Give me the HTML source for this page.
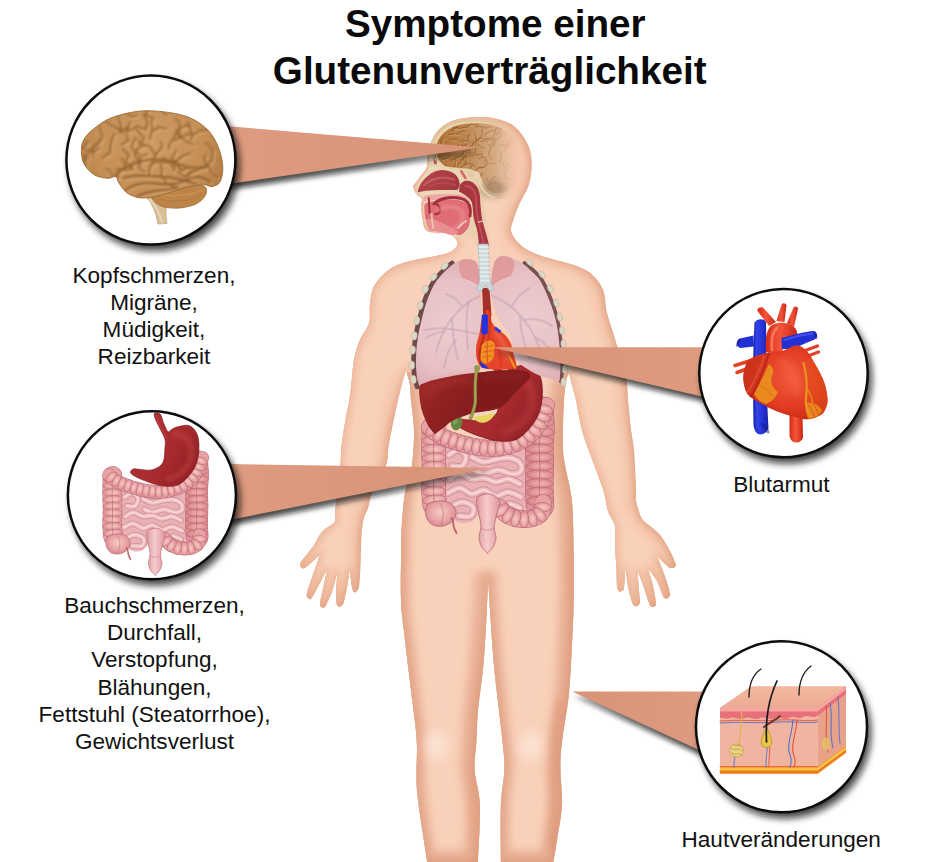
<!DOCTYPE html>
<html><head><meta charset="utf-8"><title>Symptome einer Glutenunverträglichkeit</title>
<style>
html,body{margin:0;padding:0;background:#fff;}
body{width:950px;height:862px;overflow:hidden;font-family:"Liberation Sans",sans-serif;}
svg{display:block}
text{font-family:"Liberation Sans",sans-serif;fill:#0a0a0a}
.t{font-weight:bold;font-size:38.65px;text-anchor:middle}
.l{font-size:22.55px;text-anchor:middle;fill:#111}
</style></head><body>
<svg width="950" height="862" viewBox="0 0 950 862">
<defs>
<linearGradient id="gTorso" gradientUnits="userSpaceOnUse" x1="395" y1="0" x2="580" y2="0">
 <stop offset="0" stop-color="#f8cdb2"/><stop offset="0.18" stop-color="#fad6c0"/><stop offset="0.55" stop-color="#f8cfb5"/><stop offset="0.85" stop-color="#f3bb9b"/><stop offset="1" stop-color="#eeaa88"/>
</linearGradient>
<filter id="sh" filterUnits="userSpaceOnUse" x="0" y="0" width="950" height="862"><feGaussianBlur stdDeviation="3.8"/></filter>
<filter id="sh2" filterUnits="userSpaceOnUse" x="0" y="0" width="950" height="862"><feGaussianBlur stdDeviation="2.8"/></filter>
<filter id="b08" filterUnits="userSpaceOnUse" x="0" y="0" width="950" height="862"><feGaussianBlur stdDeviation="0.8"/></filter>
<filter id="b05" filterUnits="userSpaceOnUse" x="0" y="0" width="950" height="862"><feGaussianBlur stdDeviation="0.7"/></filter>
<filter id="bS1" x="-10%" y="-10%" width="120%" height="120%"><feGaussianBlur stdDeviation="3"/></filter>
<filter id="bS2" x="-10%" y="-10%" width="120%" height="120%"><feGaussianBlur stdDeviation="9"/></filter>
<filter id="b1" filterUnits="userSpaceOnUse" x="0" y="0" width="950" height="862"><feGaussianBlur stdDeviation="1.2"/></filter>
<filter id="b2" filterUnits="userSpaceOnUse" x="0" y="0" width="950" height="862"><feGaussianBlur stdDeviation="3"/></filter>
<filter id="b4" filterUnits="userSpaceOnUse" x="0" y="0" width="950" height="862"><feGaussianBlur stdDeviation="6"/></filter>
<clipPath id="cTorso"><polygon points="407,372 404,400 400,430 397,470 395,500 395,862 582,862 580,470 576,430 571,400 568,372"/></clipPath>
<filter id="bS4" filterUnits="userSpaceOnUse" x="0" y="0" width="950" height="862"><feGaussianBlur stdDeviation="5"/></filter>
<clipPath id="cBody"><path d="M413.0,186.0 C413.5,187.2 414.5,191.3 416.0,193.5 C417.5,195.7 421.2,197.0 422.0,199.0 C422.8,201.0 420.9,202.2 421.0,205.5 C421.1,208.8 421.7,214.4 422.5,218.5 C423.3,222.6 423.6,227.6 426.0,230.0 C428.4,232.4 433.2,232.4 437.0,233.0 C440.8,233.6 445.2,232.3 448.5,233.5 C451.8,234.7 455.1,237.9 456.5,240.0 C457.9,242.1 458.1,244.0 457.0,246.0 C455.9,248.0 453.1,250.4 450.0,252.0 C446.9,253.6 445.1,254.0 438.5,255.5 C431.9,257.0 418.6,258.8 410.5,261.0 C402.4,263.2 396.0,264.9 390.0,269.0 C384.0,273.1 377.8,279.7 374.5,285.5 C371.2,291.3 370.9,297.8 370.0,304.0 C369.1,310.2 370.8,316.8 369.0,323.0 C367.2,329.2 362.0,334.8 359.5,341.0 C357.0,347.2 355.4,352.2 354.0,360.0 C352.6,367.8 351.8,381.0 351.0,388.0 C350.2,395.0 350.0,396.2 349.0,402.0 C348.0,407.8 346.2,415.7 345.0,423.0 C343.8,430.3 342.3,438.5 341.5,446.0 C340.7,453.5 341.1,459.8 340.3,468.0 C339.6,476.2 337.9,487.5 337.0,495.0 C336.1,502.5 335.4,508.5 335.0,513.0 C334.6,517.5 336.8,518.9 334.6,522.0 C332.4,525.1 325.5,527.8 322.0,531.8 C318.5,535.8 316.7,541.3 313.7,545.7 C310.7,550.1 306.3,555.0 304.0,558.0 C301.7,561.0 300.3,562.3 300.0,564.0 C299.7,565.7 301.0,567.5 302.0,568.0 C303.0,568.5 303.0,569.2 306.0,567.0 C309.0,564.8 317.7,556.8 320.0,554.8 C318.5,559.1 313.2,573.9 311.0,580.5 C308.8,587.1 307.1,591.5 306.7,594.5 C306.3,597.5 307.6,598.0 308.5,598.5 C309.4,599.0 309.8,600.8 312.0,597.5 C314.2,594.2 319.4,583.9 322.0,579.0 C324.6,574.1 326.7,569.8 327.6,568.0 C326.8,571.7 324.0,584.3 322.7,590.3 C321.4,596.3 320.1,601.1 320.0,604.0 C319.9,606.9 321.1,607.2 322.0,607.5 C322.9,607.8 323.8,608.9 325.5,606.0 C327.2,603.1 330.5,596.2 332.5,590.3 C334.5,584.4 336.6,574.0 337.4,570.8 C337.2,575.4 335.9,592.7 336.0,598.6 C336.1,604.5 337.2,605.1 338.0,606.3 C338.8,607.5 340.1,606.6 341.0,606.0 C341.9,605.4 342.6,605.9 343.6,602.8 C344.6,599.7 345.9,593.3 347.0,587.5 C348.1,581.7 349.4,571.2 349.9,568.0 C350.2,571.2 351.2,583.4 352.0,587.5 C352.8,591.6 353.9,592.0 354.8,592.4 C355.7,592.8 356.8,591.1 357.5,590.0 C358.2,588.9 358.5,589.7 359.0,586.0 C359.5,582.3 360.0,574.7 360.3,568.0 C360.6,561.3 360.8,551.7 361.0,545.7 C361.2,539.7 361.2,536.4 361.7,531.8 C362.2,527.2 362.8,521.9 363.8,517.9 C364.9,513.9 366.6,512.1 368.0,508.0 C369.4,503.9 369.0,500.2 372.0,493.0 C375.0,485.8 383.2,472.8 386.0,465.0 C388.8,457.2 387.4,453.0 388.6,446.0 C389.8,439.0 391.4,430.7 393.0,423.0 C394.6,415.3 396.3,407.2 398.0,400.0 C399.7,392.8 401.7,385.0 403.0,380.0 C404.3,375.0 405.5,371.7 406.0,370.0 C406.7,372.5 409.2,380.0 410.0,385.0 C410.8,390.0 410.3,392.5 411.0,400.0 C411.7,407.5 413.8,419.2 414.0,430.0 C414.2,440.8 413.5,454.5 412.0,465.0 C410.5,475.5 406.8,482.2 405.0,493.0 C403.2,503.8 402.2,518.5 401.5,530.0 C400.8,541.5 401.1,550.3 401.0,562.0 C400.9,573.7 400.5,588.7 401.0,600.0 C401.5,611.3 401.9,613.3 403.8,630.0 C405.7,646.7 410.0,681.3 412.2,700.0 C414.4,718.7 416.0,727.3 416.8,742.0 C417.6,756.7 415.6,771.7 416.8,788.0 C418.0,804.3 422.1,827.7 423.8,840.0 C425.6,852.3 426.7,858.3 427.3,862.0 C435.8,862.0 469.6,862.0 478.0,862.0 C478.3,852.5 480.5,820.3 479.9,805.0 C479.3,789.7 475.2,780.5 474.6,770.0 C474.0,759.5 475.8,751.9 476.4,742.0 C477.0,732.1 476.8,723.5 478.0,710.7 C479.2,697.9 482.0,680.1 483.4,665.0 C484.8,649.9 485.6,632.5 486.3,620.0 C487.0,607.5 487.3,598.0 487.6,590.0 C487.9,582.0 487.9,575.0 488.0,572.0 C488.1,575.0 488.4,582.0 488.8,590.0 C489.2,598.0 489.9,607.5 490.7,620.0 C491.5,632.5 492.5,649.9 493.9,665.0 C495.3,680.1 497.6,697.9 499.0,710.7 C500.4,723.5 501.7,732.1 502.6,742.0 C503.5,751.9 504.7,759.5 504.4,770.0 C504.1,780.5 501.5,789.7 500.9,805.0 C500.3,820.3 500.9,852.5 500.9,862.0 C509.6,862.0 544.6,862.0 553.4,862.0 C554.0,858.3 555.6,849.5 557.0,840.0 C558.4,830.5 561.4,816.7 562.0,805.0 C562.6,793.3 560.4,780.5 560.4,770.0 C560.4,759.5 560.6,754.8 562.0,742.0 C563.4,729.2 567.2,711.7 569.0,693.0 C570.8,674.3 571.9,645.5 572.7,630.0 C573.5,614.5 573.5,612.8 573.7,600.0 C573.9,587.2 574.0,569.3 573.7,553.0 C573.4,536.7 573.3,515.8 572.0,502.0 C570.7,488.2 567.5,478.5 566.0,470.0 C564.5,461.5 563.5,458.5 563.0,451.0 C562.5,443.5 562.8,433.5 563.0,425.0 C563.2,416.5 563.5,407.3 564.0,400.0 C564.5,392.7 565.2,385.5 566.0,381.0 C566.8,376.5 568.5,374.3 569.0,373.0 C569.8,376.2 572.8,387.5 574.0,392.0 C575.2,396.5 574.7,393.7 576.0,400.0 C577.3,406.3 579.8,421.5 582.0,430.0 C584.2,438.5 585.5,441.2 589.0,451.0 C592.5,460.8 599.8,479.0 603.0,489.0 C606.2,499.0 606.0,504.8 608.0,511.0 C610.0,517.2 613.8,520.4 615.0,526.2 C616.2,532.0 614.8,538.7 615.0,545.7 C615.2,552.7 616.2,561.3 616.5,568.0 C616.8,574.7 616.7,582.2 617.0,586.0 C617.3,589.8 618.0,589.5 618.5,590.5 C619.0,591.5 619.3,591.7 620.0,591.7 C620.7,591.7 621.8,591.2 622.5,590.5 C623.2,589.8 623.5,591.2 624.0,587.5 C624.5,583.8 625.2,571.2 625.5,568.0 C626.0,571.2 627.2,581.9 628.3,587.5 C629.3,593.1 630.8,598.4 631.8,601.4 C632.8,604.4 633.3,604.7 634.0,605.5 C634.7,606.3 635.2,606.4 636.0,606.3 C636.8,606.2 637.8,605.8 638.5,605.0 C639.2,604.2 640.0,604.3 640.0,601.4 C640.0,598.5 639.1,592.7 638.7,587.5 C638.3,582.3 637.6,572.9 637.4,570.0 C638.3,572.5 641.1,579.5 643.0,584.7 C644.9,589.9 647.2,597.9 648.5,601.4 C649.8,604.9 649.8,605.1 650.5,606.0 C651.2,606.9 652.0,607.0 652.7,607.0 C653.5,607.0 654.5,606.7 655.0,606.0 C655.5,605.3 656.4,606.3 656.0,602.8 C655.6,599.2 654.1,590.5 652.7,584.7 C651.3,578.9 648.6,570.8 647.8,568.0 C649.3,570.1 654.4,576.1 656.8,580.5 C659.2,584.9 661.1,591.6 662.4,594.5 C663.7,597.4 663.8,597.3 664.5,598.0 C665.2,598.7 665.9,598.8 666.6,598.6 C667.4,598.4 668.4,597.9 669.0,597.0 C669.6,596.1 670.7,596.4 670.0,593.0 C669.3,589.6 667.2,582.6 665.0,576.4 C662.8,570.1 658.2,559.0 656.8,555.5 C658.2,556.9 663.0,561.8 665.0,563.8 C667.0,565.8 667.8,566.8 669.0,567.5 C670.2,568.2 671.0,568.1 672.0,568.0 C673.0,567.9 674.4,567.7 675.0,567.0 C675.6,566.3 676.5,566.6 675.6,563.8 C674.7,561.0 672.1,554.9 669.4,550.0 C666.7,545.1 663.1,538.8 659.6,534.6 C656.1,530.4 651.5,527.6 648.5,524.8 C645.5,522.0 643.6,521.9 641.5,517.9 C639.4,513.9 636.9,505.6 636.0,501.0 C635.1,496.4 636.3,498.3 636.0,490.0 C635.7,481.7 634.8,461.0 634.0,451.0 C633.2,441.0 632.0,438.5 631.0,430.0 C630.0,421.5 628.8,408.6 628.0,400.0 C627.2,391.4 627.8,387.5 626.0,378.5 C624.2,369.5 619.3,354.1 617.0,346.0 C614.7,337.9 613.8,335.6 612.0,329.8 C610.2,324.0 608.0,317.6 606.5,311.0 C605.0,304.4 605.5,296.2 603.0,290.0 C600.5,283.8 596.4,278.2 591.4,274.0 C586.4,269.8 581.4,267.9 572.8,264.8 C564.2,261.7 548.5,258.6 540.0,255.5 C531.5,252.4 526.6,249.9 521.8,246.0 C517.0,242.1 512.6,236.6 511.3,232.0 C510.0,227.4 512.2,223.6 513.7,218.7 C515.2,213.8 517.6,207.9 520.0,202.5 C522.4,197.1 526.4,192.2 528.3,186.2 C530.2,180.2 531.6,173.5 531.6,166.7 C531.6,159.9 531.3,152.4 528.3,145.6 C525.3,138.8 519.8,130.6 513.7,126.0 C507.7,121.4 499.3,119.4 492.0,118.0 C484.7,116.6 476.7,117.0 470.0,117.5 C463.3,118.0 457.2,119.0 452.0,121.0 C446.8,123.0 442.5,125.9 439.0,129.5 C435.5,133.1 432.9,137.7 431.0,142.5 C429.1,147.3 428.2,154.4 427.5,158.5 C426.8,162.6 428.2,163.9 427.0,167.0 C425.8,170.1 422.3,173.8 420.0,177.0 C417.7,180.2 414.2,184.5 413.0,186.0 Z"/></clipPath>
<linearGradient id="gShL" x1="0" y1="0" x2="1" y2="0"><stop offset="0" stop-color="#151515" stop-opacity="0.78"/><stop offset="0.6" stop-color="#151515" stop-opacity="0.66"/><stop offset="1" stop-color="#151515" stop-opacity="0.38"/></linearGradient>
<linearGradient id="gShR" x1="1" y1="0" x2="0" y2="0"><stop offset="0" stop-color="#151515" stop-opacity="0.78"/><stop offset="0.6" stop-color="#151515" stop-opacity="0.66"/><stop offset="1" stop-color="#151515" stop-opacity="0.38"/></linearGradient>
<linearGradient id="gTri" x1="0" y1="0" x2="1" y2="0"><stop offset="0" stop-color="#de9b7f"/><stop offset="1" stop-color="#d89378"/></linearGradient>
<linearGradient id="gTriR" x1="1" y1="0" x2="0" y2="0"><stop offset="0" stop-color="#de9b7f"/><stop offset="1" stop-color="#d89378"/></linearGradient>

<radialGradient id="gHau" cx="0.5" cy="0.45" r="0.6"><stop offset="0" stop-color="#f6cac6"/><stop offset="0.55" stop-color="#eaa6a8"/><stop offset="1" stop-color="#d4848c"/></radialGradient>
<radialGradient id="gHau2" cx="0.5" cy="0.45" r="0.6"><stop offset="0" stop-color="#f2b8b6"/><stop offset="0.55" stop-color="#e29498"/><stop offset="1" stop-color="#cc747e"/></radialGradient>
<linearGradient id="gRect" gradientUnits="userSpaceOnUse" x1="477" y1="0" x2="499" y2="0"><stop offset="0" stop-color="#e09aa0"/><stop offset="0.45" stop-color="#f6cccc"/><stop offset="1" stop-color="#e09aa0"/></linearGradient>
<linearGradient id="gStom" gradientUnits="userSpaceOnUse" x1="465" y1="380" x2="545" y2="430"><stop offset="0" stop-color="#b03032"/><stop offset="0.5" stop-color="#a62a2e"/><stop offset="1" stop-color="#8a1e24"/></linearGradient>
<linearGradient id="gLiver" gradientUnits="userSpaceOnUse" x1="420" y1="375" x2="500" y2="430"><stop offset="0" stop-color="#a02a28"/><stop offset="0.4" stop-color="#8e2020"/><stop offset="1" stop-color="#7c181a"/></linearGradient>
<radialGradient id="gLungL" gradientUnits="userSpaceOnUse" cx="452" cy="325" r="66"><stop offset="0" stop-color="#ecccd0"/><stop offset="0.7" stop-color="#e7c0c4"/><stop offset="1" stop-color="#dfb0b6"/></radialGradient>
<radialGradient id="gLungR" gradientUnits="userSpaceOnUse" cx="528" cy="318" r="66"><stop offset="0" stop-color="#ecccd0"/><stop offset="0.7" stop-color="#e7c0c4"/><stop offset="1" stop-color="#dfb0b6"/></radialGradient>
<linearGradient id="gBlue" gradientUnits="userSpaceOnUse" x1="752" y1="0" x2="767" y2="0"><stop offset="0" stop-color="#1a22a8"/><stop offset="0.5" stop-color="#2c3ce6"/><stop offset="1" stop-color="#1c26b4"/></linearGradient>
<linearGradient id="gRed" x1="0" y1="0" x2="1" y2="0"><stop offset="0" stop-color="#d42c18"/><stop offset="0.45" stop-color="#f4553a"/><stop offset="1" stop-color="#cc2614"/></linearGradient>
<radialGradient id="gHeart" gradientUnits="userSpaceOnUse" cx="790" cy="378" r="48"><stop offset="0" stop-color="#f25a3a"/><stop offset="0.6" stop-color="#e23c22"/><stop offset="1" stop-color="#c62814"/></radialGradient>
<radialGradient id="gBrain" gradientUnits="userSpaceOnUse" cx="150" cy="145" r="80"><stop offset="0" stop-color="#cf9c64"/><stop offset="0.7" stop-color="#c48e54"/><stop offset="1" stop-color="#b27a40"/></radialGradient>
<linearGradient id="gSkinTop" x1="0" y1="0" x2="0" y2="1"><stop offset="0" stop-color="#f2b9a0"/><stop offset="1" stop-color="#ecaa92"/></linearGradient>
<linearGradient id="gCut" gradientUnits="userSpaceOnUse" x1="430" y1="0" x2="528" y2="0"><stop offset="0" stop-color="#ecd9b8"/><stop offset="0.45" stop-color="#ebd0ae"/><stop offset="0.85" stop-color="#f4c4a6" stop-opacity="0.6"/><stop offset="1" stop-color="#f4c4a6" stop-opacity="0"/></linearGradient>
<linearGradient id="gBrainH" gradientUnits="userSpaceOnUse" x1="437" y1="0" x2="522" y2="0"><stop offset="0" stop-color="#b6753a"/><stop offset="0.35" stop-color="#bd8650"/><stop offset="0.7" stop-color="#d0a680" stop-opacity="0.8"/><stop offset="1" stop-color="#eec2a4" stop-opacity="0"/></linearGradient>
<linearGradient id="gNasal" gradientUnits="userSpaceOnUse" x1="418" y1="170" x2="460" y2="195"><stop offset="0" stop-color="#b8464c"/><stop offset="1" stop-color="#a0343c"/></linearGradient>
<linearGradient id="gFade" gradientUnits="userSpaceOnUse" x1="440" y1="0" x2="515" y2="0"><stop offset="0" stop-color="#fff"/><stop offset="0.4" stop-color="#fff"/><stop offset="1" stop-color="#000"/></linearGradient>
<mask id="mFade" maskUnits="userSpaceOnUse" x="400" y="100" width="150" height="160"><rect x="400" y="100" width="150" height="160" fill="url(#gFade)"/></mask>
<linearGradient id="gFade2" gradientUnits="userSpaceOnUse" x1="440" y1="0" x2="526" y2="0"><stop offset="0" stop-color="#fff"/><stop offset="0.6" stop-color="#fff"/><stop offset="1" stop-color="#000"/></linearGradient>
<mask id="mFade2" maskUnits="userSpaceOnUse" x="400" y="100" width="150" height="160"><rect x="400" y="100" width="150" height="160" fill="url(#gFade2)"/></mask>
</defs>
<rect width="950" height="862" fill="#fff"/>
<path d="M413.0,186.0 C413.5,187.2 414.5,191.3 416.0,193.5 C417.5,195.7 421.2,197.0 422.0,199.0 C422.8,201.0 420.9,202.2 421.0,205.5 C421.1,208.8 421.7,214.4 422.5,218.5 C423.3,222.6 423.6,227.6 426.0,230.0 C428.4,232.4 433.2,232.4 437.0,233.0 C440.8,233.6 445.2,232.3 448.5,233.5 C451.8,234.7 455.1,237.9 456.5,240.0 C457.9,242.1 458.1,244.0 457.0,246.0 C455.9,248.0 453.1,250.4 450.0,252.0 C446.9,253.6 445.1,254.0 438.5,255.5 C431.9,257.0 418.6,258.8 410.5,261.0 C402.4,263.2 396.0,264.9 390.0,269.0 C384.0,273.1 377.8,279.7 374.5,285.5 C371.2,291.3 370.9,297.8 370.0,304.0 C369.1,310.2 370.8,316.8 369.0,323.0 C367.2,329.2 362.0,334.8 359.5,341.0 C357.0,347.2 355.4,352.2 354.0,360.0 C352.6,367.8 351.8,381.0 351.0,388.0 C350.2,395.0 350.0,396.2 349.0,402.0 C348.0,407.8 346.2,415.7 345.0,423.0 C343.8,430.3 342.3,438.5 341.5,446.0 C340.7,453.5 341.1,459.8 340.3,468.0 C339.6,476.2 337.9,487.5 337.0,495.0 C336.1,502.5 335.4,508.5 335.0,513.0 C334.6,517.5 336.8,518.9 334.6,522.0 C332.4,525.1 325.5,527.8 322.0,531.8 C318.5,535.8 316.7,541.3 313.7,545.7 C310.7,550.1 306.3,555.0 304.0,558.0 C301.7,561.0 300.3,562.3 300.0,564.0 C299.7,565.7 301.0,567.5 302.0,568.0 C303.0,568.5 303.0,569.2 306.0,567.0 C309.0,564.8 317.7,556.8 320.0,554.8 C318.5,559.1 313.2,573.9 311.0,580.5 C308.8,587.1 307.1,591.5 306.7,594.5 C306.3,597.5 307.6,598.0 308.5,598.5 C309.4,599.0 309.8,600.8 312.0,597.5 C314.2,594.2 319.4,583.9 322.0,579.0 C324.6,574.1 326.7,569.8 327.6,568.0 C326.8,571.7 324.0,584.3 322.7,590.3 C321.4,596.3 320.1,601.1 320.0,604.0 C319.9,606.9 321.1,607.2 322.0,607.5 C322.9,607.8 323.8,608.9 325.5,606.0 C327.2,603.1 330.5,596.2 332.5,590.3 C334.5,584.4 336.6,574.0 337.4,570.8 C337.2,575.4 335.9,592.7 336.0,598.6 C336.1,604.5 337.2,605.1 338.0,606.3 C338.8,607.5 340.1,606.6 341.0,606.0 C341.9,605.4 342.6,605.9 343.6,602.8 C344.6,599.7 345.9,593.3 347.0,587.5 C348.1,581.7 349.4,571.2 349.9,568.0 C350.2,571.2 351.2,583.4 352.0,587.5 C352.8,591.6 353.9,592.0 354.8,592.4 C355.7,592.8 356.8,591.1 357.5,590.0 C358.2,588.9 358.5,589.7 359.0,586.0 C359.5,582.3 360.0,574.7 360.3,568.0 C360.6,561.3 360.8,551.7 361.0,545.7 C361.2,539.7 361.2,536.4 361.7,531.8 C362.2,527.2 362.8,521.9 363.8,517.9 C364.9,513.9 366.6,512.1 368.0,508.0 C369.4,503.9 369.0,500.2 372.0,493.0 C375.0,485.8 383.2,472.8 386.0,465.0 C388.8,457.2 387.4,453.0 388.6,446.0 C389.8,439.0 391.4,430.7 393.0,423.0 C394.6,415.3 396.3,407.2 398.0,400.0 C399.7,392.8 401.7,385.0 403.0,380.0 C404.3,375.0 405.5,371.7 406.0,370.0 C406.7,372.5 409.2,380.0 410.0,385.0 C410.8,390.0 410.3,392.5 411.0,400.0 C411.7,407.5 413.8,419.2 414.0,430.0 C414.2,440.8 413.5,454.5 412.0,465.0 C410.5,475.5 406.8,482.2 405.0,493.0 C403.2,503.8 402.2,518.5 401.5,530.0 C400.8,541.5 401.1,550.3 401.0,562.0 C400.9,573.7 400.5,588.7 401.0,600.0 C401.5,611.3 401.9,613.3 403.8,630.0 C405.7,646.7 410.0,681.3 412.2,700.0 C414.4,718.7 416.0,727.3 416.8,742.0 C417.6,756.7 415.6,771.7 416.8,788.0 C418.0,804.3 422.1,827.7 423.8,840.0 C425.6,852.3 426.7,858.3 427.3,862.0 C435.8,862.0 469.6,862.0 478.0,862.0 C478.3,852.5 480.5,820.3 479.9,805.0 C479.3,789.7 475.2,780.5 474.6,770.0 C474.0,759.5 475.8,751.9 476.4,742.0 C477.0,732.1 476.8,723.5 478.0,710.7 C479.2,697.9 482.0,680.1 483.4,665.0 C484.8,649.9 485.6,632.5 486.3,620.0 C487.0,607.5 487.3,598.0 487.6,590.0 C487.9,582.0 487.9,575.0 488.0,572.0 C488.1,575.0 488.4,582.0 488.8,590.0 C489.2,598.0 489.9,607.5 490.7,620.0 C491.5,632.5 492.5,649.9 493.9,665.0 C495.3,680.1 497.6,697.9 499.0,710.7 C500.4,723.5 501.7,732.1 502.6,742.0 C503.5,751.9 504.7,759.5 504.4,770.0 C504.1,780.5 501.5,789.7 500.9,805.0 C500.3,820.3 500.9,852.5 500.9,862.0 C509.6,862.0 544.6,862.0 553.4,862.0 C554.0,858.3 555.6,849.5 557.0,840.0 C558.4,830.5 561.4,816.7 562.0,805.0 C562.6,793.3 560.4,780.5 560.4,770.0 C560.4,759.5 560.6,754.8 562.0,742.0 C563.4,729.2 567.2,711.7 569.0,693.0 C570.8,674.3 571.9,645.5 572.7,630.0 C573.5,614.5 573.5,612.8 573.7,600.0 C573.9,587.2 574.0,569.3 573.7,553.0 C573.4,536.7 573.3,515.8 572.0,502.0 C570.7,488.2 567.5,478.5 566.0,470.0 C564.5,461.5 563.5,458.5 563.0,451.0 C562.5,443.5 562.8,433.5 563.0,425.0 C563.2,416.5 563.5,407.3 564.0,400.0 C564.5,392.7 565.2,385.5 566.0,381.0 C566.8,376.5 568.5,374.3 569.0,373.0 C569.8,376.2 572.8,387.5 574.0,392.0 C575.2,396.5 574.7,393.7 576.0,400.0 C577.3,406.3 579.8,421.5 582.0,430.0 C584.2,438.5 585.5,441.2 589.0,451.0 C592.5,460.8 599.8,479.0 603.0,489.0 C606.2,499.0 606.0,504.8 608.0,511.0 C610.0,517.2 613.8,520.4 615.0,526.2 C616.2,532.0 614.8,538.7 615.0,545.7 C615.2,552.7 616.2,561.3 616.5,568.0 C616.8,574.7 616.7,582.2 617.0,586.0 C617.3,589.8 618.0,589.5 618.5,590.5 C619.0,591.5 619.3,591.7 620.0,591.7 C620.7,591.7 621.8,591.2 622.5,590.5 C623.2,589.8 623.5,591.2 624.0,587.5 C624.5,583.8 625.2,571.2 625.5,568.0 C626.0,571.2 627.2,581.9 628.3,587.5 C629.3,593.1 630.8,598.4 631.8,601.4 C632.8,604.4 633.3,604.7 634.0,605.5 C634.7,606.3 635.2,606.4 636.0,606.3 C636.8,606.2 637.8,605.8 638.5,605.0 C639.2,604.2 640.0,604.3 640.0,601.4 C640.0,598.5 639.1,592.7 638.7,587.5 C638.3,582.3 637.6,572.9 637.4,570.0 C638.3,572.5 641.1,579.5 643.0,584.7 C644.9,589.9 647.2,597.9 648.5,601.4 C649.8,604.9 649.8,605.1 650.5,606.0 C651.2,606.9 652.0,607.0 652.7,607.0 C653.5,607.0 654.5,606.7 655.0,606.0 C655.5,605.3 656.4,606.3 656.0,602.8 C655.6,599.2 654.1,590.5 652.7,584.7 C651.3,578.9 648.6,570.8 647.8,568.0 C649.3,570.1 654.4,576.1 656.8,580.5 C659.2,584.9 661.1,591.6 662.4,594.5 C663.7,597.4 663.8,597.3 664.5,598.0 C665.2,598.7 665.9,598.8 666.6,598.6 C667.4,598.4 668.4,597.9 669.0,597.0 C669.6,596.1 670.7,596.4 670.0,593.0 C669.3,589.6 667.2,582.6 665.0,576.4 C662.8,570.1 658.2,559.0 656.8,555.5 C658.2,556.9 663.0,561.8 665.0,563.8 C667.0,565.8 667.8,566.8 669.0,567.5 C670.2,568.2 671.0,568.1 672.0,568.0 C673.0,567.9 674.4,567.7 675.0,567.0 C675.6,566.3 676.5,566.6 675.6,563.8 C674.7,561.0 672.1,554.9 669.4,550.0 C666.7,545.1 663.1,538.8 659.6,534.6 C656.1,530.4 651.5,527.6 648.5,524.8 C645.5,522.0 643.6,521.9 641.5,517.9 C639.4,513.9 636.9,505.6 636.0,501.0 C635.1,496.4 636.3,498.3 636.0,490.0 C635.7,481.7 634.8,461.0 634.0,451.0 C633.2,441.0 632.0,438.5 631.0,430.0 C630.0,421.5 628.8,408.6 628.0,400.0 C627.2,391.4 627.8,387.5 626.0,378.5 C624.2,369.5 619.3,354.1 617.0,346.0 C614.7,337.9 613.8,335.6 612.0,329.8 C610.2,324.0 608.0,317.6 606.5,311.0 C605.0,304.4 605.5,296.2 603.0,290.0 C600.5,283.8 596.4,278.2 591.4,274.0 C586.4,269.8 581.4,267.9 572.8,264.8 C564.2,261.7 548.5,258.6 540.0,255.5 C531.5,252.4 526.6,249.9 521.8,246.0 C517.0,242.1 512.6,236.6 511.3,232.0 C510.0,227.4 512.2,223.6 513.7,218.7 C515.2,213.8 517.6,207.9 520.0,202.5 C522.4,197.1 526.4,192.2 528.3,186.2 C530.2,180.2 531.6,173.5 531.6,166.7 C531.6,159.9 531.3,152.4 528.3,145.6 C525.3,138.8 519.8,130.6 513.7,126.0 C507.7,121.4 499.3,119.4 492.0,118.0 C484.7,116.6 476.7,117.0 470.0,117.5 C463.3,118.0 457.2,119.0 452.0,121.0 C446.8,123.0 442.5,125.9 439.0,129.5 C435.5,133.1 432.9,137.7 431.0,142.5 C429.1,147.3 428.2,154.4 427.5,158.5 C426.8,162.6 428.2,163.9 427.0,167.0 C425.8,170.1 422.3,173.8 420.0,177.0 C417.7,180.2 414.2,184.5 413.0,186.0 Z" fill="#d99674"/><g clip-path="url(#cBody)"><path d="M413.0,186.0 C413.5,187.2 414.5,191.3 416.0,193.5 C417.5,195.7 421.2,197.0 422.0,199.0 C422.8,201.0 420.9,202.2 421.0,205.5 C421.1,208.8 421.7,214.4 422.5,218.5 C423.3,222.6 423.6,227.6 426.0,230.0 C428.4,232.4 433.2,232.4 437.0,233.0 C440.8,233.6 445.2,232.3 448.5,233.5 C451.8,234.7 455.1,237.9 456.5,240.0 C457.9,242.1 458.1,244.0 457.0,246.0 C455.9,248.0 453.1,250.4 450.0,252.0 C446.9,253.6 445.1,254.0 438.5,255.5 C431.9,257.0 418.6,258.8 410.5,261.0 C402.4,263.2 396.0,264.9 390.0,269.0 C384.0,273.1 377.8,279.7 374.5,285.5 C371.2,291.3 370.9,297.8 370.0,304.0 C369.1,310.2 370.8,316.8 369.0,323.0 C367.2,329.2 362.0,334.8 359.5,341.0 C357.0,347.2 355.4,352.2 354.0,360.0 C352.6,367.8 351.8,381.0 351.0,388.0 C350.2,395.0 350.0,396.2 349.0,402.0 C348.0,407.8 346.2,415.7 345.0,423.0 C343.8,430.3 342.3,438.5 341.5,446.0 C340.7,453.5 341.1,459.8 340.3,468.0 C339.6,476.2 337.9,487.5 337.0,495.0 C336.1,502.5 335.4,508.5 335.0,513.0 C334.6,517.5 336.8,518.9 334.6,522.0 C332.4,525.1 325.5,527.8 322.0,531.8 C318.5,535.8 316.7,541.3 313.7,545.7 C310.7,550.1 306.3,555.0 304.0,558.0 C301.7,561.0 300.3,562.3 300.0,564.0 C299.7,565.7 301.0,567.5 302.0,568.0 C303.0,568.5 303.0,569.2 306.0,567.0 C309.0,564.8 317.7,556.8 320.0,554.8 C318.5,559.1 313.2,573.9 311.0,580.5 C308.8,587.1 307.1,591.5 306.7,594.5 C306.3,597.5 307.6,598.0 308.5,598.5 C309.4,599.0 309.8,600.8 312.0,597.5 C314.2,594.2 319.4,583.9 322.0,579.0 C324.6,574.1 326.7,569.8 327.6,568.0 C326.8,571.7 324.0,584.3 322.7,590.3 C321.4,596.3 320.1,601.1 320.0,604.0 C319.9,606.9 321.1,607.2 322.0,607.5 C322.9,607.8 323.8,608.9 325.5,606.0 C327.2,603.1 330.5,596.2 332.5,590.3 C334.5,584.4 336.6,574.0 337.4,570.8 C337.2,575.4 335.9,592.7 336.0,598.6 C336.1,604.5 337.2,605.1 338.0,606.3 C338.8,607.5 340.1,606.6 341.0,606.0 C341.9,605.4 342.6,605.9 343.6,602.8 C344.6,599.7 345.9,593.3 347.0,587.5 C348.1,581.7 349.4,571.2 349.9,568.0 C350.2,571.2 351.2,583.4 352.0,587.5 C352.8,591.6 353.9,592.0 354.8,592.4 C355.7,592.8 356.8,591.1 357.5,590.0 C358.2,588.9 358.5,589.7 359.0,586.0 C359.5,582.3 360.0,574.7 360.3,568.0 C360.6,561.3 360.8,551.7 361.0,545.7 C361.2,539.7 361.2,536.4 361.7,531.8 C362.2,527.2 362.8,521.9 363.8,517.9 C364.9,513.9 366.6,512.1 368.0,508.0 C369.4,503.9 369.0,500.2 372.0,493.0 C375.0,485.8 383.2,472.8 386.0,465.0 C388.8,457.2 387.4,453.0 388.6,446.0 C389.8,439.0 391.4,430.7 393.0,423.0 C394.6,415.3 396.3,407.2 398.0,400.0 C399.7,392.8 401.7,385.0 403.0,380.0 C404.3,375.0 405.5,371.7 406.0,370.0 C406.7,372.5 409.2,380.0 410.0,385.0 C410.8,390.0 410.3,392.5 411.0,400.0 C411.7,407.5 413.8,419.2 414.0,430.0 C414.2,440.8 413.5,454.5 412.0,465.0 C410.5,475.5 406.8,482.2 405.0,493.0 C403.2,503.8 402.2,518.5 401.5,530.0 C400.8,541.5 401.1,550.3 401.0,562.0 C400.9,573.7 400.5,588.7 401.0,600.0 C401.5,611.3 401.9,613.3 403.8,630.0 C405.7,646.7 410.0,681.3 412.2,700.0 C414.4,718.7 416.0,727.3 416.8,742.0 C417.6,756.7 415.6,771.7 416.8,788.0 C418.0,804.3 422.1,827.7 423.8,840.0 C425.6,852.3 426.7,858.3 427.3,862.0 C435.8,862.0 469.6,862.0 478.0,862.0 C478.3,852.5 480.5,820.3 479.9,805.0 C479.3,789.7 475.2,780.5 474.6,770.0 C474.0,759.5 475.8,751.9 476.4,742.0 C477.0,732.1 476.8,723.5 478.0,710.7 C479.2,697.9 482.0,680.1 483.4,665.0 C484.8,649.9 485.6,632.5 486.3,620.0 C487.0,607.5 487.3,598.0 487.6,590.0 C487.9,582.0 487.9,575.0 488.0,572.0 C488.1,575.0 488.4,582.0 488.8,590.0 C489.2,598.0 489.9,607.5 490.7,620.0 C491.5,632.5 492.5,649.9 493.9,665.0 C495.3,680.1 497.6,697.9 499.0,710.7 C500.4,723.5 501.7,732.1 502.6,742.0 C503.5,751.9 504.7,759.5 504.4,770.0 C504.1,780.5 501.5,789.7 500.9,805.0 C500.3,820.3 500.9,852.5 500.9,862.0 C509.6,862.0 544.6,862.0 553.4,862.0 C554.0,858.3 555.6,849.5 557.0,840.0 C558.4,830.5 561.4,816.7 562.0,805.0 C562.6,793.3 560.4,780.5 560.4,770.0 C560.4,759.5 560.6,754.8 562.0,742.0 C563.4,729.2 567.2,711.7 569.0,693.0 C570.8,674.3 571.9,645.5 572.7,630.0 C573.5,614.5 573.5,612.8 573.7,600.0 C573.9,587.2 574.0,569.3 573.7,553.0 C573.4,536.7 573.3,515.8 572.0,502.0 C570.7,488.2 567.5,478.5 566.0,470.0 C564.5,461.5 563.5,458.5 563.0,451.0 C562.5,443.5 562.8,433.5 563.0,425.0 C563.2,416.5 563.5,407.3 564.0,400.0 C564.5,392.7 565.2,385.5 566.0,381.0 C566.8,376.5 568.5,374.3 569.0,373.0 C569.8,376.2 572.8,387.5 574.0,392.0 C575.2,396.5 574.7,393.7 576.0,400.0 C577.3,406.3 579.8,421.5 582.0,430.0 C584.2,438.5 585.5,441.2 589.0,451.0 C592.5,460.8 599.8,479.0 603.0,489.0 C606.2,499.0 606.0,504.8 608.0,511.0 C610.0,517.2 613.8,520.4 615.0,526.2 C616.2,532.0 614.8,538.7 615.0,545.7 C615.2,552.7 616.2,561.3 616.5,568.0 C616.8,574.7 616.7,582.2 617.0,586.0 C617.3,589.8 618.0,589.5 618.5,590.5 C619.0,591.5 619.3,591.7 620.0,591.7 C620.7,591.7 621.8,591.2 622.5,590.5 C623.2,589.8 623.5,591.2 624.0,587.5 C624.5,583.8 625.2,571.2 625.5,568.0 C626.0,571.2 627.2,581.9 628.3,587.5 C629.3,593.1 630.8,598.4 631.8,601.4 C632.8,604.4 633.3,604.7 634.0,605.5 C634.7,606.3 635.2,606.4 636.0,606.3 C636.8,606.2 637.8,605.8 638.5,605.0 C639.2,604.2 640.0,604.3 640.0,601.4 C640.0,598.5 639.1,592.7 638.7,587.5 C638.3,582.3 637.6,572.9 637.4,570.0 C638.3,572.5 641.1,579.5 643.0,584.7 C644.9,589.9 647.2,597.9 648.5,601.4 C649.8,604.9 649.8,605.1 650.5,606.0 C651.2,606.9 652.0,607.0 652.7,607.0 C653.5,607.0 654.5,606.7 655.0,606.0 C655.5,605.3 656.4,606.3 656.0,602.8 C655.6,599.2 654.1,590.5 652.7,584.7 C651.3,578.9 648.6,570.8 647.8,568.0 C649.3,570.1 654.4,576.1 656.8,580.5 C659.2,584.9 661.1,591.6 662.4,594.5 C663.7,597.4 663.8,597.3 664.5,598.0 C665.2,598.7 665.9,598.8 666.6,598.6 C667.4,598.4 668.4,597.9 669.0,597.0 C669.6,596.1 670.7,596.4 670.0,593.0 C669.3,589.6 667.2,582.6 665.0,576.4 C662.8,570.1 658.2,559.0 656.8,555.5 C658.2,556.9 663.0,561.8 665.0,563.8 C667.0,565.8 667.8,566.8 669.0,567.5 C670.2,568.2 671.0,568.1 672.0,568.0 C673.0,567.9 674.4,567.7 675.0,567.0 C675.6,566.3 676.5,566.6 675.6,563.8 C674.7,561.0 672.1,554.9 669.4,550.0 C666.7,545.1 663.1,538.8 659.6,534.6 C656.1,530.4 651.5,527.6 648.5,524.8 C645.5,522.0 643.6,521.9 641.5,517.9 C639.4,513.9 636.9,505.6 636.0,501.0 C635.1,496.4 636.3,498.3 636.0,490.0 C635.7,481.7 634.8,461.0 634.0,451.0 C633.2,441.0 632.0,438.5 631.0,430.0 C630.0,421.5 628.8,408.6 628.0,400.0 C627.2,391.4 627.8,387.5 626.0,378.5 C624.2,369.5 619.3,354.1 617.0,346.0 C614.7,337.9 613.8,335.6 612.0,329.8 C610.2,324.0 608.0,317.6 606.5,311.0 C605.0,304.4 605.5,296.2 603.0,290.0 C600.5,283.8 596.4,278.2 591.4,274.0 C586.4,269.8 581.4,267.9 572.8,264.8 C564.2,261.7 548.5,258.6 540.0,255.5 C531.5,252.4 526.6,249.9 521.8,246.0 C517.0,242.1 512.6,236.6 511.3,232.0 C510.0,227.4 512.2,223.6 513.7,218.7 C515.2,213.8 517.6,207.9 520.0,202.5 C522.4,197.1 526.4,192.2 528.3,186.2 C530.2,180.2 531.6,173.5 531.6,166.7 C531.6,159.9 531.3,152.4 528.3,145.6 C525.3,138.8 519.8,130.6 513.7,126.0 C507.7,121.4 499.3,119.4 492.0,118.0 C484.7,116.6 476.7,117.0 470.0,117.5 C463.3,118.0 457.2,119.0 452.0,121.0 C446.8,123.0 442.5,125.9 439.0,129.5 C435.5,133.1 432.9,137.7 431.0,142.5 C429.1,147.3 428.2,154.4 427.5,158.5 C426.8,162.6 428.2,163.9 427.0,167.0 C425.8,170.1 422.3,173.8 420.0,177.0 C417.7,180.2 414.2,184.5 413.0,186.0 Z" fill="#edb597" transform="translate(-2,0)" filter="url(#bS1)"/><path d="M413.0,186.0 C413.5,187.2 414.5,191.3 416.0,193.5 C417.5,195.7 421.2,197.0 422.0,199.0 C422.8,201.0 420.9,202.2 421.0,205.5 C421.1,208.8 421.7,214.4 422.5,218.5 C423.3,222.6 423.6,227.6 426.0,230.0 C428.4,232.4 433.2,232.4 437.0,233.0 C440.8,233.6 445.2,232.3 448.5,233.5 C451.8,234.7 455.1,237.9 456.5,240.0 C457.9,242.1 458.1,244.0 457.0,246.0 C455.9,248.0 453.1,250.4 450.0,252.0 C446.9,253.6 445.1,254.0 438.5,255.5 C431.9,257.0 418.6,258.8 410.5,261.0 C402.4,263.2 396.0,264.9 390.0,269.0 C384.0,273.1 377.8,279.7 374.5,285.5 C371.2,291.3 370.9,297.8 370.0,304.0 C369.1,310.2 370.8,316.8 369.0,323.0 C367.2,329.2 362.0,334.8 359.5,341.0 C357.0,347.2 355.4,352.2 354.0,360.0 C352.6,367.8 351.8,381.0 351.0,388.0 C350.2,395.0 350.0,396.2 349.0,402.0 C348.0,407.8 346.2,415.7 345.0,423.0 C343.8,430.3 342.3,438.5 341.5,446.0 C340.7,453.5 341.1,459.8 340.3,468.0 C339.6,476.2 337.9,487.5 337.0,495.0 C336.1,502.5 335.4,508.5 335.0,513.0 C334.6,517.5 336.8,518.9 334.6,522.0 C332.4,525.1 325.5,527.8 322.0,531.8 C318.5,535.8 316.7,541.3 313.7,545.7 C310.7,550.1 306.3,555.0 304.0,558.0 C301.7,561.0 300.3,562.3 300.0,564.0 C299.7,565.7 301.0,567.5 302.0,568.0 C303.0,568.5 303.0,569.2 306.0,567.0 C309.0,564.8 317.7,556.8 320.0,554.8 C318.5,559.1 313.2,573.9 311.0,580.5 C308.8,587.1 307.1,591.5 306.7,594.5 C306.3,597.5 307.6,598.0 308.5,598.5 C309.4,599.0 309.8,600.8 312.0,597.5 C314.2,594.2 319.4,583.9 322.0,579.0 C324.6,574.1 326.7,569.8 327.6,568.0 C326.8,571.7 324.0,584.3 322.7,590.3 C321.4,596.3 320.1,601.1 320.0,604.0 C319.9,606.9 321.1,607.2 322.0,607.5 C322.9,607.8 323.8,608.9 325.5,606.0 C327.2,603.1 330.5,596.2 332.5,590.3 C334.5,584.4 336.6,574.0 337.4,570.8 C337.2,575.4 335.9,592.7 336.0,598.6 C336.1,604.5 337.2,605.1 338.0,606.3 C338.8,607.5 340.1,606.6 341.0,606.0 C341.9,605.4 342.6,605.9 343.6,602.8 C344.6,599.7 345.9,593.3 347.0,587.5 C348.1,581.7 349.4,571.2 349.9,568.0 C350.2,571.2 351.2,583.4 352.0,587.5 C352.8,591.6 353.9,592.0 354.8,592.4 C355.7,592.8 356.8,591.1 357.5,590.0 C358.2,588.9 358.5,589.7 359.0,586.0 C359.5,582.3 360.0,574.7 360.3,568.0 C360.6,561.3 360.8,551.7 361.0,545.7 C361.2,539.7 361.2,536.4 361.7,531.8 C362.2,527.2 362.8,521.9 363.8,517.9 C364.9,513.9 366.6,512.1 368.0,508.0 C369.4,503.9 369.0,500.2 372.0,493.0 C375.0,485.8 383.2,472.8 386.0,465.0 C388.8,457.2 387.4,453.0 388.6,446.0 C389.8,439.0 391.4,430.7 393.0,423.0 C394.6,415.3 396.3,407.2 398.0,400.0 C399.7,392.8 401.7,385.0 403.0,380.0 C404.3,375.0 405.5,371.7 406.0,370.0 C406.7,372.5 409.2,380.0 410.0,385.0 C410.8,390.0 410.3,392.5 411.0,400.0 C411.7,407.5 413.8,419.2 414.0,430.0 C414.2,440.8 413.5,454.5 412.0,465.0 C410.5,475.5 406.8,482.2 405.0,493.0 C403.2,503.8 402.2,518.5 401.5,530.0 C400.8,541.5 401.1,550.3 401.0,562.0 C400.9,573.7 400.5,588.7 401.0,600.0 C401.5,611.3 401.9,613.3 403.8,630.0 C405.7,646.7 410.0,681.3 412.2,700.0 C414.4,718.7 416.0,727.3 416.8,742.0 C417.6,756.7 415.6,771.7 416.8,788.0 C418.0,804.3 422.1,827.7 423.8,840.0 C425.6,852.3 426.7,858.3 427.3,862.0 C435.8,862.0 469.6,862.0 478.0,862.0 C478.3,852.5 480.5,820.3 479.9,805.0 C479.3,789.7 475.2,780.5 474.6,770.0 C474.0,759.5 475.8,751.9 476.4,742.0 C477.0,732.1 476.8,723.5 478.0,710.7 C479.2,697.9 482.0,680.1 483.4,665.0 C484.8,649.9 485.6,632.5 486.3,620.0 C487.0,607.5 487.3,598.0 487.6,590.0 C487.9,582.0 487.9,575.0 488.0,572.0 C488.1,575.0 488.4,582.0 488.8,590.0 C489.2,598.0 489.9,607.5 490.7,620.0 C491.5,632.5 492.5,649.9 493.9,665.0 C495.3,680.1 497.6,697.9 499.0,710.7 C500.4,723.5 501.7,732.1 502.6,742.0 C503.5,751.9 504.7,759.5 504.4,770.0 C504.1,780.5 501.5,789.7 500.9,805.0 C500.3,820.3 500.9,852.5 500.9,862.0 C509.6,862.0 544.6,862.0 553.4,862.0 C554.0,858.3 555.6,849.5 557.0,840.0 C558.4,830.5 561.4,816.7 562.0,805.0 C562.6,793.3 560.4,780.5 560.4,770.0 C560.4,759.5 560.6,754.8 562.0,742.0 C563.4,729.2 567.2,711.7 569.0,693.0 C570.8,674.3 571.9,645.5 572.7,630.0 C573.5,614.5 573.5,612.8 573.7,600.0 C573.9,587.2 574.0,569.3 573.7,553.0 C573.4,536.7 573.3,515.8 572.0,502.0 C570.7,488.2 567.5,478.5 566.0,470.0 C564.5,461.5 563.5,458.5 563.0,451.0 C562.5,443.5 562.8,433.5 563.0,425.0 C563.2,416.5 563.5,407.3 564.0,400.0 C564.5,392.7 565.2,385.5 566.0,381.0 C566.8,376.5 568.5,374.3 569.0,373.0 C569.8,376.2 572.8,387.5 574.0,392.0 C575.2,396.5 574.7,393.7 576.0,400.0 C577.3,406.3 579.8,421.5 582.0,430.0 C584.2,438.5 585.5,441.2 589.0,451.0 C592.5,460.8 599.8,479.0 603.0,489.0 C606.2,499.0 606.0,504.8 608.0,511.0 C610.0,517.2 613.8,520.4 615.0,526.2 C616.2,532.0 614.8,538.7 615.0,545.7 C615.2,552.7 616.2,561.3 616.5,568.0 C616.8,574.7 616.7,582.2 617.0,586.0 C617.3,589.8 618.0,589.5 618.5,590.5 C619.0,591.5 619.3,591.7 620.0,591.7 C620.7,591.7 621.8,591.2 622.5,590.5 C623.2,589.8 623.5,591.2 624.0,587.5 C624.5,583.8 625.2,571.2 625.5,568.0 C626.0,571.2 627.2,581.9 628.3,587.5 C629.3,593.1 630.8,598.4 631.8,601.4 C632.8,604.4 633.3,604.7 634.0,605.5 C634.7,606.3 635.2,606.4 636.0,606.3 C636.8,606.2 637.8,605.8 638.5,605.0 C639.2,604.2 640.0,604.3 640.0,601.4 C640.0,598.5 639.1,592.7 638.7,587.5 C638.3,582.3 637.6,572.9 637.4,570.0 C638.3,572.5 641.1,579.5 643.0,584.7 C644.9,589.9 647.2,597.9 648.5,601.4 C649.8,604.9 649.8,605.1 650.5,606.0 C651.2,606.9 652.0,607.0 652.7,607.0 C653.5,607.0 654.5,606.7 655.0,606.0 C655.5,605.3 656.4,606.3 656.0,602.8 C655.6,599.2 654.1,590.5 652.7,584.7 C651.3,578.9 648.6,570.8 647.8,568.0 C649.3,570.1 654.4,576.1 656.8,580.5 C659.2,584.9 661.1,591.6 662.4,594.5 C663.7,597.4 663.8,597.3 664.5,598.0 C665.2,598.7 665.9,598.8 666.6,598.6 C667.4,598.4 668.4,597.9 669.0,597.0 C669.6,596.1 670.7,596.4 670.0,593.0 C669.3,589.6 667.2,582.6 665.0,576.4 C662.8,570.1 658.2,559.0 656.8,555.5 C658.2,556.9 663.0,561.8 665.0,563.8 C667.0,565.8 667.8,566.8 669.0,567.5 C670.2,568.2 671.0,568.1 672.0,568.0 C673.0,567.9 674.4,567.7 675.0,567.0 C675.6,566.3 676.5,566.6 675.6,563.8 C674.7,561.0 672.1,554.9 669.4,550.0 C666.7,545.1 663.1,538.8 659.6,534.6 C656.1,530.4 651.5,527.6 648.5,524.8 C645.5,522.0 643.6,521.9 641.5,517.9 C639.4,513.9 636.9,505.6 636.0,501.0 C635.1,496.4 636.3,498.3 636.0,490.0 C635.7,481.7 634.8,461.0 634.0,451.0 C633.2,441.0 632.0,438.5 631.0,430.0 C630.0,421.5 628.8,408.6 628.0,400.0 C627.2,391.4 627.8,387.5 626.0,378.5 C624.2,369.5 619.3,354.1 617.0,346.0 C614.7,337.9 613.8,335.6 612.0,329.8 C610.2,324.0 608.0,317.6 606.5,311.0 C605.0,304.4 605.5,296.2 603.0,290.0 C600.5,283.8 596.4,278.2 591.4,274.0 C586.4,269.8 581.4,267.9 572.8,264.8 C564.2,261.7 548.5,258.6 540.0,255.5 C531.5,252.4 526.6,249.9 521.8,246.0 C517.0,242.1 512.6,236.6 511.3,232.0 C510.0,227.4 512.2,223.6 513.7,218.7 C515.2,213.8 517.6,207.9 520.0,202.5 C522.4,197.1 526.4,192.2 528.3,186.2 C530.2,180.2 531.6,173.5 531.6,166.7 C531.6,159.9 531.3,152.4 528.3,145.6 C525.3,138.8 519.8,130.6 513.7,126.0 C507.7,121.4 499.3,119.4 492.0,118.0 C484.7,116.6 476.7,117.0 470.0,117.5 C463.3,118.0 457.2,119.0 452.0,121.0 C446.8,123.0 442.5,125.9 439.0,129.5 C435.5,133.1 432.9,137.7 431.0,142.5 C429.1,147.3 428.2,154.4 427.5,158.5 C426.8,162.6 428.2,163.9 427.0,167.0 C425.8,170.1 422.3,173.8 420.0,177.0 C417.7,180.2 414.2,184.5 413.0,186.0 Z" fill="#f9d1ba" transform="translate(-4.5,0)" filter="url(#bS2)"/><path d="M413.0,186.0 C413.5,187.2 414.5,191.3 416.0,193.5 C417.5,195.7 421.2,197.0 422.0,199.0 C422.8,201.0 420.9,202.2 421.0,205.5 C421.1,208.8 421.7,214.4 422.5,218.5 C423.3,222.6 423.6,227.6 426.0,230.0 C428.4,232.4 433.2,232.4 437.0,233.0 C440.8,233.6 445.2,232.3 448.5,233.5 C451.8,234.7 455.1,237.9 456.5,240.0 C457.9,242.1 458.1,244.0 457.0,246.0 C455.9,248.0 453.1,250.4 450.0,252.0 C446.9,253.6 445.1,254.0 438.5,255.5 C431.9,257.0 418.6,258.8 410.5,261.0 C402.4,263.2 396.0,264.9 390.0,269.0 C384.0,273.1 377.8,279.7 374.5,285.5 C371.2,291.3 370.9,297.8 370.0,304.0 C369.1,310.2 370.8,316.8 369.0,323.0 C367.2,329.2 362.0,334.8 359.5,341.0 C357.0,347.2 355.4,352.2 354.0,360.0 C352.6,367.8 351.8,381.0 351.0,388.0 C350.2,395.0 350.0,396.2 349.0,402.0 C348.0,407.8 346.2,415.7 345.0,423.0 C343.8,430.3 342.3,438.5 341.5,446.0 C340.7,453.5 341.1,459.8 340.3,468.0 C339.6,476.2 337.9,487.5 337.0,495.0 C336.1,502.5 335.4,508.5 335.0,513.0 C334.6,517.5 336.8,518.9 334.6,522.0 C332.4,525.1 325.5,527.8 322.0,531.8 C318.5,535.8 316.7,541.3 313.7,545.7 C310.7,550.1 306.3,555.0 304.0,558.0 C301.7,561.0 300.3,562.3 300.0,564.0 C299.7,565.7 301.0,567.5 302.0,568.0 C303.0,568.5 303.0,569.2 306.0,567.0 C309.0,564.8 317.7,556.8 320.0,554.8 C318.5,559.1 313.2,573.9 311.0,580.5 C308.8,587.1 307.1,591.5 306.7,594.5 C306.3,597.5 307.6,598.0 308.5,598.5 C309.4,599.0 309.8,600.8 312.0,597.5 C314.2,594.2 319.4,583.9 322.0,579.0 C324.6,574.1 326.7,569.8 327.6,568.0 C326.8,571.7 324.0,584.3 322.7,590.3 C321.4,596.3 320.1,601.1 320.0,604.0 C319.9,606.9 321.1,607.2 322.0,607.5 C322.9,607.8 323.8,608.9 325.5,606.0 C327.2,603.1 330.5,596.2 332.5,590.3 C334.5,584.4 336.6,574.0 337.4,570.8 C337.2,575.4 335.9,592.7 336.0,598.6 C336.1,604.5 337.2,605.1 338.0,606.3 C338.8,607.5 340.1,606.6 341.0,606.0 C341.9,605.4 342.6,605.9 343.6,602.8 C344.6,599.7 345.9,593.3 347.0,587.5 C348.1,581.7 349.4,571.2 349.9,568.0 C350.2,571.2 351.2,583.4 352.0,587.5 C352.8,591.6 353.9,592.0 354.8,592.4 C355.7,592.8 356.8,591.1 357.5,590.0 C358.2,588.9 358.5,589.7 359.0,586.0 C359.5,582.3 360.0,574.7 360.3,568.0 C360.6,561.3 360.8,551.7 361.0,545.7 C361.2,539.7 361.2,536.4 361.7,531.8 C362.2,527.2 362.8,521.9 363.8,517.9 C364.9,513.9 366.6,512.1 368.0,508.0 C369.4,503.9 369.0,500.2 372.0,493.0 C375.0,485.8 383.2,472.8 386.0,465.0 C388.8,457.2 387.4,453.0 388.6,446.0 C389.8,439.0 391.4,430.7 393.0,423.0 C394.6,415.3 396.3,407.2 398.0,400.0 C399.7,392.8 401.7,385.0 403.0,380.0 C404.3,375.0 405.5,371.7 406.0,370.0 C406.7,372.5 409.2,380.0 410.0,385.0 C410.8,390.0 410.3,392.5 411.0,400.0 C411.7,407.5 413.8,419.2 414.0,430.0 C414.2,440.8 413.5,454.5 412.0,465.0 C410.5,475.5 406.8,482.2 405.0,493.0 C403.2,503.8 402.2,518.5 401.5,530.0 C400.8,541.5 401.1,550.3 401.0,562.0 C400.9,573.7 400.5,588.7 401.0,600.0 C401.5,611.3 401.9,613.3 403.8,630.0 C405.7,646.7 410.0,681.3 412.2,700.0 C414.4,718.7 416.0,727.3 416.8,742.0 C417.6,756.7 415.6,771.7 416.8,788.0 C418.0,804.3 422.1,827.7 423.8,840.0 C425.6,852.3 426.7,858.3 427.3,862.0 C435.8,862.0 469.6,862.0 478.0,862.0 C478.3,852.5 480.5,820.3 479.9,805.0 C479.3,789.7 475.2,780.5 474.6,770.0 C474.0,759.5 475.8,751.9 476.4,742.0 C477.0,732.1 476.8,723.5 478.0,710.7 C479.2,697.9 482.0,680.1 483.4,665.0 C484.8,649.9 485.6,632.5 486.3,620.0 C487.0,607.5 487.3,598.0 487.6,590.0 C487.9,582.0 487.9,575.0 488.0,572.0 C488.1,575.0 488.4,582.0 488.8,590.0 C489.2,598.0 489.9,607.5 490.7,620.0 C491.5,632.5 492.5,649.9 493.9,665.0 C495.3,680.1 497.6,697.9 499.0,710.7 C500.4,723.5 501.7,732.1 502.6,742.0 C503.5,751.9 504.7,759.5 504.4,770.0 C504.1,780.5 501.5,789.7 500.9,805.0 C500.3,820.3 500.9,852.5 500.9,862.0 C509.6,862.0 544.6,862.0 553.4,862.0 C554.0,858.3 555.6,849.5 557.0,840.0 C558.4,830.5 561.4,816.7 562.0,805.0 C562.6,793.3 560.4,780.5 560.4,770.0 C560.4,759.5 560.6,754.8 562.0,742.0 C563.4,729.2 567.2,711.7 569.0,693.0 C570.8,674.3 571.9,645.5 572.7,630.0 C573.5,614.5 573.5,612.8 573.7,600.0 C573.9,587.2 574.0,569.3 573.7,553.0 C573.4,536.7 573.3,515.8 572.0,502.0 C570.7,488.2 567.5,478.5 566.0,470.0 C564.5,461.5 563.5,458.5 563.0,451.0 C562.5,443.5 562.8,433.5 563.0,425.0 C563.2,416.5 563.5,407.3 564.0,400.0 C564.5,392.7 565.2,385.5 566.0,381.0 C566.8,376.5 568.5,374.3 569.0,373.0 C569.8,376.2 572.8,387.5 574.0,392.0 C575.2,396.5 574.7,393.7 576.0,400.0 C577.3,406.3 579.8,421.5 582.0,430.0 C584.2,438.5 585.5,441.2 589.0,451.0 C592.5,460.8 599.8,479.0 603.0,489.0 C606.2,499.0 606.0,504.8 608.0,511.0 C610.0,517.2 613.8,520.4 615.0,526.2 C616.2,532.0 614.8,538.7 615.0,545.7 C615.2,552.7 616.2,561.3 616.5,568.0 C616.8,574.7 616.7,582.2 617.0,586.0 C617.3,589.8 618.0,589.5 618.5,590.5 C619.0,591.5 619.3,591.7 620.0,591.7 C620.7,591.7 621.8,591.2 622.5,590.5 C623.2,589.8 623.5,591.2 624.0,587.5 C624.5,583.8 625.2,571.2 625.5,568.0 C626.0,571.2 627.2,581.9 628.3,587.5 C629.3,593.1 630.8,598.4 631.8,601.4 C632.8,604.4 633.3,604.7 634.0,605.5 C634.7,606.3 635.2,606.4 636.0,606.3 C636.8,606.2 637.8,605.8 638.5,605.0 C639.2,604.2 640.0,604.3 640.0,601.4 C640.0,598.5 639.1,592.7 638.7,587.5 C638.3,582.3 637.6,572.9 637.4,570.0 C638.3,572.5 641.1,579.5 643.0,584.7 C644.9,589.9 647.2,597.9 648.5,601.4 C649.8,604.9 649.8,605.1 650.5,606.0 C651.2,606.9 652.0,607.0 652.7,607.0 C653.5,607.0 654.5,606.7 655.0,606.0 C655.5,605.3 656.4,606.3 656.0,602.8 C655.6,599.2 654.1,590.5 652.7,584.7 C651.3,578.9 648.6,570.8 647.8,568.0 C649.3,570.1 654.4,576.1 656.8,580.5 C659.2,584.9 661.1,591.6 662.4,594.5 C663.7,597.4 663.8,597.3 664.5,598.0 C665.2,598.7 665.9,598.8 666.6,598.6 C667.4,598.4 668.4,597.9 669.0,597.0 C669.6,596.1 670.7,596.4 670.0,593.0 C669.3,589.6 667.2,582.6 665.0,576.4 C662.8,570.1 658.2,559.0 656.8,555.5 C658.2,556.9 663.0,561.8 665.0,563.8 C667.0,565.8 667.8,566.8 669.0,567.5 C670.2,568.2 671.0,568.1 672.0,568.0 C673.0,567.9 674.4,567.7 675.0,567.0 C675.6,566.3 676.5,566.6 675.6,563.8 C674.7,561.0 672.1,554.9 669.4,550.0 C666.7,545.1 663.1,538.8 659.6,534.6 C656.1,530.4 651.5,527.6 648.5,524.8 C645.5,522.0 643.6,521.9 641.5,517.9 C639.4,513.9 636.9,505.6 636.0,501.0 C635.1,496.4 636.3,498.3 636.0,490.0 C635.7,481.7 634.8,461.0 634.0,451.0 C633.2,441.0 632.0,438.5 631.0,430.0 C630.0,421.5 628.8,408.6 628.0,400.0 C627.2,391.4 627.8,387.5 626.0,378.5 C624.2,369.5 619.3,354.1 617.0,346.0 C614.7,337.9 613.8,335.6 612.0,329.8 C610.2,324.0 608.0,317.6 606.5,311.0 C605.0,304.4 605.5,296.2 603.0,290.0 C600.5,283.8 596.4,278.2 591.4,274.0 C586.4,269.8 581.4,267.9 572.8,264.8 C564.2,261.7 548.5,258.6 540.0,255.5 C531.5,252.4 526.6,249.9 521.8,246.0 C517.0,242.1 512.6,236.6 511.3,232.0 C510.0,227.4 512.2,223.6 513.7,218.7 C515.2,213.8 517.6,207.9 520.0,202.5 C522.4,197.1 526.4,192.2 528.3,186.2 C530.2,180.2 531.6,173.5 531.6,166.7 C531.6,159.9 531.3,152.4 528.3,145.6 C525.3,138.8 519.8,130.6 513.7,126.0 C507.7,121.4 499.3,119.4 492.0,118.0 C484.7,116.6 476.7,117.0 470.0,117.5 C463.3,118.0 457.2,119.0 452.0,121.0 C446.8,123.0 442.5,125.9 439.0,129.5 C435.5,133.1 432.9,137.7 431.0,142.5 C429.1,147.3 428.2,154.4 427.5,158.5 C426.8,162.6 428.2,163.9 427.0,167.0 C425.8,170.1 422.3,173.8 420.0,177.0 C417.7,180.2 414.2,184.5 413.0,186.0 Z" fill="none" stroke="#e3a585" stroke-width="5" opacity="0.55" filter="url(#bS1)"/><g clip-path="url(#cTorso)"><path d="M413.0,186.0 C413.5,187.2 414.5,191.3 416.0,193.5 C417.5,195.7 421.2,197.0 422.0,199.0 C422.8,201.0 420.9,202.2 421.0,205.5 C421.1,208.8 421.7,214.4 422.5,218.5 C423.3,222.6 423.6,227.6 426.0,230.0 C428.4,232.4 433.2,232.4 437.0,233.0 C440.8,233.6 445.2,232.3 448.5,233.5 C451.8,234.7 455.1,237.9 456.5,240.0 C457.9,242.1 458.1,244.0 457.0,246.0 C455.9,248.0 453.1,250.4 450.0,252.0 C446.9,253.6 445.1,254.0 438.5,255.5 C431.9,257.0 418.6,258.8 410.5,261.0 C402.4,263.2 396.0,264.9 390.0,269.0 C384.0,273.1 377.8,279.7 374.5,285.5 C371.2,291.3 370.9,297.8 370.0,304.0 C369.1,310.2 370.8,316.8 369.0,323.0 C367.2,329.2 362.0,334.8 359.5,341.0 C357.0,347.2 355.4,352.2 354.0,360.0 C352.6,367.8 351.8,381.0 351.0,388.0 C350.2,395.0 350.0,396.2 349.0,402.0 C348.0,407.8 346.2,415.7 345.0,423.0 C343.8,430.3 342.3,438.5 341.5,446.0 C340.7,453.5 341.1,459.8 340.3,468.0 C339.6,476.2 337.9,487.5 337.0,495.0 C336.1,502.5 335.4,508.5 335.0,513.0 C334.6,517.5 336.8,518.9 334.6,522.0 C332.4,525.1 325.5,527.8 322.0,531.8 C318.5,535.8 316.7,541.3 313.7,545.7 C310.7,550.1 306.3,555.0 304.0,558.0 C301.7,561.0 300.3,562.3 300.0,564.0 C299.7,565.7 301.0,567.5 302.0,568.0 C303.0,568.5 303.0,569.2 306.0,567.0 C309.0,564.8 317.7,556.8 320.0,554.8 C318.5,559.1 313.2,573.9 311.0,580.5 C308.8,587.1 307.1,591.5 306.7,594.5 C306.3,597.5 307.6,598.0 308.5,598.5 C309.4,599.0 309.8,600.8 312.0,597.5 C314.2,594.2 319.4,583.9 322.0,579.0 C324.6,574.1 326.7,569.8 327.6,568.0 C326.8,571.7 324.0,584.3 322.7,590.3 C321.4,596.3 320.1,601.1 320.0,604.0 C319.9,606.9 321.1,607.2 322.0,607.5 C322.9,607.8 323.8,608.9 325.5,606.0 C327.2,603.1 330.5,596.2 332.5,590.3 C334.5,584.4 336.6,574.0 337.4,570.8 C337.2,575.4 335.9,592.7 336.0,598.6 C336.1,604.5 337.2,605.1 338.0,606.3 C338.8,607.5 340.1,606.6 341.0,606.0 C341.9,605.4 342.6,605.9 343.6,602.8 C344.6,599.7 345.9,593.3 347.0,587.5 C348.1,581.7 349.4,571.2 349.9,568.0 C350.2,571.2 351.2,583.4 352.0,587.5 C352.8,591.6 353.9,592.0 354.8,592.4 C355.7,592.8 356.8,591.1 357.5,590.0 C358.2,588.9 358.5,589.7 359.0,586.0 C359.5,582.3 360.0,574.7 360.3,568.0 C360.6,561.3 360.8,551.7 361.0,545.7 C361.2,539.7 361.2,536.4 361.7,531.8 C362.2,527.2 362.8,521.9 363.8,517.9 C364.9,513.9 366.6,512.1 368.0,508.0 C369.4,503.9 369.0,500.2 372.0,493.0 C375.0,485.8 383.2,472.8 386.0,465.0 C388.8,457.2 387.4,453.0 388.6,446.0 C389.8,439.0 391.4,430.7 393.0,423.0 C394.6,415.3 396.3,407.2 398.0,400.0 C399.7,392.8 401.7,385.0 403.0,380.0 C404.3,375.0 405.5,371.7 406.0,370.0 C406.7,372.5 409.2,380.0 410.0,385.0 C410.8,390.0 410.3,392.5 411.0,400.0 C411.7,407.5 413.8,419.2 414.0,430.0 C414.2,440.8 413.5,454.5 412.0,465.0 C410.5,475.5 406.8,482.2 405.0,493.0 C403.2,503.8 402.2,518.5 401.5,530.0 C400.8,541.5 401.1,550.3 401.0,562.0 C400.9,573.7 400.5,588.7 401.0,600.0 C401.5,611.3 401.9,613.3 403.8,630.0 C405.7,646.7 410.0,681.3 412.2,700.0 C414.4,718.7 416.0,727.3 416.8,742.0 C417.6,756.7 415.6,771.7 416.8,788.0 C418.0,804.3 422.1,827.7 423.8,840.0 C425.6,852.3 426.7,858.3 427.3,862.0 C435.8,862.0 469.6,862.0 478.0,862.0 C478.3,852.5 480.5,820.3 479.9,805.0 C479.3,789.7 475.2,780.5 474.6,770.0 C474.0,759.5 475.8,751.9 476.4,742.0 C477.0,732.1 476.8,723.5 478.0,710.7 C479.2,697.9 482.0,680.1 483.4,665.0 C484.8,649.9 485.6,632.5 486.3,620.0 C487.0,607.5 487.3,598.0 487.6,590.0 C487.9,582.0 487.9,575.0 488.0,572.0 C488.1,575.0 488.4,582.0 488.8,590.0 C489.2,598.0 489.9,607.5 490.7,620.0 C491.5,632.5 492.5,649.9 493.9,665.0 C495.3,680.1 497.6,697.9 499.0,710.7 C500.4,723.5 501.7,732.1 502.6,742.0 C503.5,751.9 504.7,759.5 504.4,770.0 C504.1,780.5 501.5,789.7 500.9,805.0 C500.3,820.3 500.9,852.5 500.9,862.0 C509.6,862.0 544.6,862.0 553.4,862.0 C554.0,858.3 555.6,849.5 557.0,840.0 C558.4,830.5 561.4,816.7 562.0,805.0 C562.6,793.3 560.4,780.5 560.4,770.0 C560.4,759.5 560.6,754.8 562.0,742.0 C563.4,729.2 567.2,711.7 569.0,693.0 C570.8,674.3 571.9,645.5 572.7,630.0 C573.5,614.5 573.5,612.8 573.7,600.0 C573.9,587.2 574.0,569.3 573.7,553.0 C573.4,536.7 573.3,515.8 572.0,502.0 C570.7,488.2 567.5,478.5 566.0,470.0 C564.5,461.5 563.5,458.5 563.0,451.0 C562.5,443.5 562.8,433.5 563.0,425.0 C563.2,416.5 563.5,407.3 564.0,400.0 C564.5,392.7 565.2,385.5 566.0,381.0 C566.8,376.5 568.5,374.3 569.0,373.0 C569.8,376.2 572.8,387.5 574.0,392.0 C575.2,396.5 574.7,393.7 576.0,400.0 C577.3,406.3 579.8,421.5 582.0,430.0 C584.2,438.5 585.5,441.2 589.0,451.0 C592.5,460.8 599.8,479.0 603.0,489.0 C606.2,499.0 606.0,504.8 608.0,511.0 C610.0,517.2 613.8,520.4 615.0,526.2 C616.2,532.0 614.8,538.7 615.0,545.7 C615.2,552.7 616.2,561.3 616.5,568.0 C616.8,574.7 616.7,582.2 617.0,586.0 C617.3,589.8 618.0,589.5 618.5,590.5 C619.0,591.5 619.3,591.7 620.0,591.7 C620.7,591.7 621.8,591.2 622.5,590.5 C623.2,589.8 623.5,591.2 624.0,587.5 C624.5,583.8 625.2,571.2 625.5,568.0 C626.0,571.2 627.2,581.9 628.3,587.5 C629.3,593.1 630.8,598.4 631.8,601.4 C632.8,604.4 633.3,604.7 634.0,605.5 C634.7,606.3 635.2,606.4 636.0,606.3 C636.8,606.2 637.8,605.8 638.5,605.0 C639.2,604.2 640.0,604.3 640.0,601.4 C640.0,598.5 639.1,592.7 638.7,587.5 C638.3,582.3 637.6,572.9 637.4,570.0 C638.3,572.5 641.1,579.5 643.0,584.7 C644.9,589.9 647.2,597.9 648.5,601.4 C649.8,604.9 649.8,605.1 650.5,606.0 C651.2,606.9 652.0,607.0 652.7,607.0 C653.5,607.0 654.5,606.7 655.0,606.0 C655.5,605.3 656.4,606.3 656.0,602.8 C655.6,599.2 654.1,590.5 652.7,584.7 C651.3,578.9 648.6,570.8 647.8,568.0 C649.3,570.1 654.4,576.1 656.8,580.5 C659.2,584.9 661.1,591.6 662.4,594.5 C663.7,597.4 663.8,597.3 664.5,598.0 C665.2,598.7 665.9,598.8 666.6,598.6 C667.4,598.4 668.4,597.9 669.0,597.0 C669.6,596.1 670.7,596.4 670.0,593.0 C669.3,589.6 667.2,582.6 665.0,576.4 C662.8,570.1 658.2,559.0 656.8,555.5 C658.2,556.9 663.0,561.8 665.0,563.8 C667.0,565.8 667.8,566.8 669.0,567.5 C670.2,568.2 671.0,568.1 672.0,568.0 C673.0,567.9 674.4,567.7 675.0,567.0 C675.6,566.3 676.5,566.6 675.6,563.8 C674.7,561.0 672.1,554.9 669.4,550.0 C666.7,545.1 663.1,538.8 659.6,534.6 C656.1,530.4 651.5,527.6 648.5,524.8 C645.5,522.0 643.6,521.9 641.5,517.9 C639.4,513.9 636.9,505.6 636.0,501.0 C635.1,496.4 636.3,498.3 636.0,490.0 C635.7,481.7 634.8,461.0 634.0,451.0 C633.2,441.0 632.0,438.5 631.0,430.0 C630.0,421.5 628.8,408.6 628.0,400.0 C627.2,391.4 627.8,387.5 626.0,378.5 C624.2,369.5 619.3,354.1 617.0,346.0 C614.7,337.9 613.8,335.6 612.0,329.8 C610.2,324.0 608.0,317.6 606.5,311.0 C605.0,304.4 605.5,296.2 603.0,290.0 C600.5,283.8 596.4,278.2 591.4,274.0 C586.4,269.8 581.4,267.9 572.8,264.8 C564.2,261.7 548.5,258.6 540.0,255.5 C531.5,252.4 526.6,249.9 521.8,246.0 C517.0,242.1 512.6,236.6 511.3,232.0 C510.0,227.4 512.2,223.6 513.7,218.7 C515.2,213.8 517.6,207.9 520.0,202.5 C522.4,197.1 526.4,192.2 528.3,186.2 C530.2,180.2 531.6,173.5 531.6,166.7 C531.6,159.9 531.3,152.4 528.3,145.6 C525.3,138.8 519.8,130.6 513.7,126.0 C507.7,121.4 499.3,119.4 492.0,118.0 C484.7,116.6 476.7,117.0 470.0,117.5 C463.3,118.0 457.2,119.0 452.0,121.0 C446.8,123.0 442.5,125.9 439.0,129.5 C435.5,133.1 432.9,137.7 431.0,142.5 C429.1,147.3 428.2,154.4 427.5,158.5 C426.8,162.6 428.2,163.9 427.0,167.0 C425.8,170.1 422.3,173.8 420.0,177.0 C417.7,180.2 414.2,184.5 413.0,186.0 Z" fill="none" stroke="#d99376" stroke-width="22" opacity="0.5" filter="url(#bS4)" transform="translate(-2.5,0)"/></g><ellipse cx="436" cy="746" rx="11" ry="15" fill="#fde9df" opacity="0.7" filter="url(#b4)"/><ellipse cx="531" cy="746" rx="11" ry="15" fill="#fde9df" opacity="0.7" filter="url(#b4)"/><path d="M476,770 C470,790 474,820 478,850" stroke="#e2a283" stroke-width="7" fill="none" opacity="0.5" filter="url(#b2)"/><path d="M560,700 C552,740 556,800 552,850" stroke="#d8926f" stroke-width="8" fill="none" opacity="0.45" filter="url(#b2)"/></g>
<path d="M433.0,141.0 C434.5,138.2 436.7,134.4 440.0,131.5 C443.3,128.6 448.0,125.3 453.0,123.5 C458.0,121.7 464.0,120.9 470.0,120.5 C476.0,120.1 483.2,120.1 489.0,121.0 C494.8,121.9 500.3,123.7 505.0,126.0 C509.7,128.3 514.0,131.7 517.0,135.0 C520.0,138.3 521.5,141.8 523.0,146.0 C524.5,150.2 525.8,155.0 526.0,160.0 C526.2,165.0 525.3,171.0 524.0,176.0 C522.7,181.0 520.7,186.3 518.0,190.0 C515.3,193.7 511.5,196.5 508.0,198.0 C504.5,199.5 500.2,199.3 497.0,199.0 C493.8,198.7 491.2,195.2 489.0,196.0 C486.8,196.8 484.5,200.0 484.0,204.0 C483.5,208.0 485.2,214.7 486.0,220.0 C486.8,225.3 488.3,231.7 489.0,236.0 C489.7,240.3 491.8,244.3 490.0,246.0 C488.2,247.7 480.7,247.3 478.0,246.0 C475.3,244.7 476.0,239.5 474.0,238.0 C472.0,236.5 469.0,237.0 466.0,237.0 C463.0,237.0 459.0,238.8 456.0,238.0 C453.0,237.2 451.2,233.5 448.0,232.5 C444.8,231.5 440.3,232.6 437.0,232.0 C433.7,231.4 430.1,231.2 428.0,229.0 C425.9,226.8 425.2,222.8 424.5,219.0 C423.8,215.2 423.5,209.2 423.5,206.0 C423.5,202.8 425.2,201.5 424.5,199.5 C423.8,197.5 420.3,195.9 419.0,194.0 C417.7,192.1 416.0,190.7 416.5,188.0 C417.0,185.3 419.9,181.3 422.0,178.0 C424.1,174.7 427.7,171.3 429.0,168.0 C430.3,164.7 429.7,161.3 430.0,158.0 C430.3,154.7 430.5,150.8 431.0,148.0 C431.5,145.2 431.5,143.8 433.0,141.0 Z" fill="url(#gCut)"/><path d="M437.0,143.0 C438.2,139.9 440.0,136.3 443.0,133.5 C446.0,130.7 450.5,127.7 455.0,126.0 C459.5,124.3 464.5,123.8 470.0,123.5 C475.5,123.2 482.5,123.1 488.0,124.0 C493.5,124.9 498.7,126.7 503.0,129.0 C507.3,131.3 511.2,134.5 514.0,138.0 C516.8,141.5 518.8,145.5 520.0,150.0 C521.2,154.5 521.5,160.0 521.0,165.0 C520.5,170.0 519.2,175.8 517.0,180.0 C514.8,184.2 511.3,187.8 508.0,190.0 C504.7,192.2 500.3,193.0 497.0,193.0 C493.7,193.0 490.5,192.2 488.0,190.0 C485.5,187.8 483.7,183.0 482.0,180.0 C480.3,177.0 480.8,173.7 478.0,172.0 C475.2,170.3 469.8,170.7 465.0,170.0 C460.2,169.3 453.1,169.3 449.0,168.0 C444.9,166.7 442.7,164.7 440.5,162.0 C438.3,159.3 436.6,155.2 436.0,152.0 C435.4,148.8 435.8,146.1 437.0,143.0 Z" fill="url(#gBrainH)"/><clipPath id="cBrH"><path d="M437.0,143.0 C438.2,139.9 440.0,136.3 443.0,133.5 C446.0,130.7 450.5,127.7 455.0,126.0 C459.5,124.3 464.5,123.8 470.0,123.5 C475.5,123.2 482.5,123.1 488.0,124.0 C493.5,124.9 498.7,126.7 503.0,129.0 C507.3,131.3 511.2,134.5 514.0,138.0 C516.8,141.5 518.8,145.5 520.0,150.0 C521.2,154.5 521.5,160.0 521.0,165.0 C520.5,170.0 519.2,175.8 517.0,180.0 C514.8,184.2 511.3,187.8 508.0,190.0 C504.7,192.2 500.3,193.0 497.0,193.0 C493.7,193.0 490.5,192.2 488.0,190.0 C485.5,187.8 483.7,183.0 482.0,180.0 C480.3,177.0 480.8,173.7 478.0,172.0 C475.2,170.3 469.8,170.7 465.0,170.0 C460.2,169.3 453.1,169.3 449.0,168.0 C444.9,166.7 442.7,164.7 440.5,162.0 C438.3,159.3 436.6,155.2 436.0,152.0 C435.4,148.8 435.8,146.1 437.0,143.0 Z"/></clipPath><g clip-path="url(#cBrH)"><g mask="url(#mFade)"><path d="M439.7,126.4 Q441.1,126.1 445.1,122.6 Q446.1,120.3 449.6,118.9 Q451.4,115.9 449.0,113.3" fill="none" stroke="#8a5526" stroke-width="1.5" stroke-linecap="round" stroke-linejoin="round" opacity="0.55"/><path d="M439.7,126.4 Q441.1,126.1 445.1,122.6 Q446.1,120.3 449.6,118.9 Q451.4,115.9 449.0,113.3" fill="none" stroke="#e0b684" stroke-width="1.2" stroke-linecap="round" stroke-linejoin="round" opacity="0.35" transform="translate(0.9,1.1)"/><path d="M440.6,133.4 Q437.9,135.9 434.1,133.1 Q434.2,130.8 431.5,127.9" fill="none" stroke="#8a5526" stroke-width="1.5" stroke-linecap="round" stroke-linejoin="round" opacity="0.55"/><path d="M440.6,133.4 Q437.9,135.9 434.1,133.1 Q434.2,130.8 431.5,127.9" fill="none" stroke="#e0b684" stroke-width="1.2" stroke-linecap="round" stroke-linejoin="round" opacity="0.35" transform="translate(0.9,1.1)"/><path d="M440.5,140.2 Q441.1,143.1 441.2,146.1 Q437.5,145.8 434.5,148.1 Q433.5,150.6 431.2,151.4" fill="none" stroke="#8a5526" stroke-width="1.5" stroke-linecap="round" stroke-linejoin="round" opacity="0.55"/><path d="M440.5,140.2 Q441.1,143.1 441.2,146.1 Q437.5,145.8 434.5,148.1 Q433.5,150.6 431.2,151.4" fill="none" stroke="#e0b684" stroke-width="1.2" stroke-linecap="round" stroke-linejoin="round" opacity="0.35" transform="translate(0.9,1.1)"/><path d="M441.6,149.4 Q441.0,148.4 439.3,146.1 Q440.1,144.8 441.6,142.6 Q441.0,140.2 443.6,137.3" fill="none" stroke="#8a5526" stroke-width="1.5" stroke-linecap="round" stroke-linejoin="round" opacity="0.55"/><path d="M441.6,149.4 Q441.0,148.4 439.3,146.1 Q440.1,144.8 441.6,142.6 Q441.0,140.2 443.6,137.3" fill="none" stroke="#e0b684" stroke-width="1.2" stroke-linecap="round" stroke-linejoin="round" opacity="0.35" transform="translate(0.9,1.1)"/><path d="M439.0,156.9 Q441.3,157.1 442.0,160.0 Q443.9,159.0 447.8,157.5 Q450.3,155.1 451.7,155.0" fill="none" stroke="#8a5526" stroke-width="1.5" stroke-linecap="round" stroke-linejoin="round" opacity="0.55"/><path d="M439.0,156.9 Q441.3,157.1 442.0,160.0 Q443.9,159.0 447.8,157.5 Q450.3,155.1 451.7,155.0" fill="none" stroke="#e0b684" stroke-width="1.2" stroke-linecap="round" stroke-linejoin="round" opacity="0.35" transform="translate(0.9,1.1)"/><path d="M440.9,163.7 Q439.0,167.3 443.0,169.9 Q441.9,169.1 439.4,171.9" fill="none" stroke="#8a5526" stroke-width="1.5" stroke-linecap="round" stroke-linejoin="round" opacity="0.55"/><path d="M440.9,163.7 Q439.0,167.3 443.0,169.9 Q441.9,169.1 439.4,171.9" fill="none" stroke="#e0b684" stroke-width="1.2" stroke-linecap="round" stroke-linejoin="round" opacity="0.35" transform="translate(0.9,1.1)"/><path d="M440.6,174.5 Q443.2,172.5 444.7,172.0 Q444.1,170.1 446.6,168.2" fill="none" stroke="#8a5526" stroke-width="1.5" stroke-linecap="round" stroke-linejoin="round" opacity="0.55"/><path d="M440.6,174.5 Q443.2,172.5 444.7,172.0 Q444.1,170.1 446.6,168.2" fill="none" stroke="#e0b684" stroke-width="1.2" stroke-linecap="round" stroke-linejoin="round" opacity="0.35" transform="translate(0.9,1.1)"/><path d="M438.5,182.6 Q437.5,184.5 440.0,188.1 Q442.7,189.7 443.4,193.0 Q446.0,196.4 445.1,198.9" fill="none" stroke="#8a5526" stroke-width="1.5" stroke-linecap="round" stroke-linejoin="round" opacity="0.55"/><path d="M438.5,182.6 Q437.5,184.5 440.0,188.1 Q442.7,189.7 443.4,193.0 Q446.0,196.4 445.1,198.9" fill="none" stroke="#e0b684" stroke-width="1.2" stroke-linecap="round" stroke-linejoin="round" opacity="0.35" transform="translate(0.9,1.1)"/><path d="M440.3,191.1 Q439.1,193.9 435.5,193.2 Q434.7,192.1 432.5,189.6 Q432.0,186.6 433.8,183.9" fill="none" stroke="#8a5526" stroke-width="1.5" stroke-linecap="round" stroke-linejoin="round" opacity="0.55"/><path d="M440.3,191.1 Q439.1,193.9 435.5,193.2 Q434.7,192.1 432.5,189.6 Q432.0,186.6 433.8,183.9" fill="none" stroke="#e0b684" stroke-width="1.2" stroke-linecap="round" stroke-linejoin="round" opacity="0.35" transform="translate(0.9,1.1)"/><path d="M450.3,123.4 Q453.9,123.2 454.9,128.3 Q457.3,127.2 460.2,129.3" fill="none" stroke="#8a5526" stroke-width="1.5" stroke-linecap="round" stroke-linejoin="round" opacity="0.55"/><path d="M450.3,123.4 Q453.9,123.2 454.9,128.3 Q457.3,127.2 460.2,129.3" fill="none" stroke="#e0b684" stroke-width="1.2" stroke-linecap="round" stroke-linejoin="round" opacity="0.35" transform="translate(0.9,1.1)"/><path d="M448.2,134.4 Q450.8,135.1 453.5,133.4 Q457.2,135.7 460.3,132.6 Q462.7,130.2 465.2,131.6" fill="none" stroke="#8a5526" stroke-width="1.5" stroke-linecap="round" stroke-linejoin="round" opacity="0.55"/><path d="M448.2,134.4 Q450.8,135.1 453.5,133.4 Q457.2,135.7 460.3,132.6 Q462.7,130.2 465.2,131.6" fill="none" stroke="#e0b684" stroke-width="1.2" stroke-linecap="round" stroke-linejoin="round" opacity="0.35" transform="translate(0.9,1.1)"/><path d="M449.6,139.4 Q452.1,139.4 456.6,138.9 Q458.5,141.8 462.2,142.5 Q463.7,146.2 463.3,149.2" fill="none" stroke="#8a5526" stroke-width="1.5" stroke-linecap="round" stroke-linejoin="round" opacity="0.55"/><path d="M449.6,139.4 Q452.1,139.4 456.6,138.9 Q458.5,141.8 462.2,142.5 Q463.7,146.2 463.3,149.2" fill="none" stroke="#e0b684" stroke-width="1.2" stroke-linecap="round" stroke-linejoin="round" opacity="0.35" transform="translate(0.9,1.1)"/><path d="M451.4,152.2 Q449.0,151.3 446.4,149.5 Q443.2,146.8 442.0,145.6" fill="none" stroke="#8a5526" stroke-width="1.5" stroke-linecap="round" stroke-linejoin="round" opacity="0.55"/><path d="M451.4,152.2 Q449.0,151.3 446.4,149.5 Q443.2,146.8 442.0,145.6" fill="none" stroke="#e0b684" stroke-width="1.2" stroke-linecap="round" stroke-linejoin="round" opacity="0.35" transform="translate(0.9,1.1)"/><path d="M452.0,160.3 Q454.8,158.5 457.3,157.4 Q460.2,155.4 462.5,155.4 Q464.2,153.6 462.7,151.3" fill="none" stroke="#8a5526" stroke-width="1.5" stroke-linecap="round" stroke-linejoin="round" opacity="0.55"/><path d="M452.0,160.3 Q454.8,158.5 457.3,157.4 Q460.2,155.4 462.5,155.4 Q464.2,153.6 462.7,151.3" fill="none" stroke="#e0b684" stroke-width="1.2" stroke-linecap="round" stroke-linejoin="round" opacity="0.35" transform="translate(0.9,1.1)"/><path d="M450.7,167.0 Q448.3,168.0 446.7,168.9 Q445.3,168.2 441.8,167.6" fill="none" stroke="#8a5526" stroke-width="1.5" stroke-linecap="round" stroke-linejoin="round" opacity="0.55"/><path d="M450.7,167.0 Q448.3,168.0 446.7,168.9 Q445.3,168.2 441.8,167.6" fill="none" stroke="#e0b684" stroke-width="1.2" stroke-linecap="round" stroke-linejoin="round" opacity="0.35" transform="translate(0.9,1.1)"/><path d="M447.4,173.4 Q446.4,176.7 442.7,177.5 Q444.4,180.6 442.3,184.3 Q445.7,185.8 444.5,190.6" fill="none" stroke="#8a5526" stroke-width="1.5" stroke-linecap="round" stroke-linejoin="round" opacity="0.55"/><path d="M447.4,173.4 Q446.4,176.7 442.7,177.5 Q444.4,180.6 442.3,184.3 Q445.7,185.8 444.5,190.6" fill="none" stroke="#e0b684" stroke-width="1.2" stroke-linecap="round" stroke-linejoin="round" opacity="0.35" transform="translate(0.9,1.1)"/><path d="M451.9,183.9 Q454.4,184.7 456.5,184.3 Q458.6,186.5 461.4,184.6 Q462.9,185.9 465.7,184.3" fill="none" stroke="#8a5526" stroke-width="1.5" stroke-linecap="round" stroke-linejoin="round" opacity="0.55"/><path d="M451.9,183.9 Q454.4,184.7 456.5,184.3 Q458.6,186.5 461.4,184.6 Q462.9,185.9 465.7,184.3" fill="none" stroke="#e0b684" stroke-width="1.2" stroke-linecap="round" stroke-linejoin="round" opacity="0.35" transform="translate(0.9,1.1)"/><path d="M446.2,191.3 Q444.9,189.3 442.5,186.9 Q439.4,185.3 436.2,187.0 Q432.4,186.5 431.5,181.9" fill="none" stroke="#8a5526" stroke-width="1.5" stroke-linecap="round" stroke-linejoin="round" opacity="0.55"/><path d="M446.2,191.3 Q444.9,189.3 442.5,186.9 Q439.4,185.3 436.2,187.0 Q432.4,186.5 431.5,181.9" fill="none" stroke="#e0b684" stroke-width="1.2" stroke-linecap="round" stroke-linejoin="round" opacity="0.35" transform="translate(0.9,1.1)"/><path d="M458.2,126.8 Q455.8,128.8 453.8,128.2 Q453.0,130.5 454.4,133.6" fill="none" stroke="#8a5526" stroke-width="1.5" stroke-linecap="round" stroke-linejoin="round" opacity="0.55"/><path d="M458.2,126.8 Q455.8,128.8 453.8,128.2 Q453.0,130.5 454.4,133.6" fill="none" stroke="#e0b684" stroke-width="1.2" stroke-linecap="round" stroke-linejoin="round" opacity="0.35" transform="translate(0.9,1.1)"/><path d="M456.6,133.1 Q457.0,132.4 452.9,127.9 Q452.6,124.9 456.3,122.8" fill="none" stroke="#8a5526" stroke-width="1.5" stroke-linecap="round" stroke-linejoin="round" opacity="0.55"/><path d="M456.6,133.1 Q457.0,132.4 452.9,127.9 Q452.6,124.9 456.3,122.8" fill="none" stroke="#e0b684" stroke-width="1.2" stroke-linecap="round" stroke-linejoin="round" opacity="0.35" transform="translate(0.9,1.1)"/><path d="M458.8,144.5 Q458.2,146.0 454.9,149.0 Q451.9,150.6 449.0,148.9 Q450.6,145.4 446.1,142.6" fill="none" stroke="#8a5526" stroke-width="1.5" stroke-linecap="round" stroke-linejoin="round" opacity="0.55"/><path d="M458.8,144.5 Q458.2,146.0 454.9,149.0 Q451.9,150.6 449.0,148.9 Q450.6,145.4 446.1,142.6" fill="none" stroke="#e0b684" stroke-width="1.2" stroke-linecap="round" stroke-linejoin="round" opacity="0.35" transform="translate(0.9,1.1)"/><path d="M459.7,148.9 Q460.8,147.1 462.1,145.4 Q463.5,146.3 467.4,144.1" fill="none" stroke="#8a5526" stroke-width="1.5" stroke-linecap="round" stroke-linejoin="round" opacity="0.55"/><path d="M459.7,148.9 Q460.8,147.1 462.1,145.4 Q463.5,146.3 467.4,144.1" fill="none" stroke="#e0b684" stroke-width="1.2" stroke-linecap="round" stroke-linejoin="round" opacity="0.35" transform="translate(0.9,1.1)"/><path d="M455.4,159.8 Q455.4,162.0 455.1,166.5 Q452.1,168.1 450.0,168.8 Q448.3,165.9 445.5,165.3" fill="none" stroke="#8a5526" stroke-width="1.5" stroke-linecap="round" stroke-linejoin="round" opacity="0.55"/><path d="M455.4,159.8 Q455.4,162.0 455.1,166.5 Q452.1,168.1 450.0,168.8 Q448.3,165.9 445.5,165.3" fill="none" stroke="#e0b684" stroke-width="1.2" stroke-linecap="round" stroke-linejoin="round" opacity="0.35" transform="translate(0.9,1.1)"/><path d="M457.6,166.4 Q459.9,162.9 461.2,160.9 Q464.1,157.4 462.7,154.5" fill="none" stroke="#8a5526" stroke-width="1.5" stroke-linecap="round" stroke-linejoin="round" opacity="0.55"/><path d="M457.6,166.4 Q459.9,162.9 461.2,160.9 Q464.1,157.4 462.7,154.5" fill="none" stroke="#e0b684" stroke-width="1.2" stroke-linecap="round" stroke-linejoin="round" opacity="0.35" transform="translate(0.9,1.1)"/><path d="M460.1,176.8 Q457.7,178.3 455.8,180.4 Q457.3,183.5 458.7,186.6 Q457.5,188.9 456.4,191.8" fill="none" stroke="#8a5526" stroke-width="1.5" stroke-linecap="round" stroke-linejoin="round" opacity="0.55"/><path d="M460.1,176.8 Q457.7,178.3 455.8,180.4 Q457.3,183.5 458.7,186.6 Q457.5,188.9 456.4,191.8" fill="none" stroke="#e0b684" stroke-width="1.2" stroke-linecap="round" stroke-linejoin="round" opacity="0.35" transform="translate(0.9,1.1)"/><path d="M455.4,182.2 Q456.2,185.1 453.4,187.3 Q449.9,189.4 447.0,189.3 Q444.0,192.4 444.7,194.7" fill="none" stroke="#8a5526" stroke-width="1.5" stroke-linecap="round" stroke-linejoin="round" opacity="0.55"/><path d="M455.4,182.2 Q456.2,185.1 453.4,187.3 Q449.9,189.4 447.0,189.3 Q444.0,192.4 444.7,194.7" fill="none" stroke="#e0b684" stroke-width="1.2" stroke-linecap="round" stroke-linejoin="round" opacity="0.35" transform="translate(0.9,1.1)"/><path d="M459.7,187.1 Q462.3,185.6 464.5,186.4 Q467.5,187.8 469.9,185.6" fill="none" stroke="#8a5526" stroke-width="1.5" stroke-linecap="round" stroke-linejoin="round" opacity="0.55"/><path d="M459.7,187.1 Q462.3,185.6 464.5,186.4 Q467.5,187.8 469.9,185.6" fill="none" stroke="#e0b684" stroke-width="1.2" stroke-linecap="round" stroke-linejoin="round" opacity="0.35" transform="translate(0.9,1.1)"/><path d="M467.7,127.3 Q464.9,126.9 461.9,127.7 Q458.2,129.4 455.3,127.5 Q452.7,130.5 451.2,131.3" fill="none" stroke="#8a5526" stroke-width="1.5" stroke-linecap="round" stroke-linejoin="round" opacity="0.55"/><path d="M467.7,127.3 Q464.9,126.9 461.9,127.7 Q458.2,129.4 455.3,127.5 Q452.7,130.5 451.2,131.3" fill="none" stroke="#e0b684" stroke-width="1.2" stroke-linecap="round" stroke-linejoin="round" opacity="0.35" transform="translate(0.9,1.1)"/><path d="M469.5,134.8 Q467.4,137.3 469.0,139.7 Q466.3,141.6 462.4,140.2" fill="none" stroke="#8a5526" stroke-width="1.5" stroke-linecap="round" stroke-linejoin="round" opacity="0.55"/><path d="M469.5,134.8 Q467.4,137.3 469.0,139.7 Q466.3,141.6 462.4,140.2" fill="none" stroke="#e0b684" stroke-width="1.2" stroke-linecap="round" stroke-linejoin="round" opacity="0.35" transform="translate(0.9,1.1)"/><path d="M468.4,140.6 Q471.7,143.3 472.9,144.6 Q472.6,146.9 472.9,148.9 Q470.3,150.1 469.0,152.1" fill="none" stroke="#8a5526" stroke-width="1.5" stroke-linecap="round" stroke-linejoin="round" opacity="0.55"/><path d="M468.4,140.6 Q471.7,143.3 472.9,144.6 Q472.6,146.9 472.9,148.9 Q470.3,150.1 469.0,152.1" fill="none" stroke="#e0b684" stroke-width="1.2" stroke-linecap="round" stroke-linejoin="round" opacity="0.35" transform="translate(0.9,1.1)"/><path d="M466.1,153.0 Q467.9,151.2 467.9,149.4 Q470.5,147.5 473.3,149.5" fill="none" stroke="#8a5526" stroke-width="1.5" stroke-linecap="round" stroke-linejoin="round" opacity="0.55"/><path d="M466.1,153.0 Q467.9,151.2 467.9,149.4 Q470.5,147.5 473.3,149.5" fill="none" stroke="#e0b684" stroke-width="1.2" stroke-linecap="round" stroke-linejoin="round" opacity="0.35" transform="translate(0.9,1.1)"/><path d="M465.0,155.9 Q463.4,158.2 463.2,159.9 Q465.3,161.6 466.5,163.9" fill="none" stroke="#8a5526" stroke-width="1.5" stroke-linecap="round" stroke-linejoin="round" opacity="0.55"/><path d="M465.0,155.9 Q463.4,158.2 463.2,159.9 Q465.3,161.6 466.5,163.9" fill="none" stroke="#e0b684" stroke-width="1.2" stroke-linecap="round" stroke-linejoin="round" opacity="0.35" transform="translate(0.9,1.1)"/><path d="M465.3,165.2 Q465.6,163.3 466.3,160.8 Q464.8,158.3 466.2,156.2" fill="none" stroke="#8a5526" stroke-width="1.5" stroke-linecap="round" stroke-linejoin="round" opacity="0.55"/><path d="M465.3,165.2 Q465.6,163.3 466.3,160.8 Q464.8,158.3 466.2,156.2" fill="none" stroke="#e0b684" stroke-width="1.2" stroke-linecap="round" stroke-linejoin="round" opacity="0.35" transform="translate(0.9,1.1)"/><path d="M464.1,176.4 Q465.7,173.9 466.4,172.4 Q467.8,172.7 471.0,170.9 Q469.7,167.1 473.0,164.4" fill="none" stroke="#8a5526" stroke-width="1.5" stroke-linecap="round" stroke-linejoin="round" opacity="0.55"/><path d="M464.1,176.4 Q465.7,173.9 466.4,172.4 Q467.8,172.7 471.0,170.9 Q469.7,167.1 473.0,164.4" fill="none" stroke="#e0b684" stroke-width="1.2" stroke-linecap="round" stroke-linejoin="round" opacity="0.35" transform="translate(0.9,1.1)"/><path d="M467.2,181.2 Q466.9,184.0 462.5,185.2 Q461.4,186.3 459.6,188.0" fill="none" stroke="#8a5526" stroke-width="1.5" stroke-linecap="round" stroke-linejoin="round" opacity="0.55"/><path d="M467.2,181.2 Q466.9,184.0 462.5,185.2 Q461.4,186.3 459.6,188.0" fill="none" stroke="#e0b684" stroke-width="1.2" stroke-linecap="round" stroke-linejoin="round" opacity="0.35" transform="translate(0.9,1.1)"/><path d="M467.7,188.4 Q470.3,186.2 471.9,184.1 Q474.4,181.5 475.0,177.8 Q476.3,177.2 481.5,175.3" fill="none" stroke="#8a5526" stroke-width="1.5" stroke-linecap="round" stroke-linejoin="round" opacity="0.55"/><path d="M467.7,188.4 Q470.3,186.2 471.9,184.1 Q474.4,181.5 475.0,177.8 Q476.3,177.2 481.5,175.3" fill="none" stroke="#e0b684" stroke-width="1.2" stroke-linecap="round" stroke-linejoin="round" opacity="0.35" transform="translate(0.9,1.1)"/><path d="M477.4,124.5 Q475.1,125.6 471.5,123.9 Q469.0,125.6 467.2,126.3" fill="none" stroke="#8a5526" stroke-width="1.5" stroke-linecap="round" stroke-linejoin="round" opacity="0.55"/><path d="M477.4,124.5 Q475.1,125.6 471.5,123.9 Q469.0,125.6 467.2,126.3" fill="none" stroke="#e0b684" stroke-width="1.2" stroke-linecap="round" stroke-linejoin="round" opacity="0.35" transform="translate(0.9,1.1)"/><path d="M476.1,136.1 Q475.9,138.2 476.5,140.3 Q479.9,140.9 483.1,141.8 Q485.7,138.8 487.3,138.2" fill="none" stroke="#8a5526" stroke-width="1.5" stroke-linecap="round" stroke-linejoin="round" opacity="0.55"/><path d="M476.1,136.1 Q475.9,138.2 476.5,140.3 Q479.9,140.9 483.1,141.8 Q485.7,138.8 487.3,138.2" fill="none" stroke="#e0b684" stroke-width="1.2" stroke-linecap="round" stroke-linejoin="round" opacity="0.35" transform="translate(0.9,1.1)"/><path d="M478.7,141.5 Q476.0,141.8 473.9,142.5 Q472.6,145.9 469.7,147.0 Q470.9,149.0 469.5,151.1" fill="none" stroke="#8a5526" stroke-width="1.5" stroke-linecap="round" stroke-linejoin="round" opacity="0.55"/><path d="M478.7,141.5 Q476.0,141.8 473.9,142.5 Q472.6,145.9 469.7,147.0 Q470.9,149.0 469.5,151.1" fill="none" stroke="#e0b684" stroke-width="1.2" stroke-linecap="round" stroke-linejoin="round" opacity="0.35" transform="translate(0.9,1.1)"/><path d="M475.3,152.4 Q475.0,149.9 476.7,146.4 Q473.8,143.0 473.4,141.1" fill="none" stroke="#8a5526" stroke-width="1.5" stroke-linecap="round" stroke-linejoin="round" opacity="0.55"/><path d="M475.3,152.4 Q475.0,149.9 476.7,146.4 Q473.8,143.0 473.4,141.1" fill="none" stroke="#e0b684" stroke-width="1.2" stroke-linecap="round" stroke-linejoin="round" opacity="0.35" transform="translate(0.9,1.1)"/><path d="M473.3,155.6 Q469.9,151.9 469.3,150.0 Q467.7,149.0 464.3,151.6 Q462.9,154.0 460.9,154.5" fill="none" stroke="#8a5526" stroke-width="1.5" stroke-linecap="round" stroke-linejoin="round" opacity="0.55"/><path d="M473.3,155.6 Q469.9,151.9 469.3,150.0 Q467.7,149.0 464.3,151.6 Q462.9,154.0 460.9,154.5" fill="none" stroke="#e0b684" stroke-width="1.2" stroke-linecap="round" stroke-linejoin="round" opacity="0.35" transform="translate(0.9,1.1)"/><path d="M475.5,166.6 Q473.8,167.1 470.0,163.6 Q467.6,163.8 465.7,164.0 Q462.6,166.6 461.2,167.3" fill="none" stroke="#8a5526" stroke-width="1.5" stroke-linecap="round" stroke-linejoin="round" opacity="0.55"/><path d="M475.5,166.6 Q473.8,167.1 470.0,163.6 Q467.6,163.8 465.7,164.0 Q462.6,166.6 461.2,167.3" fill="none" stroke="#e0b684" stroke-width="1.2" stroke-linecap="round" stroke-linejoin="round" opacity="0.35" transform="translate(0.9,1.1)"/><path d="M476.7,175.4 Q475.0,172.2 477.0,169.1 Q480.2,166.0 483.6,167.9" fill="none" stroke="#8a5526" stroke-width="1.5" stroke-linecap="round" stroke-linejoin="round" opacity="0.55"/><path d="M476.7,175.4 Q475.0,172.2 477.0,169.1 Q480.2,166.0 483.6,167.9" fill="none" stroke="#e0b684" stroke-width="1.2" stroke-linecap="round" stroke-linejoin="round" opacity="0.35" transform="translate(0.9,1.1)"/><path d="M473.4,180.6 Q475.5,182.9 473.4,186.3 Q471.4,189.3 470.8,191.3" fill="none" stroke="#8a5526" stroke-width="1.5" stroke-linecap="round" stroke-linejoin="round" opacity="0.55"/><path d="M473.4,180.6 Q475.5,182.9 473.4,186.3 Q471.4,189.3 470.8,191.3" fill="none" stroke="#e0b684" stroke-width="1.2" stroke-linecap="round" stroke-linejoin="round" opacity="0.35" transform="translate(0.9,1.1)"/><path d="M475.9,188.3 Q474.1,187.1 471.7,188.4 Q468.3,187.8 465.6,186.5" fill="none" stroke="#8a5526" stroke-width="1.5" stroke-linecap="round" stroke-linejoin="round" opacity="0.55"/><path d="M475.9,188.3 Q474.1,187.1 471.7,188.4 Q468.3,187.8 465.6,186.5" fill="none" stroke="#e0b684" stroke-width="1.2" stroke-linecap="round" stroke-linejoin="round" opacity="0.35" transform="translate(0.9,1.1)"/><path d="M483.5,127.9 Q481.2,131.0 482.5,134.1 Q481.0,137.1 479.3,138.8 Q477.2,139.6 475.9,142.8" fill="none" stroke="#8a5526" stroke-width="1.5" stroke-linecap="round" stroke-linejoin="round" opacity="0.55"/><path d="M483.5,127.9 Q481.2,131.0 482.5,134.1 Q481.0,137.1 479.3,138.8 Q477.2,139.6 475.9,142.8" fill="none" stroke="#e0b684" stroke-width="1.2" stroke-linecap="round" stroke-linejoin="round" opacity="0.35" transform="translate(0.9,1.1)"/><path d="M484.8,135.9 Q485.0,133.0 489.2,131.9 Q492.1,129.6 495.2,131.2 Q497.7,128.0 500.6,128.2" fill="none" stroke="#8a5526" stroke-width="1.5" stroke-linecap="round" stroke-linejoin="round" opacity="0.55"/><path d="M484.8,135.9 Q485.0,133.0 489.2,131.9 Q492.1,129.6 495.2,131.2 Q497.7,128.0 500.6,128.2" fill="none" stroke="#e0b684" stroke-width="1.2" stroke-linecap="round" stroke-linejoin="round" opacity="0.35" transform="translate(0.9,1.1)"/><path d="M486.3,142.4 Q488.0,139.4 491.2,138.4 Q494.8,134.7 495.1,132.8 Q495.0,130.0 496.2,127.8" fill="none" stroke="#8a5526" stroke-width="1.5" stroke-linecap="round" stroke-linejoin="round" opacity="0.55"/><path d="M486.3,142.4 Q488.0,139.4 491.2,138.4 Q494.8,134.7 495.1,132.8 Q495.0,130.0 496.2,127.8" fill="none" stroke="#e0b684" stroke-width="1.2" stroke-linecap="round" stroke-linejoin="round" opacity="0.35" transform="translate(0.9,1.1)"/><path d="M484.3,148.2 Q481.4,148.4 478.7,145.0 Q476.2,143.6 476.5,138.7 Q476.0,136.0 474.9,133.3" fill="none" stroke="#8a5526" stroke-width="1.5" stroke-linecap="round" stroke-linejoin="round" opacity="0.55"/><path d="M484.3,148.2 Q481.4,148.4 478.7,145.0 Q476.2,143.6 476.5,138.7 Q476.0,136.0 474.9,133.3" fill="none" stroke="#e0b684" stroke-width="1.2" stroke-linecap="round" stroke-linejoin="round" opacity="0.35" transform="translate(0.9,1.1)"/><path d="M485.9,159.8 Q488.0,162.2 487.4,163.8 Q485.4,166.1 484.5,166.9 Q481.8,168.8 478.6,167.7" fill="none" stroke="#8a5526" stroke-width="1.5" stroke-linecap="round" stroke-linejoin="round" opacity="0.55"/><path d="M485.9,159.8 Q488.0,162.2 487.4,163.8 Q485.4,166.1 484.5,166.9 Q481.8,168.8 478.6,167.7" fill="none" stroke="#e0b684" stroke-width="1.2" stroke-linecap="round" stroke-linejoin="round" opacity="0.35" transform="translate(0.9,1.1)"/><path d="M486.6,166.1 Q484.5,164.2 484.5,160.0 Q481.3,156.6 482.3,154.0 Q479.9,155.2 476.0,154.4" fill="none" stroke="#8a5526" stroke-width="1.5" stroke-linecap="round" stroke-linejoin="round" opacity="0.55"/><path d="M486.6,166.1 Q484.5,164.2 484.5,160.0 Q481.3,156.6 482.3,154.0 Q479.9,155.2 476.0,154.4" fill="none" stroke="#e0b684" stroke-width="1.2" stroke-linecap="round" stroke-linejoin="round" opacity="0.35" transform="translate(0.9,1.1)"/><path d="M482.0,173.3 Q481.0,175.9 480.4,179.0 Q478.0,181.5 475.7,181.3 Q471.9,182.7 468.9,179.7" fill="none" stroke="#8a5526" stroke-width="1.5" stroke-linecap="round" stroke-linejoin="round" opacity="0.55"/><path d="M482.0,173.3 Q481.0,175.9 480.4,179.0 Q478.0,181.5 475.7,181.3 Q471.9,182.7 468.9,179.7" fill="none" stroke="#e0b684" stroke-width="1.2" stroke-linecap="round" stroke-linejoin="round" opacity="0.35" transform="translate(0.9,1.1)"/><path d="M483.2,181.5 Q483.8,184.6 482.1,187.6 Q478.5,190.9 475.5,189.1" fill="none" stroke="#8a5526" stroke-width="1.5" stroke-linecap="round" stroke-linejoin="round" opacity="0.55"/><path d="M483.2,181.5 Q483.8,184.6 482.1,187.6 Q478.5,190.9 475.5,189.1" fill="none" stroke="#e0b684" stroke-width="1.2" stroke-linecap="round" stroke-linejoin="round" opacity="0.35" transform="translate(0.9,1.1)"/><path d="M484.9,191.8 Q487.0,194.3 487.1,195.9 Q488.9,198.0 488.1,200.5" fill="none" stroke="#8a5526" stroke-width="1.5" stroke-linecap="round" stroke-linejoin="round" opacity="0.55"/><path d="M484.9,191.8 Q487.0,194.3 487.1,195.9 Q488.9,198.0 488.1,200.5" fill="none" stroke="#e0b684" stroke-width="1.2" stroke-linecap="round" stroke-linejoin="round" opacity="0.35" transform="translate(0.9,1.1)"/><path d="M492.0,127.5 Q489.2,125.8 486.7,128.6 Q483.6,125.9 480.6,127.0 Q478.6,125.7 475.9,127.1" fill="none" stroke="#8a5526" stroke-width="1.5" stroke-linecap="round" stroke-linejoin="round" opacity="0.55"/><path d="M492.0,127.5 Q489.2,125.8 486.7,128.6 Q483.6,125.9 480.6,127.0 Q478.6,125.7 475.9,127.1" fill="none" stroke="#e0b684" stroke-width="1.2" stroke-linecap="round" stroke-linejoin="round" opacity="0.35" transform="translate(0.9,1.1)"/><path d="M496.9,135.8 Q496.1,133.5 499.5,131.9 Q501.5,128.7 501.0,125.6" fill="none" stroke="#8a5526" stroke-width="1.5" stroke-linecap="round" stroke-linejoin="round" opacity="0.55"/><path d="M496.9,135.8 Q496.1,133.5 499.5,131.9 Q501.5,128.7 501.0,125.6" fill="none" stroke="#e0b684" stroke-width="1.2" stroke-linecap="round" stroke-linejoin="round" opacity="0.35" transform="translate(0.9,1.1)"/><path d="M491.9,139.9 Q489.1,138.4 485.5,139.8 Q482.8,138.4 480.3,137.9 Q477.8,140.2 476.4,140.2" fill="none" stroke="#8a5526" stroke-width="1.5" stroke-linecap="round" stroke-linejoin="round" opacity="0.55"/><path d="M491.9,139.9 Q489.1,138.4 485.5,139.8 Q482.8,138.4 480.3,137.9 Q477.8,140.2 476.4,140.2" fill="none" stroke="#e0b684" stroke-width="1.2" stroke-linecap="round" stroke-linejoin="round" opacity="0.35" transform="translate(0.9,1.1)"/><path d="M491.8,149.1 Q490.1,146.5 493.2,143.2 Q491.8,140.2 495.2,138.0" fill="none" stroke="#8a5526" stroke-width="1.5" stroke-linecap="round" stroke-linejoin="round" opacity="0.55"/><path d="M491.8,149.1 Q490.1,146.5 493.2,143.2 Q491.8,140.2 495.2,138.0" fill="none" stroke="#e0b684" stroke-width="1.2" stroke-linecap="round" stroke-linejoin="round" opacity="0.35" transform="translate(0.9,1.1)"/><path d="M492.2,159.1 Q490.5,158.1 488.9,154.5 Q488.8,152.1 490.4,149.8 Q490.9,147.2 489.1,144.6" fill="none" stroke="#8a5526" stroke-width="1.5" stroke-linecap="round" stroke-linejoin="round" opacity="0.55"/><path d="M492.2,159.1 Q490.5,158.1 488.9,154.5 Q488.8,152.1 490.4,149.8 Q490.9,147.2 489.1,144.6" fill="none" stroke="#e0b684" stroke-width="1.2" stroke-linecap="round" stroke-linejoin="round" opacity="0.35" transform="translate(0.9,1.1)"/><path d="M495.1,163.6 Q492.4,163.9 488.8,163.5 Q486.9,161.4 485.7,158.2 Q482.8,156.3 479.4,158.4" fill="none" stroke="#8a5526" stroke-width="1.5" stroke-linecap="round" stroke-linejoin="round" opacity="0.55"/><path d="M495.1,163.6 Q492.4,163.9 488.8,163.5 Q486.9,161.4 485.7,158.2 Q482.8,156.3 479.4,158.4" fill="none" stroke="#e0b684" stroke-width="1.2" stroke-linecap="round" stroke-linejoin="round" opacity="0.35" transform="translate(0.9,1.1)"/><path d="M495.3,176.4 Q491.9,178.1 491.7,181.5 Q491.3,183.5 488.8,184.6 Q490.6,187.1 490.4,189.3" fill="none" stroke="#8a5526" stroke-width="1.5" stroke-linecap="round" stroke-linejoin="round" opacity="0.55"/><path d="M495.3,176.4 Q491.9,178.1 491.7,181.5 Q491.3,183.5 488.8,184.6 Q490.6,187.1 490.4,189.3" fill="none" stroke="#e0b684" stroke-width="1.2" stroke-linecap="round" stroke-linejoin="round" opacity="0.35" transform="translate(0.9,1.1)"/><path d="M494.8,181.7 Q494.5,184.0 495.6,185.9 Q496.9,187.7 500.1,188.4" fill="none" stroke="#8a5526" stroke-width="1.5" stroke-linecap="round" stroke-linejoin="round" opacity="0.55"/><path d="M494.8,181.7 Q494.5,184.0 495.6,185.9 Q496.9,187.7 500.1,188.4" fill="none" stroke="#e0b684" stroke-width="1.2" stroke-linecap="round" stroke-linejoin="round" opacity="0.35" transform="translate(0.9,1.1)"/><path d="M491.5,188.4 Q494.6,191.8 495.9,192.9 Q496.2,195.3 494.1,196.9" fill="none" stroke="#8a5526" stroke-width="1.5" stroke-linecap="round" stroke-linejoin="round" opacity="0.55"/><path d="M491.5,188.4 Q494.6,191.8 495.9,192.9 Q496.2,195.3 494.1,196.9" fill="none" stroke="#e0b684" stroke-width="1.2" stroke-linecap="round" stroke-linejoin="round" opacity="0.35" transform="translate(0.9,1.1)"/><path d="M504.1,125.9 Q507.3,127.9 509.9,126.7 Q513.3,123.5 515.8,122.9" fill="none" stroke="#8a5526" stroke-width="1.5" stroke-linecap="round" stroke-linejoin="round" opacity="0.55"/><path d="M504.1,125.9 Q507.3,127.9 509.9,126.7 Q513.3,123.5 515.8,122.9" fill="none" stroke="#e0b684" stroke-width="1.2" stroke-linecap="round" stroke-linejoin="round" opacity="0.35" transform="translate(0.9,1.1)"/><path d="M501.1,132.8 Q501.1,135.4 499.3,137.5 Q497.0,139.6 495.4,140.2 Q494.6,143.2 494.0,145.9" fill="none" stroke="#8a5526" stroke-width="1.5" stroke-linecap="round" stroke-linejoin="round" opacity="0.55"/><path d="M501.1,132.8 Q501.1,135.4 499.3,137.5 Q497.0,139.6 495.4,140.2 Q494.6,143.2 494.0,145.9" fill="none" stroke="#e0b684" stroke-width="1.2" stroke-linecap="round" stroke-linejoin="round" opacity="0.35" transform="translate(0.9,1.1)"/><path d="M501.2,144.6 Q503.2,146.0 505.2,145.3 Q506.8,142.6 508.8,141.3" fill="none" stroke="#8a5526" stroke-width="1.5" stroke-linecap="round" stroke-linejoin="round" opacity="0.55"/><path d="M501.2,144.6 Q503.2,146.0 505.2,145.3 Q506.8,142.6 508.8,141.3" fill="none" stroke="#e0b684" stroke-width="1.2" stroke-linecap="round" stroke-linejoin="round" opacity="0.35" transform="translate(0.9,1.1)"/><path d="M500.6,152.2 Q502.2,155.6 500.7,158.4 Q499.0,160.4 500.3,162.6" fill="none" stroke="#8a5526" stroke-width="1.5" stroke-linecap="round" stroke-linejoin="round" opacity="0.55"/><path d="M500.6,152.2 Q502.2,155.6 500.7,158.4 Q499.0,160.4 500.3,162.6" fill="none" stroke="#e0b684" stroke-width="1.2" stroke-linecap="round" stroke-linejoin="round" opacity="0.35" transform="translate(0.9,1.1)"/><path d="M504.5,160.4 Q507.3,163.9 507.7,166.0 Q509.6,165.2 513.1,167.8" fill="none" stroke="#8a5526" stroke-width="1.5" stroke-linecap="round" stroke-linejoin="round" opacity="0.55"/><path d="M504.5,160.4 Q507.3,163.9 507.7,166.0 Q509.6,165.2 513.1,167.8" fill="none" stroke="#e0b684" stroke-width="1.2" stroke-linecap="round" stroke-linejoin="round" opacity="0.35" transform="translate(0.9,1.1)"/><path d="M503.3,163.5 Q502.1,164.7 507.0,169.1 Q504.2,172.5 506.1,175.6" fill="none" stroke="#8a5526" stroke-width="1.5" stroke-linecap="round" stroke-linejoin="round" opacity="0.55"/><path d="M503.3,163.5 Q502.1,164.7 507.0,169.1 Q504.2,172.5 506.1,175.6" fill="none" stroke="#e0b684" stroke-width="1.2" stroke-linecap="round" stroke-linejoin="round" opacity="0.35" transform="translate(0.9,1.1)"/><path d="M503.8,175.6 Q505.7,177.7 506.6,179.1 Q509.3,179.4 512.1,179.0 Q513.0,178.5 517.4,176.3" fill="none" stroke="#8a5526" stroke-width="1.5" stroke-linecap="round" stroke-linejoin="round" opacity="0.55"/><path d="M503.8,175.6 Q505.7,177.7 506.6,179.1 Q509.3,179.4 512.1,179.0 Q513.0,178.5 517.4,176.3" fill="none" stroke="#e0b684" stroke-width="1.2" stroke-linecap="round" stroke-linejoin="round" opacity="0.35" transform="translate(0.9,1.1)"/><path d="M500.9,184.8 Q498.7,183.6 494.3,183.5 Q492.2,183.8 489.5,183.8 Q489.8,182.5 486.6,178.4" fill="none" stroke="#8a5526" stroke-width="1.5" stroke-linecap="round" stroke-linejoin="round" opacity="0.55"/><path d="M500.9,184.8 Q498.7,183.6 494.3,183.5 Q492.2,183.8 489.5,183.8 Q489.8,182.5 486.6,178.4" fill="none" stroke="#e0b684" stroke-width="1.2" stroke-linecap="round" stroke-linejoin="round" opacity="0.35" transform="translate(0.9,1.1)"/><path d="M500.7,192.6 Q498.8,194.9 499.6,196.5 Q498.5,199.3 496.5,200.9 Q493.4,203.0 490.0,201.9" fill="none" stroke="#8a5526" stroke-width="1.5" stroke-linecap="round" stroke-linejoin="round" opacity="0.55"/><path d="M500.7,192.6 Q498.8,194.9 499.6,196.5 Q498.5,199.3 496.5,200.9 Q493.4,203.0 490.0,201.9" fill="none" stroke="#e0b684" stroke-width="1.2" stroke-linecap="round" stroke-linejoin="round" opacity="0.35" transform="translate(0.9,1.1)"/><path d="M514.1,124.5 Q516.4,122.8 516.9,121.2 Q520.5,122.9 523.1,118.3" fill="none" stroke="#8a5526" stroke-width="1.5" stroke-linecap="round" stroke-linejoin="round" opacity="0.55"/><path d="M514.1,124.5 Q516.4,122.8 516.9,121.2 Q520.5,122.9 523.1,118.3" fill="none" stroke="#e0b684" stroke-width="1.2" stroke-linecap="round" stroke-linejoin="round" opacity="0.35" transform="translate(0.9,1.1)"/><path d="M513.4,136.2 Q511.1,138.0 509.8,138.9 Q510.0,140.6 510.3,143.1 Q508.0,145.8 505.7,146.5" fill="none" stroke="#8a5526" stroke-width="1.5" stroke-linecap="round" stroke-linejoin="round" opacity="0.55"/><path d="M513.4,136.2 Q511.1,138.0 509.8,138.9 Q510.0,140.6 510.3,143.1 Q508.0,145.8 505.7,146.5" fill="none" stroke="#e0b684" stroke-width="1.2" stroke-linecap="round" stroke-linejoin="round" opacity="0.35" transform="translate(0.9,1.1)"/><path d="M513.4,139.1 Q511.9,142.5 509.6,144.4 Q509.6,144.4 506.5,147.1 Q503.8,148.3 504.8,152.3" fill="none" stroke="#8a5526" stroke-width="1.5" stroke-linecap="round" stroke-linejoin="round" opacity="0.55"/><path d="M513.4,139.1 Q511.9,142.5 509.6,144.4 Q509.6,144.4 506.5,147.1 Q503.8,148.3 504.8,152.3" fill="none" stroke="#e0b684" stroke-width="1.2" stroke-linecap="round" stroke-linejoin="round" opacity="0.35" transform="translate(0.9,1.1)"/><path d="M511.8,148.2 Q514.5,151.2 515.3,153.7 Q517.4,152.1 522.0,154.3" fill="none" stroke="#8a5526" stroke-width="1.5" stroke-linecap="round" stroke-linejoin="round" opacity="0.55"/><path d="M511.8,148.2 Q514.5,151.2 515.3,153.7 Q517.4,152.1 522.0,154.3" fill="none" stroke="#e0b684" stroke-width="1.2" stroke-linecap="round" stroke-linejoin="round" opacity="0.35" transform="translate(0.9,1.1)"/><path d="M512.8,156.1 Q515.4,157.4 517.4,154.5 Q520.2,151.8 520.4,150.2" fill="none" stroke="#8a5526" stroke-width="1.5" stroke-linecap="round" stroke-linejoin="round" opacity="0.55"/><path d="M512.8,156.1 Q515.4,157.4 517.4,154.5 Q520.2,151.8 520.4,150.2" fill="none" stroke="#e0b684" stroke-width="1.2" stroke-linecap="round" stroke-linejoin="round" opacity="0.35" transform="translate(0.9,1.1)"/><path d="M514.7,167.7 Q513.1,170.3 513.5,172.4 Q514.3,175.0 516.2,176.2" fill="none" stroke="#8a5526" stroke-width="1.5" stroke-linecap="round" stroke-linejoin="round" opacity="0.55"/><path d="M514.7,167.7 Q513.1,170.3 513.5,172.4 Q514.3,175.0 516.2,176.2" fill="none" stroke="#e0b684" stroke-width="1.2" stroke-linecap="round" stroke-linejoin="round" opacity="0.35" transform="translate(0.9,1.1)"/><path d="M511.2,175.0 Q514.9,175.4 516.7,178.8 Q519.6,175.7 522.2,176.4" fill="none" stroke="#8a5526" stroke-width="1.5" stroke-linecap="round" stroke-linejoin="round" opacity="0.55"/><path d="M511.2,175.0 Q514.9,175.4 516.7,178.8 Q519.6,175.7 522.2,176.4" fill="none" stroke="#e0b684" stroke-width="1.2" stroke-linecap="round" stroke-linejoin="round" opacity="0.35" transform="translate(0.9,1.1)"/><path d="M514.5,179.4 Q516.5,180.1 519.1,178.0 Q520.6,175.5 519.7,173.2" fill="none" stroke="#8a5526" stroke-width="1.5" stroke-linecap="round" stroke-linejoin="round" opacity="0.55"/><path d="M514.5,179.4 Q516.5,180.1 519.1,178.0 Q520.6,175.5 519.7,173.2" fill="none" stroke="#e0b684" stroke-width="1.2" stroke-linecap="round" stroke-linejoin="round" opacity="0.35" transform="translate(0.9,1.1)"/><path d="M510.7,190.3 Q508.9,190.6 507.3,192.6 Q505.1,196.3 503.2,198.1" fill="none" stroke="#8a5526" stroke-width="1.5" stroke-linecap="round" stroke-linejoin="round" opacity="0.55"/><path d="M510.7,190.3 Q508.9,190.6 507.3,192.6 Q505.1,196.3 503.2,198.1" fill="none" stroke="#e0b684" stroke-width="1.2" stroke-linecap="round" stroke-linejoin="round" opacity="0.35" transform="translate(0.9,1.1)"/></g></g><ellipse cx="493" cy="189" rx="13" ry="9" fill="#9a7e64" opacity="0.55" filter="url(#b2)"/><path d="M416.3,193.6 C417.0,191.8 418.0,186.5 420.4,183.0 C422.8,179.5 427.4,175.0 430.9,172.7 C434.4,170.4 437.8,169.6 441.3,169.4 C444.8,169.2 449.0,170.3 451.8,171.5 C454.6,172.7 456.6,174.6 458.0,176.7 C459.4,178.8 460.1,182.0 460.3,184.0 C460.5,186.0 459.7,187.4 459.0,188.5 C458.3,189.6 458.8,190.2 455.9,190.6 C452.9,190.9 446.3,190.4 441.3,190.6 C436.3,190.8 429.9,191.0 425.7,191.5 C421.5,192.0 417.9,193.2 416.3,193.6 Z" fill="url(#gNasal)" stroke="#e6d8b6" stroke-width="1.3" stroke-linecap="round" stroke-linejoin="round"/><path d="M424,185 C432,178 444,175.5 454,179.5" fill="none" stroke="#c86a6c" stroke-width="2.2" stroke-linecap="round" stroke-linejoin="round" opacity="0.7"/><path d="M430,186 C438,182.5 447,182.5 455,185" fill="none" stroke="#c05a60" stroke-width="1.4" stroke-linecap="round" stroke-linejoin="round" opacity="0.6"/><path d="M434.5,156 L435.5,164" fill="none" stroke="#c8484e" stroke-width="2.6" stroke-linecap="round" stroke-linejoin="round"/><path d="M461,171 L465.5,178" fill="none" stroke="#d06a6c" stroke-width="2.6" stroke-linecap="round" stroke-linejoin="round"/><rect x="468.5" y="170.5" width="4.5" height="6" rx="1.5" fill="#e9c9a8" stroke="#d9c49a" stroke-width="0.8"/><path d="M459.5,186.5 C461,181 467,179.5 472,182 C477,185 479.5,190 480,197 C480.3,205 481,212 482,218.5 C483.2,225 485.5,231 487,237 C488,241 488.8,244 489,246 L479,246 C478.8,242 478.3,237 477.5,232 C476.5,226 474.3,222 473.5,217 C472.8,212 473,207 472,203 C470.5,198 465,195 459,191.5 Z" fill="#a63640"/><path d="M465,186 C471,186 475,190 475.8,197 C476.3,206 476.5,213 478,220 C479.5,228 482.5,236 484,246" fill="none" stroke="#c8565c" stroke-width="2" stroke-linecap="round" stroke-linejoin="round" opacity="0.75"/><path d="M478.5,222 L485.5,220.5" fill="none" stroke="#e8c8c0" stroke-width="1.4" stroke-linecap="round" stroke-linejoin="round" opacity="0.8"/><path d="M423.5,196 C432,194 446,193.5 458,194.5 C464,195 468,198 470,202 C462,199 450,198.5 440,199.5 C434,200 428,201 423.5,201 Z" fill="#f0a8a6"/><path d="M425.0,204.0 C426.2,202.6 428.5,202.2 432.0,201.5 C435.5,200.8 441.3,199.7 446.0,199.5 C450.7,199.3 456.3,199.6 460.0,200.5 C463.7,201.4 466.3,202.6 468.0,205.0 C469.7,207.4 469.9,211.3 470.0,215.0 C470.1,218.7 470.2,223.7 468.5,227.0 C466.8,230.3 463.1,234.3 460.0,235.0 C456.9,235.7 453.7,232.5 450.0,231.0 C446.3,229.5 441.5,226.8 438.0,226.0 C434.5,225.2 431.1,227.7 429.0,226.5 C426.9,225.3 426.2,221.8 425.5,219.0 C424.8,216.2 424.6,212.5 424.5,210.0 C424.4,207.5 423.8,205.4 425.0,204.0 Z" fill="#df6c76"/><path d="M426.0,221.0 C426.2,219.1 428.7,218.8 431.0,219.0 C433.3,219.2 436.8,220.7 440.0,222.0 C443.2,223.3 447.0,225.3 450.0,227.0 C453.0,228.7 457.7,230.7 458.0,232.0 C458.3,233.3 455.0,235.0 452.0,235.0 C449.0,235.0 443.7,232.8 440.0,232.0 C436.3,231.2 432.3,232.3 430.0,230.5 C427.7,228.7 425.8,222.9 426.0,221.0 Z" fill="#e98f92"/><path d="M435,203 C441,197 456,196 464,199.5 C469.5,202.5 471.5,208 470,216" fill="none" stroke="#a0303a" stroke-width="3" stroke-linecap="round" stroke-linejoin="round"/><path d="M433.5,204 C436,203 439.5,205 440,209 C440.3,212 438,214.5 435.5,214" fill="none" stroke="#a0303a" stroke-width="2.4" stroke-linecap="round" stroke-linejoin="round"/><path d="M438,210 C446,205 456,206 462,212 C464,220 460,228 452,229" fill="none" stroke="#ee8e94" stroke-width="5" stroke-linecap="round" stroke-linejoin="round" opacity="0.55" filter="url(#b1)"/><path d="M428.8,198 L429.6,213" fill="none" stroke="#9a2a32" stroke-width="1.8" stroke-linecap="round" stroke-linejoin="round"/><path d="M431.5,214 L433,228" fill="none" stroke="#e4d4b0" stroke-width="2" stroke-linecap="round" stroke-linejoin="round" opacity="0.8"/><path d="M458,228 C461,224 464,222 466,221" fill="none" stroke="#e6d6b4" stroke-width="1.8" stroke-linecap="round" stroke-linejoin="round" opacity="0.9"/><path d="M435.5,160 C431,150 433,141 440,131.5 C447,124.5 458,121 470,120.5 C486,120 499,123 509,129 C517,135 522,143 524,152" fill="none" stroke="#d8c898" stroke-width="1.8" stroke-linecap="round" stroke-linejoin="round" mask="url(#mFade2)"/><path d="M430,164 C440,166 452,169 466,169.5 C474,170 477,174 479,181 C481,189 486,195 494,197.5" fill="none" stroke="#e2d4ae" stroke-width="1.8" stroke-linecap="round" stroke-linejoin="round" mask="url(#mFade2)"/>
<g id="guts"><path d="M445.0,444.0 C449.3,437.7 461.3,450.2 470.0,452.0 C478.7,453.8 487.7,456.0 497.0,455.0 C506.3,454.0 520.8,441.8 526.0,446.0 C531.2,450.2 528.0,469.7 528.0,480.0 C528.0,490.3 529.8,502.3 526.0,508.0 C522.2,513.7 511.3,514.3 505.0,514.0 C498.7,513.7 493.8,504.7 488.0,506.0 C482.2,507.3 476.0,520.0 470.0,522.0 C464.0,524.0 456.3,523.3 452.0,518.0 C447.7,512.7 445.2,502.3 444.0,490.0 C442.8,477.7 440.7,450.3 445.0,444.0 Z" fill="#eab2b4"/><path d="M449.0,455.0 C450.5,454.2 455.2,449.8 458.0,450.0 C460.8,450.2 465.3,453.3 466.0,456.0 C466.7,458.7 464.3,464.3 462.0,466.0 C459.7,467.7 453.7,466.0 452.0,466.0" fill="none" stroke="#cf8e98" stroke-width="7.4" stroke-linecap="round" stroke-linejoin="round"/><path d="M449.0,455.0 C450.5,454.2 455.2,449.8 458.0,450.0 C460.8,450.2 465.3,453.3 466.0,456.0 C466.7,458.7 464.3,464.3 462.0,466.0 C459.7,467.7 453.7,466.0 452.0,466.0" fill="none" stroke="#efbcbe" stroke-width="5.6" stroke-linecap="round" stroke-linejoin="round"/><path d="M449.0,455.0 C450.5,454.2 455.2,449.8 458.0,450.0 C460.8,450.2 465.3,453.3 466.0,456.0 C466.7,458.7 464.3,464.3 462.0,466.0 C459.7,467.7 453.7,466.0 452.0,466.0" fill="none" stroke="#f9dcdc" stroke-width="2" stroke-linecap="round" stroke-linejoin="round" opacity="0.85"/><path d="M472.0,457.0 C474.0,457.8 479.8,461.7 484.0,462.0 C488.2,462.3 492.7,459.7 497.0,459.0 C501.3,458.3 506.2,457.3 510.0,458.0 C513.8,458.7 518.2,460.8 520.0,463.0 C521.8,465.2 522.3,469.2 521.0,471.0 C519.7,472.8 515.8,474.2 512.0,474.0 C508.2,473.8 502.7,470.0 498.0,470.0 C493.3,470.0 488.0,474.0 484.0,474.0 C480.0,474.0 475.7,470.7 474.0,470.0" fill="none" stroke="#cf8e98" stroke-width="7.4" stroke-linecap="round" stroke-linejoin="round"/><path d="M472.0,457.0 C474.0,457.8 479.8,461.7 484.0,462.0 C488.2,462.3 492.7,459.7 497.0,459.0 C501.3,458.3 506.2,457.3 510.0,458.0 C513.8,458.7 518.2,460.8 520.0,463.0 C521.8,465.2 522.3,469.2 521.0,471.0 C519.7,472.8 515.8,474.2 512.0,474.0 C508.2,473.8 502.7,470.0 498.0,470.0 C493.3,470.0 488.0,474.0 484.0,474.0 C480.0,474.0 475.7,470.7 474.0,470.0" fill="none" stroke="#efbcbe" stroke-width="5.6" stroke-linecap="round" stroke-linejoin="round"/><path d="M472.0,457.0 C474.0,457.8 479.8,461.7 484.0,462.0 C488.2,462.3 492.7,459.7 497.0,459.0 C501.3,458.3 506.2,457.3 510.0,458.0 C513.8,458.7 518.2,460.8 520.0,463.0 C521.8,465.2 522.3,469.2 521.0,471.0 C519.7,472.8 515.8,474.2 512.0,474.0 C508.2,473.8 502.7,470.0 498.0,470.0 C493.3,470.0 488.0,474.0 484.0,474.0 C480.0,474.0 475.7,470.7 474.0,470.0" fill="none" stroke="#f9dcdc" stroke-width="2" stroke-linecap="round" stroke-linejoin="round" opacity="0.85"/><path d="M450.0,479.0 C451.7,478.2 456.3,474.0 460.0,474.0 C463.7,474.0 468.0,478.3 472.0,479.0 C476.0,479.7 480.0,477.5 484.0,478.0 C488.0,478.5 492.0,481.8 496.0,482.0 C500.0,482.2 504.0,478.7 508.0,479.0 C512.0,479.3 518.0,483.2 520.0,484.0" fill="none" stroke="#cf8e98" stroke-width="7.4" stroke-linecap="round" stroke-linejoin="round"/><path d="M450.0,479.0 C451.7,478.2 456.3,474.0 460.0,474.0 C463.7,474.0 468.0,478.3 472.0,479.0 C476.0,479.7 480.0,477.5 484.0,478.0 C488.0,478.5 492.0,481.8 496.0,482.0 C500.0,482.2 504.0,478.7 508.0,479.0 C512.0,479.3 518.0,483.2 520.0,484.0" fill="none" stroke="#efbcbe" stroke-width="5.6" stroke-linecap="round" stroke-linejoin="round"/><path d="M450.0,479.0 C451.7,478.2 456.3,474.0 460.0,474.0 C463.7,474.0 468.0,478.3 472.0,479.0 C476.0,479.7 480.0,477.5 484.0,478.0 C488.0,478.5 492.0,481.8 496.0,482.0 C500.0,482.2 504.0,478.7 508.0,479.0 C512.0,479.3 518.0,483.2 520.0,484.0" fill="none" stroke="#f9dcdc" stroke-width="2" stroke-linecap="round" stroke-linejoin="round" opacity="0.85"/><path d="M448.0,493.0 C450.0,492.2 456.0,487.8 460.0,488.0 C464.0,488.2 468.0,493.7 472.0,494.0 C476.0,494.3 480.0,489.7 484.0,490.0 C488.0,490.3 492.0,495.7 496.0,496.0 C500.0,496.3 503.8,491.8 508.0,492.0 C512.2,492.2 518.8,496.2 521.0,497.0" fill="none" stroke="#cf8e98" stroke-width="7.4" stroke-linecap="round" stroke-linejoin="round"/><path d="M448.0,493.0 C450.0,492.2 456.0,487.8 460.0,488.0 C464.0,488.2 468.0,493.7 472.0,494.0 C476.0,494.3 480.0,489.7 484.0,490.0 C488.0,490.3 492.0,495.7 496.0,496.0 C500.0,496.3 503.8,491.8 508.0,492.0 C512.2,492.2 518.8,496.2 521.0,497.0" fill="none" stroke="#efbcbe" stroke-width="5.6" stroke-linecap="round" stroke-linejoin="round"/><path d="M448.0,493.0 C450.0,492.2 456.0,487.8 460.0,488.0 C464.0,488.2 468.0,493.7 472.0,494.0 C476.0,494.3 480.0,489.7 484.0,490.0 C488.0,490.3 492.0,495.7 496.0,496.0 C500.0,496.3 503.8,491.8 508.0,492.0 C512.2,492.2 518.8,496.2 521.0,497.0" fill="none" stroke="#f9dcdc" stroke-width="2" stroke-linecap="round" stroke-linejoin="round" opacity="0.85"/><path d="M450.0,507.0 C452.0,506.2 458.2,502.0 462.0,502.0 C465.8,502.0 471.5,504.7 473.0,507.0 C474.5,509.3 473.3,514.5 471.0,516.0 C468.7,517.5 461.0,516.0 459.0,516.0" fill="none" stroke="#cf8e98" stroke-width="7.4" stroke-linecap="round" stroke-linejoin="round"/><path d="M450.0,507.0 C452.0,506.2 458.2,502.0 462.0,502.0 C465.8,502.0 471.5,504.7 473.0,507.0 C474.5,509.3 473.3,514.5 471.0,516.0 C468.7,517.5 461.0,516.0 459.0,516.0" fill="none" stroke="#efbcbe" stroke-width="5.6" stroke-linecap="round" stroke-linejoin="round"/><path d="M450.0,507.0 C452.0,506.2 458.2,502.0 462.0,502.0 C465.8,502.0 471.5,504.7 473.0,507.0 C474.5,509.3 473.3,514.5 471.0,516.0 C468.7,517.5 461.0,516.0 459.0,516.0" fill="none" stroke="#f9dcdc" stroke-width="2" stroke-linecap="round" stroke-linejoin="round" opacity="0.85"/><path d="M488.0,503.0 C489.7,503.7 494.3,506.8 498.0,507.0 C501.7,507.2 506.3,503.8 510.0,504.0 C513.7,504.2 518.3,507.3 520.0,508.0" fill="none" stroke="#cf8e98" stroke-width="7.4" stroke-linecap="round" stroke-linejoin="round"/><path d="M488.0,503.0 C489.7,503.7 494.3,506.8 498.0,507.0 C501.7,507.2 506.3,503.8 510.0,504.0 C513.7,504.2 518.3,507.3 520.0,508.0" fill="none" stroke="#efbcbe" stroke-width="5.6" stroke-linecap="round" stroke-linejoin="round"/><path d="M488.0,503.0 C489.7,503.7 494.3,506.8 498.0,507.0 C501.7,507.2 506.3,503.8 510.0,504.0 C513.7,504.2 518.3,507.3 520.0,508.0" fill="none" stroke="#f9dcdc" stroke-width="2" stroke-linecap="round" stroke-linejoin="round" opacity="0.85"/><path d="M434.0,428.0 C433.9,431.7 433.5,443.0 433.5,450.0 C433.5,457.0 434.0,463.3 434.0,470.0 C434.0,476.7 433.4,484.3 433.5,490.0 C433.6,495.7 434.3,501.7 434.5,504.0" fill="none" stroke="#bc6e78" stroke-width="24.5" stroke-linecap="round" stroke-linejoin="round"/><path d="M434.0,428.0 C433.9,431.7 433.5,443.0 433.5,450.0 C433.5,457.0 434.0,463.3 434.0,470.0 C434.0,476.7 433.4,484.3 433.5,490.0 C433.6,495.7 434.3,501.7 434.5,504.0" fill="none" stroke="#e8a2a6" stroke-width="23.1" stroke-linecap="round" stroke-linejoin="round"/><ellipse cx="433.9" cy="432.2" rx="4.73" ry="12.05" fill="url(#gHau)" stroke="#bc6e78" stroke-width="0.7" transform="rotate(91.7 433.9 432.2)"/><ellipse cx="433.6" cy="440.7" rx="4.73" ry="12.05" fill="url(#gHau)" stroke="#bc6e78" stroke-width="0.7" transform="rotate(91.4 433.6 440.7)"/><ellipse cx="433.5" cy="449.1" rx="4.73" ry="12.05" fill="url(#gHau)" stroke="#bc6e78" stroke-width="0.7" transform="rotate(90.2 433.5 449.1)"/><ellipse cx="433.7" cy="457.6" rx="4.73" ry="12.05" fill="url(#gHau)" stroke="#bc6e78" stroke-width="0.7" transform="rotate(88.0 433.7 457.6)"/><ellipse cx="433.9" cy="466.0" rx="4.73" ry="12.05" fill="url(#gHau)" stroke="#bc6e78" stroke-width="0.7" transform="rotate(88.5 433.9 466.0)"/><ellipse cx="433.9" cy="474.5" rx="4.73" ry="12.05" fill="url(#gHau)" stroke="#bc6e78" stroke-width="0.7" transform="rotate(91.6 433.9 474.5)"/><ellipse cx="433.6" cy="482.9" rx="4.73" ry="12.05" fill="url(#gHau)" stroke="#bc6e78" stroke-width="0.7" transform="rotate(92.1 433.6 482.9)"/><ellipse cx="433.5" cy="491.4" rx="4.73" ry="12.05" fill="url(#gHau)" stroke="#bc6e78" stroke-width="0.7" transform="rotate(88.1 433.5 491.4)"/><ellipse cx="434.1" cy="499.8" rx="4.73" ry="12.05" fill="url(#gHau)" stroke="#bc6e78" stroke-width="0.7" transform="rotate(84.6 434.1 499.8)"/><path d="M434.0,428.0 C433.9,431.7 433.5,443.0 433.5,450.0 C433.5,457.0 434.0,463.3 434.0,470.0 C434.0,476.7 433.4,484.3 433.5,490.0 C433.6,495.7 434.3,501.7 434.5,504.0" fill="none" stroke="#bc6e78" stroke-width="1.2" stroke-linecap="round" stroke-linejoin="round" opacity="0.75"/><path d="M427.0,505.0 C425.0,507.5 425.2,512.8 426.0,516.0 C426.8,519.2 429.2,522.8 432.0,524.5 C434.8,526.2 439.6,526.6 443.0,526.0 C446.4,525.4 450.3,523.5 452.5,521.0 C454.7,518.5 456.4,514.0 456.0,511.0 C455.6,508.0 453.0,504.7 450.0,503.0 C447.0,501.3 441.8,500.7 438.0,501.0 C434.2,501.3 429.0,502.5 427.0,505.0 Z" fill="url(#gHau)" stroke="#bc6e78" stroke-width="0.9" stroke-linecap="round" stroke-linejoin="round"/><path d="M440,503 C444,508 444,516 441,525" fill="none" stroke="#bc6e78" stroke-width="0.9" stroke-linecap="round" stroke-linejoin="round" opacity="0.7"/><path d="M451.5,518 C454.5,521 452.5,526 454.5,529 C455.5,531 456,532 456.5,533" fill="none" stroke="#bc6470" stroke-width="1.9" stroke-linecap="round" stroke-linejoin="round"/><path d="M539.3,410.0 C539.5,413.0 540.5,422.0 540.5,428.0 C540.5,434.0 539.4,439.7 539.3,446.0 C539.2,452.3 539.8,459.3 539.8,466.0 C539.8,472.7 539.3,479.5 539.3,486.0 C539.3,492.5 539.9,501.8 540.0,505.0" fill="none" stroke="#bd6c76" stroke-width="28.5" stroke-linecap="round" stroke-linejoin="round"/><path d="M539.3,410.0 C539.5,413.0 540.5,422.0 540.5,428.0 C540.5,434.0 539.4,439.7 539.3,446.0 C539.2,452.3 539.8,459.3 539.8,466.0 C539.8,472.7 539.3,479.5 539.3,486.0 C539.3,492.5 539.9,501.8 540.0,505.0" fill="none" stroke="#e09098" stroke-width="27.1" stroke-linecap="round" stroke-linejoin="round"/><ellipse cx="539.7" cy="414.3" rx="4.84" ry="14.05" fill="url(#gHau2)" stroke="#bd6c76" stroke-width="0.7" transform="rotate(84.9 539.7 414.3)"/><ellipse cx="540.3" cy="422.9" rx="4.84" ry="14.05" fill="url(#gHau2)" stroke="#bd6c76" stroke-width="0.7" transform="rotate(86.7 540.3 422.9)"/><ellipse cx="540.4" cy="431.6" rx="4.84" ry="14.05" fill="url(#gHau2)" stroke="#bd6c76" stroke-width="0.7" transform="rotate(93.6 540.4 431.6)"/><ellipse cx="539.6" cy="440.2" rx="4.84" ry="14.05" fill="url(#gHau2)" stroke="#bd6c76" stroke-width="0.7" transform="rotate(94.9 539.6 440.2)"/><ellipse cx="539.3" cy="448.8" rx="4.84" ry="14.05" fill="url(#gHau2)" stroke="#bd6c76" stroke-width="0.7" transform="rotate(89.5 539.3 448.8)"/><ellipse cx="539.6" cy="457.5" rx="4.84" ry="14.05" fill="url(#gHau2)" stroke="#bd6c76" stroke-width="0.7" transform="rotate(87.6 539.6 457.5)"/><ellipse cx="539.8" cy="466.1" rx="4.84" ry="14.05" fill="url(#gHau2)" stroke="#bd6c76" stroke-width="0.7" transform="rotate(90.1 539.8 466.1)"/><ellipse cx="539.6" cy="474.8" rx="4.84" ry="14.05" fill="url(#gHau2)" stroke="#bd6c76" stroke-width="0.7" transform="rotate(92.2 539.6 474.8)"/><ellipse cx="539.3" cy="483.4" rx="4.84" ry="14.05" fill="url(#gHau2)" stroke="#bd6c76" stroke-width="0.7" transform="rotate(90.9 539.3 483.4)"/><ellipse cx="539.4" cy="492.0" rx="4.84" ry="14.05" fill="url(#gHau2)" stroke="#bd6c76" stroke-width="0.7" transform="rotate(88.0 539.4 492.0)"/><ellipse cx="539.8" cy="500.7" rx="4.84" ry="14.05" fill="url(#gHau2)" stroke="#bd6c76" stroke-width="0.7" transform="rotate(87.3 539.8 500.7)"/><path d="M539.3,410.0 C539.5,413.0 540.5,422.0 540.5,428.0 C540.5,434.0 539.4,439.7 539.3,446.0 C539.2,452.3 539.8,459.3 539.8,466.0 C539.8,472.7 539.3,479.5 539.3,486.0 C539.3,492.5 539.9,501.8 540.0,505.0" fill="none" stroke="#bd6c76" stroke-width="1.2" stroke-linecap="round" stroke-linejoin="round" opacity="0.75"/><path d="M543.0,503.0 C542.7,504.7 543.0,510.4 541.0,513.0 C539.0,515.6 535.0,517.6 531.0,518.5 C527.0,519.4 521.2,519.2 517.0,518.5 C512.8,517.8 509.0,515.9 506.0,514.0 C503.0,512.1 500.2,508.2 499.0,507.0" fill="none" stroke="#bc6e78" stroke-width="17.5" stroke-linecap="round" stroke-linejoin="round"/><path d="M543.0,503.0 C542.7,504.7 543.0,510.4 541.0,513.0 C539.0,515.6 535.0,517.6 531.0,518.5 C527.0,519.4 521.2,519.2 517.0,518.5 C512.8,517.8 509.0,515.9 506.0,514.0 C503.0,512.1 500.2,508.2 499.0,507.0" fill="none" stroke="#e8a2a6" stroke-width="16.1" stroke-linecap="round" stroke-linejoin="round"/><ellipse cx="542.7" cy="507.1" rx="4.63" ry="8.55" fill="url(#gHau)" stroke="#bc6e78" stroke-width="0.7" transform="rotate(95.3 542.7 507.1)"/><ellipse cx="539.6" cy="514.5" rx="4.63" ry="8.55" fill="url(#gHau)" stroke="#bc6e78" stroke-width="0.7" transform="rotate(140.0 539.6 514.5)"/><ellipse cx="532.2" cy="518.2" rx="4.63" ry="8.55" fill="url(#gHau)" stroke="#bc6e78" stroke-width="0.7" transform="rotate(163.8 532.2 518.2)"/><ellipse cx="524.0" cy="519.1" rx="4.63" ry="8.55" fill="url(#gHau)" stroke="#bc6e78" stroke-width="0.7" transform="rotate(-179.3 524.0 519.1)"/><ellipse cx="515.8" cy="518.3" rx="4.63" ry="8.55" fill="url(#gHau)" stroke="#bc6e78" stroke-width="0.7" transform="rotate(-167.2 515.8 518.3)"/><ellipse cx="508.1" cy="515.3" rx="4.63" ry="8.55" fill="url(#gHau)" stroke="#bc6e78" stroke-width="0.7" transform="rotate(-151.1 508.1 515.3)"/><ellipse cx="501.7" cy="510.1" rx="4.63" ry="8.55" fill="url(#gHau)" stroke="#bc6e78" stroke-width="0.7" transform="rotate(-131.8 501.7 510.1)"/><path d="M487.5,553.0 C488.4,552.0 491.6,549.5 493.0,547.0 C494.4,544.5 495.8,541.3 496.0,538.0 C496.2,534.7 493.8,531.2 494.0,527.0 C494.2,522.8 496.1,517.3 497.0,513.0 C497.9,508.7 500.7,504.2 499.5,501.0 C498.3,497.8 493.8,494.5 490.0,494.0 C486.2,493.5 478.9,495.0 477.0,498.0 C475.1,501.0 477.8,507.3 478.5,512.0 C479.2,516.7 480.9,521.7 481.0,526.0 C481.1,530.3 478.8,534.5 479.0,538.0 C479.2,541.5 480.6,544.5 482.0,547.0 C483.4,549.5 486.6,552.0 487.5,553.0 Z" fill="url(#gRect)" stroke="#bc6e78" stroke-width="0.9" stroke-linecap="round" stroke-linejoin="round"/><path d="M481,528 C485,531 490,531 494,528" fill="none" stroke="#bc6e78" stroke-width="0.8" stroke-linecap="round" stroke-linejoin="round" opacity="0.7"/><path d="M429.5,427.0 C430.4,427.9 432.6,430.8 435.0,432.5 C437.4,434.2 440.2,435.8 444.0,437.5 C447.8,439.2 453.0,441.0 458.0,442.5 C463.0,444.0 468.3,445.5 474.0,446.5 C479.7,447.5 486.2,448.6 492.0,448.5 C497.8,448.4 503.8,447.4 509.0,446.0 C514.2,444.6 518.8,442.5 523.0,440.0 C527.2,437.5 530.9,434.5 534.0,431.0 C537.1,427.5 539.4,423.2 541.5,419.0 C543.6,414.8 545.7,407.8 546.5,405.5" fill="none" stroke="#bc6e78" stroke-width="17" stroke-linecap="round" stroke-linejoin="round"/><path d="M429.5,427.0 C430.4,427.9 432.6,430.8 435.0,432.5 C437.4,434.2 440.2,435.8 444.0,437.5 C447.8,439.2 453.0,441.0 458.0,442.5 C463.0,444.0 468.3,445.5 474.0,446.5 C479.7,447.5 486.2,448.6 492.0,448.5 C497.8,448.4 503.8,447.4 509.0,446.0 C514.2,444.6 518.8,442.5 523.0,440.0 C527.2,437.5 530.9,434.5 534.0,431.0 C537.1,427.5 539.4,423.2 541.5,419.0 C543.6,414.8 545.7,407.8 546.5,405.5" fill="none" stroke="#e8a2a6" stroke-width="15.6" stroke-linecap="round" stroke-linejoin="round"/><ellipse cx="432.2" cy="429.9" rx="4.45" ry="8.30" fill="url(#gHau)" stroke="#bc6e78" stroke-width="0.7" transform="rotate(46.3 432.2 429.9)"/><ellipse cx="438.5" cy="434.7" rx="4.45" ry="8.30" fill="url(#gHau)" stroke="#bc6e78" stroke-width="0.7" transform="rotate(30.1 438.5 434.7)"/><ellipse cx="445.6" cy="438.2" rx="4.45" ry="8.30" fill="url(#gHau)" stroke="#bc6e78" stroke-width="0.7" transform="rotate(22.2 445.6 438.2)"/><ellipse cx="453.1" cy="440.9" rx="4.45" ry="8.30" fill="url(#gHau)" stroke="#bc6e78" stroke-width="0.7" transform="rotate(18.7 453.1 440.9)"/><ellipse cx="460.7" cy="443.3" rx="4.45" ry="8.30" fill="url(#gHau)" stroke="#bc6e78" stroke-width="0.7" transform="rotate(16.2 460.7 443.3)"/><ellipse cx="468.3" cy="445.3" rx="4.45" ry="8.30" fill="url(#gHau)" stroke="#bc6e78" stroke-width="0.7" transform="rotate(13.2 468.3 445.3)"/><ellipse cx="476.1" cy="446.9" rx="4.45" ry="8.30" fill="url(#gHau)" stroke="#bc6e78" stroke-width="0.7" transform="rotate(9.8 476.1 446.9)"/><ellipse cx="484.0" cy="448.0" rx="4.45" ry="8.30" fill="url(#gHau)" stroke="#bc6e78" stroke-width="0.7" transform="rotate(6.5 484.0 448.0)"/><ellipse cx="491.9" cy="448.5" rx="4.45" ry="8.30" fill="url(#gHau)" stroke="#bc6e78" stroke-width="0.7" transform="rotate(-0.5 491.9 448.5)"/><ellipse cx="499.8" cy="447.9" rx="4.45" ry="8.30" fill="url(#gHau)" stroke="#bc6e78" stroke-width="0.7" transform="rotate(-7.8 499.8 447.9)"/><ellipse cx="507.6" cy="446.4" rx="4.45" ry="8.30" fill="url(#gHau)" stroke="#bc6e78" stroke-width="0.7" transform="rotate(-14.2 507.6 446.4)"/><ellipse cx="515.2" cy="443.9" rx="4.45" ry="8.30" fill="url(#gHau)" stroke="#bc6e78" stroke-width="0.7" transform="rotate(-22.0 515.2 443.9)"/><ellipse cx="522.3" cy="440.4" rx="4.45" ry="8.30" fill="url(#gHau)" stroke="#bc6e78" stroke-width="0.7" transform="rotate(-30.1 522.3 440.4)"/><ellipse cx="528.8" cy="435.9" rx="4.45" ry="8.30" fill="url(#gHau)" stroke="#bc6e78" stroke-width="0.7" transform="rotate(-38.9 528.8 435.9)"/><ellipse cx="534.5" cy="430.4" rx="4.45" ry="8.30" fill="url(#gHau)" stroke="#bc6e78" stroke-width="0.7" transform="rotate(-50.2 534.5 430.4)"/><ellipse cx="539.0" cy="423.8" rx="4.45" ry="8.30" fill="url(#gHau)" stroke="#bc6e78" stroke-width="0.7" transform="rotate(-60.4 539.0 423.8)"/><ellipse cx="542.5" cy="416.7" rx="4.45" ry="8.30" fill="url(#gHau)" stroke="#bc6e78" stroke-width="0.7" transform="rotate(-67.5 542.5 416.7)"/><ellipse cx="545.2" cy="409.3" rx="4.45" ry="8.30" fill="url(#gHau)" stroke="#bc6e78" stroke-width="0.7" transform="rotate(-71.6 545.2 409.3)"/></g>
<g id="stom"><path d="M486.2,350.6 C485.4,352.2 487.7,356.8 489.0,360.0 C490.3,363.2 492.2,366.2 494.0,370.0 C495.8,373.8 498.9,378.4 499.8,382.7 C500.7,387.0 499.7,391.9 499.5,396.0 C499.3,400.1 499.1,404.6 498.5,407.4 C497.9,410.2 497.2,411.3 496.0,413.0 C494.8,414.7 493.6,416.1 491.2,417.4 C488.8,418.7 485.4,420.6 481.3,421.0 C477.2,421.4 469.9,420.1 466.4,419.8 C462.8,419.6 461.6,418.9 460.0,419.5 C458.4,420.1 456.2,422.1 456.5,423.6 C456.8,425.1 457.8,426.4 461.5,428.5 C465.2,430.6 472.6,433.9 478.8,436.0 C485.0,438.1 491.9,440.6 498.5,441.0 C505.1,441.4 512.2,441.9 518.4,438.4 C524.6,434.9 531.8,426.2 535.7,419.8 C539.6,413.4 541.1,407.0 541.9,400.0 C542.7,393.0 542.6,383.6 540.7,377.8 C538.8,372.0 534.8,367.3 530.7,365.4 C526.6,363.5 519.7,365.8 515.9,366.6 C512.1,367.4 510.1,369.0 508.0,370.0 C505.9,371.0 505.2,374.1 503.5,372.8 C501.8,371.5 499.6,365.7 498.0,362.0 C496.4,358.3 495.6,352.5 493.6,350.6 C491.6,348.7 487.0,349.0 486.2,350.6 Z" fill="url(#gStom)" stroke="#7d1820" stroke-width="0.8" stroke-linecap="round" stroke-linejoin="round"/><path d="M512,376 C524,374 533,384 533,400 C533,414 522,428 504,432" fill="none" stroke="#c8484a" stroke-width="6" stroke-linecap="round" stroke-linejoin="round" opacity="0.5" filter="url(#b2)"/><path d="M489,353 C491,362 496,372 502,380" fill="none" stroke="#c8484a" stroke-width="1.6" stroke-linecap="round" stroke-linejoin="round" opacity="0.6"/></g>
<path d="M452.0,263.5 C449.3,266.1 440.3,273.2 436.0,279.0 C431.7,284.8 428.7,291.4 426.0,298.0 C423.3,304.6 421.7,311.7 420.0,318.5 C418.3,325.3 416.6,332.2 415.6,339.0 C414.6,345.8 414.1,353.1 414.0,359.3 C413.9,365.5 414.2,371.5 414.8,376.0 C415.4,380.5 417.1,384.8 417.5,386.5" fill="none" stroke="#6f4a4c" stroke-width="5.5" stroke-linecap="round" stroke-linejoin="round"/><path d="M524.5,263.0 C527.1,265.4 535.7,271.7 540.0,277.5 C544.3,283.3 547.4,291.1 550.2,298.0 C553.0,304.9 555.3,312.2 557.0,319.0 C558.7,325.8 559.5,331.2 560.3,339.0 C561.1,346.8 561.9,358.9 562.0,366.0 C562.1,373.1 561.2,378.9 561.0,381.5" fill="none" stroke="#7a5052" stroke-width="4" stroke-linecap="round" stroke-linejoin="round"/><ellipse cx="444.5" cy="266.0" rx="4.2" ry="2.9" fill="#dcd6c4" stroke="#b8ae9c" stroke-width="0.5" transform="rotate(134.7 444.5 266.0)"/><ellipse cx="433.6" cy="277.0" rx="4.2" ry="2.9" fill="#dcd6c4" stroke="#b8ae9c" stroke-width="0.5" transform="rotate(129.4 433.6 277.0)"/><ellipse cx="425.2" cy="289.5" rx="4.2" ry="2.9" fill="#dcd6c4" stroke="#b8ae9c" stroke-width="0.5" transform="rotate(115.2 425.2 289.5)"/><ellipse cx="420.2" cy="305.5" rx="4.2" ry="2.9" fill="#dcd6c4" stroke="#b8ae9c" stroke-width="0.5" transform="rotate(105.1 420.2 305.5)"/><ellipse cx="416.8" cy="320.6" rx="4.2" ry="2.9" fill="#dcd6c4" stroke="#b8ae9c" stroke-width="0.5" transform="rotate(101.0 416.8 320.6)"/><ellipse cx="414.3" cy="335.8" rx="4.2" ry="2.9" fill="#dcd6c4" stroke="#b8ae9c" stroke-width="0.5" transform="rotate(98.1 414.3 335.8)"/><ellipse cx="412.6" cy="350.0" rx="4.2" ry="2.9" fill="#dcd6c4" stroke="#b8ae9c" stroke-width="0.5" transform="rotate(94.9 412.6 350.0)"/><ellipse cx="411.8" cy="365.2" rx="4.2" ry="2.9" fill="#dcd6c4" stroke="#b8ae9c" stroke-width="0.5" transform="rotate(88.4 411.8 365.2)"/><ellipse cx="413.4" cy="379.5" rx="4.2" ry="2.9" fill="#dcd6c4" stroke="#b8ae9c" stroke-width="0.5" transform="rotate(83.6 413.4 379.5)"/><ellipse cx="530.0" cy="262.6" rx="4.2" ry="2.6" fill="#dcd6c4" stroke="#b8ae9c" stroke-width="0.5" transform="rotate(44.5 530.0 262.6)"/><ellipse cx="542.0" cy="274.4" rx="4.2" ry="2.6" fill="#dcd6c4" stroke="#b8ae9c" stroke-width="0.5" transform="rotate(52.0 542.0 274.4)"/><ellipse cx="550.4" cy="288.7" rx="4.2" ry="2.6" fill="#dcd6c4" stroke="#b8ae9c" stroke-width="0.5" transform="rotate(63.4 550.4 288.7)"/><ellipse cx="556.3" cy="303.0" rx="4.2" ry="2.6" fill="#dcd6c4" stroke="#b8ae9c" stroke-width="0.5" transform="rotate(71.8 556.3 303.0)"/><ellipse cx="559.7" cy="317.0" rx="4.2" ry="2.6" fill="#dcd6c4" stroke="#b8ae9c" stroke-width="0.5" transform="rotate(78.4 559.7 317.0)"/><ellipse cx="562.0" cy="330.7" rx="4.2" ry="2.6" fill="#dcd6c4" stroke="#b8ae9c" stroke-width="0.5" transform="rotate(82.0 562.0 330.7)"/><ellipse cx="563.5" cy="344.0" rx="4.2" ry="2.6" fill="#dcd6c4" stroke="#b8ae9c" stroke-width="0.5" transform="rotate(86.0 563.5 344.0)"/><ellipse cx="564.7" cy="369.0" rx="4.2" ry="2.6" fill="#dcd6c4" stroke="#b8ae9c" stroke-width="0.5" transform="rotate(90.0 564.7 369.0)"/><ellipse cx="563.5" cy="382.0" rx="4.2" ry="2.6" fill="#dcd6c4" stroke="#b8ae9c" stroke-width="0.5" transform="rotate(95.3 563.5 382.0)"/><path d="M475.5,373.0 C472.4,373.7 463.1,375.5 456.8,377.0 C450.5,378.5 444.1,380.5 437.9,382.0 C431.6,383.5 422.4,385.3 419.3,386.0 C418.9,384.3 417.4,380.4 416.8,376.0 C416.2,371.6 415.9,365.5 416.0,359.3 C416.1,353.1 416.6,345.7 417.6,339.0 C418.6,332.3 420.1,325.7 421.8,319.0 C423.5,312.3 425.2,305.2 427.7,298.8 C430.2,292.4 432.9,285.9 437.0,280.3 C441.1,274.7 448.2,268.3 452.0,265.0 C455.8,261.7 457.5,261.4 460.0,260.5 C462.5,259.6 464.8,259.4 467.0,259.3 C469.2,259.2 471.3,259.3 473.0,260.0 C474.7,260.7 475.9,261.2 477.0,263.5 C478.1,265.8 479.0,269.7 479.6,274.0 C480.2,278.3 480.2,282.3 480.5,289.3 C480.8,296.3 481.8,307.6 481.5,315.8 C481.2,324.0 479.4,330.6 478.6,338.5 C477.8,346.4 477.2,357.2 476.7,363.0 C476.2,368.8 475.7,371.3 475.5,373.0 Z" fill="url(#gLungL)"/><path d="M559.7,380.5 C556.8,379.8 547.2,378.3 542.0,376.5 C536.8,374.7 532.8,372.4 528.6,369.8 C524.4,367.2 519.3,363.7 516.8,361.0 C514.3,358.3 514.8,358.1 513.7,353.7 C512.6,349.3 512.5,340.4 510.0,334.7 C507.5,329.0 501.4,325.0 498.5,319.6 C495.6,314.2 494.1,307.9 492.8,302.5 C491.6,297.1 491.0,292.8 491.0,287.4 C491.0,282.0 492.0,274.6 492.8,270.0 C493.6,265.4 494.4,262.4 496.0,260.0 C497.6,257.6 500.0,255.9 502.3,255.5 C504.6,255.1 506.5,256.1 510.0,257.6 C513.5,259.1 520.0,262.1 523.5,264.3 C527.0,266.5 528.5,268.6 531.0,271.0 C533.5,273.4 536.5,275.8 538.7,278.6 C540.9,281.4 542.3,284.6 544.0,288.0 C545.7,291.4 547.3,295.3 548.7,298.8 C550.1,302.3 551.4,305.6 552.5,309.0 C553.6,312.4 554.7,315.7 555.5,319.0 C556.3,322.3 557.0,325.7 557.5,329.0 C558.0,332.3 558.4,335.2 558.8,339.0 C559.2,342.8 559.7,347.5 560.0,352.0 C560.3,356.5 560.5,361.2 560.5,366.0 C560.5,370.8 559.8,378.1 559.7,380.5 Z" fill="url(#gLungR)"/><path d="M460,261 C465,258 473,258.5 477,263 C479.5,270 480.3,278 480.3,288 C476,284 470,281 463,279 C459,274 458,267 460,261 Z" fill="#df9698" opacity="0.85"/><path d="M463,279 C470,281 476,284 480.3,288" fill="none" stroke="#f0d0d0" stroke-width="1.2" stroke-linecap="round" stroke-linejoin="round" opacity="0.8"/><path d="M495,261 C497,256.5 503,255 511,257.5 C516,262 515,270 510,277 C503,279 496,283 491.5,288 C491,278 492,268 495,261 Z" fill="#df9698" opacity="0.85"/><path d="M510,277 C503,279 496,283 491.5,288" fill="none" stroke="#f0d0d0" stroke-width="1.2" stroke-linecap="round" stroke-linejoin="round" opacity="0.8"/><path d="M480,296 C470,300 462,306 452,318 C446,326 440,338 436,352" fill="none" stroke="#b898ac" stroke-width="2.2" stroke-linecap="round" stroke-linejoin="round" opacity="0.38" filter="url(#b05)"/><path d="M462,306 C458,300 452,296 446,294" fill="none" stroke="#b898ac" stroke-width="2.2" stroke-linecap="round" stroke-linejoin="round" opacity="0.38" filter="url(#b05)"/><path d="M452,318 C452,330 454,345 458,360" fill="none" stroke="#b898ac" stroke-width="2.2" stroke-linecap="round" stroke-linejoin="round" opacity="0.38" filter="url(#b05)"/><path d="M444,332 C438,332 432,334 426,338" fill="none" stroke="#b898ac" stroke-width="2.2" stroke-linecap="round" stroke-linejoin="round" opacity="0.38" filter="url(#b05)"/><path d="M456,340 C450,346 446,356 444,368" fill="none" stroke="#b898ac" stroke-width="2.2" stroke-linecap="round" stroke-linejoin="round" opacity="0.38" filter="url(#b05)"/><path d="M468,302 C466,316 466,332 468,350" fill="none" stroke="#b898ac" stroke-width="2.2" stroke-linecap="round" stroke-linejoin="round" opacity="0.38" filter="url(#b05)"/><path d="M424,330 C440,326 460,330 478,334" fill="none" stroke="#b898ac" stroke-width="2.2" stroke-linecap="round" stroke-linejoin="round" opacity="0.38" filter="url(#b05)"/><path d="M492,296 C504,300 514,308 524,320 C532,330 538,342 542,356" fill="none" stroke="#b898ac" stroke-width="2.2" stroke-linecap="round" stroke-linejoin="round" opacity="0.38" filter="url(#b05)"/><path d="M512,306 C516,298 522,292 530,288" fill="none" stroke="#b898ac" stroke-width="2.2" stroke-linecap="round" stroke-linejoin="round" opacity="0.38" filter="url(#b05)"/><path d="M524,320 C534,318 544,320 552,326" fill="none" stroke="#b898ac" stroke-width="2.2" stroke-linecap="round" stroke-linejoin="round" opacity="0.38" filter="url(#b05)"/><path d="M520,316 C520,330 524,344 530,358" fill="none" stroke="#b898ac" stroke-width="2.2" stroke-linecap="round" stroke-linejoin="round" opacity="0.38" filter="url(#b05)"/><path d="M536,338 C544,342 552,350 556,360" fill="none" stroke="#b898ac" stroke-width="2.2" stroke-linecap="round" stroke-linejoin="round" opacity="0.38" filter="url(#b05)"/>
<path d="M482,288 L489.5,288 C490,298 491,306 491.5,316 L483,316 C483,306 482.5,298 482,288 Z" fill="#a3302c"/><path d="M478.2,244 L488.2,244 C488.6,258 489.3,270 489.8,280 L494,289 L490.5,292 L485.3,285 L480.3,292.5 L476.6,289 L479.8,280 C479.4,268 478.8,256 478.2,244 Z" fill="#c9d6da" stroke="#9aacb2" stroke-width="0.6" stroke-linecap="round" stroke-linejoin="round"/><line x1="478.6" y1="247.0" x2="488.6" y2="247.0" stroke="#e9eff0" stroke-width="2.2" opacity="0.85"/><line x1="478.8" y1="251.2" x2="488.8" y2="251.2" stroke="#e9eff0" stroke-width="2.2" opacity="0.85"/><line x1="478.9" y1="255.4" x2="488.9" y2="255.4" stroke="#e9eff0" stroke-width="2.2" opacity="0.85"/><line x1="479.1" y1="259.6" x2="489.1" y2="259.6" stroke="#e9eff0" stroke-width="2.2" opacity="0.85"/><line x1="479.2" y1="263.8" x2="489.3" y2="263.8" stroke="#e9eff0" stroke-width="2.2" opacity="0.85"/><line x1="479.4" y1="268.0" x2="489.5" y2="268.0" stroke="#e9eff0" stroke-width="2.2" opacity="0.85"/><line x1="479.5" y1="272.2" x2="489.6" y2="272.2" stroke="#e9eff0" stroke-width="2.2" opacity="0.85"/><line x1="479.7" y1="276.4" x2="489.8" y2="276.4" stroke="#e9eff0" stroke-width="2.2" opacity="0.85"/><line x1="479.8" y1="280.6" x2="490.0" y2="280.6" stroke="#e9eff0" stroke-width="2.2" opacity="0.85"/>
<path d="M484.9,310.6 C486.3,309.6 488.8,310.1 490.0,312.0 C491.2,313.9 490.7,319.2 491.9,322.0 C493.1,324.8 494.6,326.2 497.0,328.5 C499.4,330.8 503.7,333.4 506.0,336.0 C508.3,338.6 509.7,340.8 511.0,343.8 C512.3,346.8 512.7,350.6 513.6,354.0 C514.5,357.4 516.0,361.9 516.3,364.2 C516.6,366.5 517.9,367.1 515.5,368.0 C513.1,368.9 506.4,369.6 502.0,369.8 C497.6,370.0 492.8,369.5 489.3,369.0 C485.8,368.5 483.1,368.7 481.0,367.0 C478.9,365.3 477.6,362.4 476.8,359.0 C476.0,355.6 475.8,350.5 476.2,346.3 C476.6,342.1 478.5,338.3 479.4,333.6 C480.3,328.9 480.8,322.1 481.7,318.3 C482.6,314.5 483.5,311.7 484.9,310.6 Z" fill="#e6452c"/><path d="M485,311 C486,322 485,334 481,346 C479,352 479,358 481,364" fill="none" stroke="#c22c1c" stroke-width="2.4" stroke-linecap="round" stroke-linejoin="round"/><path d="M489.5,313 C490,324 490,334 487,346" fill="none" stroke="#cc3420" stroke-width="2" stroke-linecap="round" stroke-linejoin="round"/><path d="M481.8,315 C484,313.5 487,314 488,316 L487.8,333 C485.5,335.5 483,335 481.2,333 Z" fill="#2434dc"/><path d="M495.5,326.5 L501.5,331 L499.5,333.5 L494.5,329.5 Z" fill="#2434dc"/><path d="M479.5,361 C482,363.5 487,365.5 489,369 L481.5,367.5 Z" fill="#2434dc"/><path d="M484,343 C488,339.5 493,340 494.5,343.5 C496,347 493,350 494,353 C495,357 492,361 488,363 C484,364.5 480.5,362 480.5,358 C480.5,354 481.5,350 481.5,347 C481.5,345 482.5,344 484,343 Z" fill="#f09a1e" opacity="0.92"/><path d="M484.5,347 L493,345.5 M483.5,352 L492.5,350.5 M483.5,357 L491.5,356 M487,342 L487.5,362" fill="none" stroke="#e6452c" stroke-width="1.2" stroke-linecap="round" stroke-linejoin="round" opacity="0.8"/><path d="M508.5,355 C511,359 512.8,364 514.8,367.8" fill="none" stroke="#f09a1e" stroke-width="2" stroke-linecap="round" stroke-linejoin="round"/><path d="M496,333 C501,338 506,346 507,358" fill="none" stroke="#f4694c" stroke-width="5" stroke-linecap="round" stroke-linejoin="round" opacity="0.55" filter="url(#b1)"/><path d="M490,337 C497,343 501,352 501,367" fill="none" stroke="#c83020" stroke-width="1.2" stroke-linecap="round" stroke-linejoin="round" opacity="0.6"/>
<ellipse cx="456.6" cy="422.5" rx="5.6" ry="7.8" fill="#64863f" transform="rotate(12 456.6 422.5)"/><ellipse cx="455.3" cy="420.5" rx="2.4" ry="4" fill="#8aa868" opacity="0.8" transform="rotate(12 455.3 420.5)"/><path d="M470,414 C480,411 490,412 497,408.5 C498,412 495,416 490,418 C484,420 476,419 470,414 Z" fill="#f2d6c6"/><path d="M473,417.5 C480,415 487,415.5 494,412.5 C495,416 491,420.5 485,422.5 C480,423.5 475.5,421.5 473,417.5 Z" fill="#e8d660"/>
<path d="M434.8,434.2 C433.6,432.7 429.9,428.9 427.8,425.0 C425.7,421.1 423.4,415.7 422.0,411.0 C420.6,406.3 419.9,401.2 419.5,397.0 C419.1,392.8 418.6,388.4 419.7,386.0 C420.8,383.6 423.5,383.6 426.0,382.5 C428.5,381.4 429.5,380.9 434.8,379.7 C440.1,378.4 451.1,376.1 458.0,375.0 C464.9,373.9 469.6,373.6 476.5,372.8 C483.4,372.0 492.4,370.8 499.7,370.4 C506.9,370.0 515.3,370.1 520.0,370.5 C524.7,370.9 526.3,371.4 528.0,372.5 C529.7,373.6 530.3,375.4 530.0,377.0 C529.7,378.6 527.6,380.4 526.0,382.0 C524.4,383.6 523.1,384.0 520.6,386.5 C518.1,389.0 514.4,393.7 511.3,397.0 C508.2,400.3 505.1,404.2 502.0,406.4 C498.9,408.5 497.1,408.9 492.8,409.9 C488.6,410.9 481.1,411.2 476.5,412.2 C471.9,413.2 468.9,414.3 465.0,415.7 C461.1,417.1 456.9,418.4 453.4,420.3 C449.9,422.2 447.1,425.0 444.0,427.3 C440.9,429.6 436.3,433.1 434.8,434.2 Z" fill="url(#gLiver)"/><path d="M476.5,372.8 C490,371 510,370 520,370.5 C527,371 531,374 530,377 C527,383 520,387 511.3,397 C506,404 498,409 492.8,409.9 C487,411 480,412 475.5,412.5 C476.5,400 476.8,386 476.5,372.8 Z" fill="#801a1c" opacity="0.8"/><path d="M426,392 C435,385 452,381 470,379" fill="none" stroke="#b23a38" stroke-width="6" stroke-linecap="round" stroke-linejoin="round" opacity="0.45" filter="url(#b2)"/><path d="M484,378 C498,375 512,375 522,377" fill="none" stroke="#a83232" stroke-width="4" stroke-linecap="round" stroke-linejoin="round" opacity="0.5" filter="url(#b2)"/>
<path d="M477.3,367 C475,376 475,390 475.4,400 C475.3,407 473,412 470.5,418.5" fill="none" stroke="#86863e" stroke-width="3.4" stroke-linecap="round" stroke-linejoin="round"/><path d="M477.3,367 C475,376 475,390 475.4,400 C475.3,407 473,412 470.5,418.5" fill="none" stroke="#a8a458" stroke-width="1.6" stroke-linecap="round" stroke-linejoin="round"/><ellipse cx="477.2" cy="368.5" rx="3" ry="3.4" fill="#9c9a50"/>
<polygon points="228.0,126.2 228.0,184.0 479.8,147.6" fill="url(#gShL)" filter="url(#sh2)" transform="translate(2,5.2)"/><polygon points="228.0,126.2 228.0,184.0 479.8,147.6" fill="url(#gTri)"/>
<polygon points="228.0,464.1 228.0,520.3 489.7,468.0" fill="url(#gShL)" filter="url(#sh2)" transform="translate(2,5.2)"/><polygon points="228.0,464.1 228.0,520.3 489.7,468.0" fill="url(#gTri)"/>
<polygon points="491.4,347.2 706.0,347.2 706.0,397.4" fill="url(#gShR)" filter="url(#sh2)" transform="translate(2,5.2)"/><polygon points="491.4,347.2 706.0,347.2 706.0,397.4" fill="url(#gTriR)"/>
<polygon points="572.1,691.6 706.0,691.6 706.0,753.2" fill="url(#gShR)" filter="url(#sh2)" transform="translate(2,5.2)"/><polygon points="572.1,691.6 706.0,691.6 706.0,753.2" fill="url(#gTriR)"/>
<circle cx="154.4" cy="165.5" r="85.3" fill="#111" opacity="0.78" filter="url(#sh)"/><circle cx="150.9" cy="160.0" r="84.5" fill="#fff" stroke="#0c0c0c" stroke-width="2.5"/>
<path d="M144,195 C152,202 156,212 158,224 L167,223.5 C165,212 166,204 170,198 Z" fill="#d8bf98" stroke="#b09468" stroke-width="0.6" stroke-linecap="round" stroke-linejoin="round"/><path d="M150,200 C156,206 160,214 162,223" fill="none" stroke="#ecdcc0" stroke-width="2" stroke-linecap="round" stroke-linejoin="round" opacity="0.7"/><path d="M152.0,196.0 C152.8,194.0 155.3,191.7 160.0,190.0 C164.7,188.3 173.7,186.9 180.0,186.0 C186.3,185.1 193.7,184.2 198.0,184.5 C202.3,184.8 204.8,186.1 206.0,188.0 C207.2,189.9 206.7,193.3 205.0,196.0 C203.3,198.7 200.2,202.0 196.0,204.0 C191.8,206.0 185.3,207.5 180.0,208.0 C174.7,208.5 168.2,208.0 164.0,207.0 C159.8,206.0 157.0,203.8 155.0,202.0 C153.0,200.2 151.2,198.0 152.0,196.0 Z" fill="#bd8448" stroke="#96632e" stroke-width="0.7" stroke-linecap="round" stroke-linejoin="round"/><path d="M160,199 C172,203 190,202 202,194" fill="none" stroke="#a87238" stroke-width="0.8" stroke-linecap="round" stroke-linejoin="round" opacity="0.7"/><path d="M158,194 C170,197 188,196 203,190" fill="none" stroke="#d09a5c" stroke-width="1.5" stroke-linecap="round" stroke-linejoin="round" opacity="0.6"/><clipPath id="cBrain"><path d="M81.5,153.8 C81.2,149.7 81.3,144.9 83.2,140.8 C85.1,136.7 88.4,133.2 93.0,129.4 C97.6,125.6 103.6,121.0 110.9,118.0 C118.2,115.0 128.8,112.5 137.0,111.4 C145.2,110.3 151.6,110.6 159.8,111.4 C168.0,112.2 178.4,113.6 186.0,116.3 C193.6,119.0 200.3,123.1 205.5,127.7 C210.7,132.3 214.1,137.7 217.0,144.0 C219.9,150.3 222.2,159.0 222.7,165.3 C223.2,171.6 222.0,178.1 220.2,181.6 C218.4,185.1 214.7,186.0 212.0,186.5 C209.3,187.0 207.7,184.8 203.9,184.8 C200.1,184.8 194.4,185.4 189.2,186.5 C184.0,187.6 178.3,189.8 172.9,191.4 C167.5,193.0 162.0,195.2 156.6,196.3 C151.2,197.4 145.2,198.5 140.3,197.9 C135.4,197.3 130.8,195.4 127.2,193.0 C123.7,190.6 120.9,185.9 119.0,183.2 C117.1,180.5 117.7,177.5 115.8,176.7 C113.9,175.9 111.1,178.6 107.6,178.3 C104.1,178.0 98.4,177.2 94.6,175.0 C90.8,172.8 87.0,168.8 84.8,165.3 C82.6,161.8 81.8,157.9 81.5,153.8 Z"/></clipPath><path d="M81.5,153.8 C81.2,149.7 81.3,144.9 83.2,140.8 C85.1,136.7 88.4,133.2 93.0,129.4 C97.6,125.6 103.6,121.0 110.9,118.0 C118.2,115.0 128.8,112.5 137.0,111.4 C145.2,110.3 151.6,110.6 159.8,111.4 C168.0,112.2 178.4,113.6 186.0,116.3 C193.6,119.0 200.3,123.1 205.5,127.7 C210.7,132.3 214.1,137.7 217.0,144.0 C219.9,150.3 222.2,159.0 222.7,165.3 C223.2,171.6 222.0,178.1 220.2,181.6 C218.4,185.1 214.7,186.0 212.0,186.5 C209.3,187.0 207.7,184.8 203.9,184.8 C200.1,184.8 194.4,185.4 189.2,186.5 C184.0,187.6 178.3,189.8 172.9,191.4 C167.5,193.0 162.0,195.2 156.6,196.3 C151.2,197.4 145.2,198.5 140.3,197.9 C135.4,197.3 130.8,195.4 127.2,193.0 C123.7,190.6 120.9,185.9 119.0,183.2 C117.1,180.5 117.7,177.5 115.8,176.7 C113.9,175.9 111.1,178.6 107.6,178.3 C104.1,178.0 98.4,177.2 94.6,175.0 C90.8,172.8 87.0,168.8 84.8,165.3 C82.6,161.8 81.8,157.9 81.5,153.8 Z" fill="url(#gBrain)"/><g clip-path="url(#cBrain)"><g filter="url(#b08)"><path d="M116,176 C121,169 130,164 142,161 C154,158 166,159 178,164 C188,168 198,170 208,166" fill="none" stroke="#e0b47c" stroke-width="3" stroke-linecap="round" stroke-linejoin="round" opacity="0.5" transform="translate(1.4,1.7)"/><path d="M126,190 C134,184 146,182 158,184 C170,186 182,183 192,178 C198,176 204,178 210,182" fill="none" stroke="#e0b47c" stroke-width="3" stroke-linecap="round" stroke-linejoin="round" opacity="0.5" transform="translate(1.4,1.7)"/><path d="M138,196 C150,190 164,191 178,188" fill="none" stroke="#e0b47c" stroke-width="3" stroke-linecap="round" stroke-linejoin="round" opacity="0.5" transform="translate(1.4,1.7)"/><path d="M124,178 C136,174 150,176 162,177 C174,177 184,180 196,184" fill="none" stroke="#e0b47c" stroke-width="3" stroke-linecap="round" stroke-linejoin="round" opacity="0.5" transform="translate(1.4,1.7)"/><path d="M86.6,113.2 Q88.3,111.0 88.6,106.0 Q86.1,103.8 84.9,99.6" fill="none" stroke="#e0b47c" stroke-width="3" stroke-linecap="round" stroke-linejoin="round" opacity="0.5" transform="translate(1.4,1.7)"/><path d="M88.4,125.5 Q83.0,121.1 81.3,118.5 Q77.2,122.6 74.2,122.3" fill="none" stroke="#e0b47c" stroke-width="3" stroke-linecap="round" stroke-linejoin="round" opacity="0.5" transform="translate(1.4,1.7)"/><path d="M87.4,142.3 Q85.5,147.7 79.6,148.4 Q74.3,148.8 69.8,149.1" fill="none" stroke="#e0b47c" stroke-width="3" stroke-linecap="round" stroke-linejoin="round" opacity="0.5" transform="translate(1.4,1.7)"/><path d="M88.3,157.2 Q86.5,157.7 81.5,161.9 Q82.5,166.0 83.2,170.2 Q88.2,175.5 86.6,179.7" fill="none" stroke="#e0b47c" stroke-width="3" stroke-linecap="round" stroke-linejoin="round" opacity="0.5" transform="translate(1.4,1.7)"/><path d="M85.3,166.7 Q87.2,161.0 83.9,156.5 Q88.4,154.3 90.7,151.3 Q95.7,153.1 99.1,147.3" fill="none" stroke="#e0b47c" stroke-width="3" stroke-linecap="round" stroke-linejoin="round" opacity="0.5" transform="translate(1.4,1.7)"/><path d="M102.8,117.3 Q104.1,119.9 111.2,125.8 Q116.5,128.1 120.4,130.6 Q121.7,130.7 127.2,127.2" fill="none" stroke="#e0b47c" stroke-width="3" stroke-linecap="round" stroke-linejoin="round" opacity="0.5" transform="translate(1.4,1.7)"/><path d="M100.0,127.0 Q101.0,131.7 102.7,135.8 Q101.4,141.4 96.2,145.2 Q90.8,150.9 93.9,156.3" fill="none" stroke="#e0b47c" stroke-width="3" stroke-linecap="round" stroke-linejoin="round" opacity="0.5" transform="translate(1.4,1.7)"/><path d="M100.4,139.9 Q98.6,144.1 94.6,145.2 Q91.5,150.6 86.6,151.3 Q81.4,146.8 75.6,147.3" fill="none" stroke="#e0b47c" stroke-width="3" stroke-linecap="round" stroke-linejoin="round" opacity="0.5" transform="translate(1.4,1.7)"/><path d="M102.7,158.0 Q106.7,154.5 110.1,153.0 Q110.2,147.5 111.5,141.2 Q113.6,137.5 114.4,134.2" fill="none" stroke="#e0b47c" stroke-width="3" stroke-linecap="round" stroke-linejoin="round" opacity="0.5" transform="translate(1.4,1.7)"/><path d="M106.6,168.9 Q110.6,170.9 112.2,174.3 Q114.4,178.2 119.3,177.1" fill="none" stroke="#e0b47c" stroke-width="3" stroke-linecap="round" stroke-linejoin="round" opacity="0.5" transform="translate(1.4,1.7)"/><path d="M117.7,115.9 Q119.9,121.8 121.2,126.0 Q119.0,129.8 123.5,133.7" fill="none" stroke="#e0b47c" stroke-width="3" stroke-linecap="round" stroke-linejoin="round" opacity="0.5" transform="translate(1.4,1.7)"/><path d="M119.5,132.3 Q125.7,128.7 130.7,130.3 Q135.0,128.2 137.3,126.2 Q141.9,129.5 145.7,128.1" fill="none" stroke="#e0b47c" stroke-width="3" stroke-linecap="round" stroke-linejoin="round" opacity="0.5" transform="translate(1.4,1.7)"/><path d="M121.9,144.8 Q125.8,141.6 128.8,140.6 Q126.3,137.7 126.8,133.8 Q127.7,130.4 129.6,122.3" fill="none" stroke="#e0b47c" stroke-width="3" stroke-linecap="round" stroke-linejoin="round" opacity="0.5" transform="translate(1.4,1.7)"/><path d="M121.9,158.6 Q125.2,163.3 125.5,167.3 Q125.1,166.6 117.2,173.0" fill="none" stroke="#e0b47c" stroke-width="3" stroke-linecap="round" stroke-linejoin="round" opacity="0.5" transform="translate(1.4,1.7)"/><path d="M116.8,169.1 Q121.8,169.6 127.6,170.3 Q130.4,168.8 135.3,162.5" fill="none" stroke="#e0b47c" stroke-width="3" stroke-linecap="round" stroke-linejoin="round" opacity="0.5" transform="translate(1.4,1.7)"/><path d="M136.8,115.2 Q133.4,117.7 128.9,115.1 Q123.6,109.1 124.4,105.1" fill="none" stroke="#e0b47c" stroke-width="3" stroke-linecap="round" stroke-linejoin="round" opacity="0.5" transform="translate(1.4,1.7)"/><path d="M136.8,130.3 Q138.6,131.1 144.0,138.6 Q140.8,142.2 144.1,146.3" fill="none" stroke="#e0b47c" stroke-width="3" stroke-linecap="round" stroke-linejoin="round" opacity="0.5" transform="translate(1.4,1.7)"/><path d="M136.0,138.2 Q133.4,140.4 131.8,145.8 Q131.9,151.1 138.9,153.8" fill="none" stroke="#e0b47c" stroke-width="3" stroke-linecap="round" stroke-linejoin="round" opacity="0.5" transform="translate(1.4,1.7)"/><path d="M135.5,155.1 Q134.0,150.4 140.7,147.1 Q141.6,144.7 138.6,140.4" fill="none" stroke="#e0b47c" stroke-width="3" stroke-linecap="round" stroke-linejoin="round" opacity="0.5" transform="translate(1.4,1.7)"/><path d="M132.8,169.8 Q129.2,164.6 126.5,162.5 Q125.8,158.9 129.1,155.7 Q124.1,150.6 122.8,148.9" fill="none" stroke="#e0b47c" stroke-width="3" stroke-linecap="round" stroke-linejoin="round" opacity="0.5" transform="translate(1.4,1.7)"/><path d="M144.5,114.6 Q149.1,116.3 153.1,118.0 Q149.3,121.9 152.7,128.5" fill="none" stroke="#e0b47c" stroke-width="3" stroke-linecap="round" stroke-linejoin="round" opacity="0.5" transform="translate(1.4,1.7)"/><path d="M146.1,129.5 Q146.5,126.0 147.6,122.0 Q146.7,118.0 143.9,115.7 Q147.4,112.9 148.1,109.2" fill="none" stroke="#e0b47c" stroke-width="3" stroke-linecap="round" stroke-linejoin="round" opacity="0.5" transform="translate(1.4,1.7)"/><path d="M145.1,145.1 Q146.7,144.6 151.7,148.6 Q152.8,152.9 156.4,155.2" fill="none" stroke="#e0b47c" stroke-width="3" stroke-linecap="round" stroke-linejoin="round" opacity="0.5" transform="translate(1.4,1.7)"/><path d="M147.2,154.4 Q143.4,155.8 140.4,156.3 Q139.6,161.1 140.9,165.0" fill="none" stroke="#e0b47c" stroke-width="3" stroke-linecap="round" stroke-linejoin="round" opacity="0.5" transform="translate(1.4,1.7)"/><path d="M144.5,171.9 Q143.6,171.5 137.8,166.8 Q140.3,160.8 135.6,156.0" fill="none" stroke="#e0b47c" stroke-width="3" stroke-linecap="round" stroke-linejoin="round" opacity="0.5" transform="translate(1.4,1.7)"/><path d="M166.6,115.2 Q162.5,111.5 161.3,110.0 Q160.5,107.0 155.2,105.9 Q157.1,103.4 154.1,98.6" fill="none" stroke="#e0b47c" stroke-width="3" stroke-linecap="round" stroke-linejoin="round" opacity="0.5" transform="translate(1.4,1.7)"/><path d="M165.9,128.6 Q161.8,127.6 157.7,127.1 Q156.0,131.2 151.3,131.0 Q152.0,134.8 149.7,139.4" fill="none" stroke="#e0b47c" stroke-width="3" stroke-linecap="round" stroke-linejoin="round" opacity="0.5" transform="translate(1.4,1.7)"/><path d="M161.3,142.0 Q164.1,147.9 156.7,153.0 Q153.9,159.6 151.9,163.9 Q149.0,168.8 149.2,173.9" fill="none" stroke="#e0b47c" stroke-width="3" stroke-linecap="round" stroke-linejoin="round" opacity="0.5" transform="translate(1.4,1.7)"/><path d="M163.4,158.1 Q169.9,163.4 174.6,162.1 Q178.7,165.4 180.8,170.2 Q182.7,170.6 188.0,167.7" fill="none" stroke="#e0b47c" stroke-width="3" stroke-linecap="round" stroke-linejoin="round" opacity="0.5" transform="translate(1.4,1.7)"/><path d="M161.0,165.3 Q163.2,170.4 161.1,175.7 Q165.8,179.6 166.2,183.4 Q168.7,186.0 177.4,187.2" fill="none" stroke="#e0b47c" stroke-width="3" stroke-linecap="round" stroke-linejoin="round" opacity="0.5" transform="translate(1.4,1.7)"/><path d="M176.0,119.7 Q180.5,122.6 180.2,127.3 Q178.4,130.4 180.9,135.5 Q177.4,139.0 175.3,140.8" fill="none" stroke="#e0b47c" stroke-width="3" stroke-linecap="round" stroke-linejoin="round" opacity="0.5" transform="translate(1.4,1.7)"/><path d="M176.4,130.0 Q175.9,134.1 182.4,138.8 Q188.8,143.9 192.9,144.3" fill="none" stroke="#e0b47c" stroke-width="3" stroke-linecap="round" stroke-linejoin="round" opacity="0.5" transform="translate(1.4,1.7)"/><path d="M179.1,138.4 Q182.3,136.3 189.4,134.2 Q195.5,135.6 199.8,130.2 Q206.0,131.6 211.2,128.7" fill="none" stroke="#e0b47c" stroke-width="3" stroke-linecap="round" stroke-linejoin="round" opacity="0.5" transform="translate(1.4,1.7)"/><path d="M175.8,151.2 Q173.7,156.0 171.2,158.8 Q176.2,160.6 178.1,165.6 Q178.6,169.5 183.9,170.1" fill="none" stroke="#e0b47c" stroke-width="3" stroke-linecap="round" stroke-linejoin="round" opacity="0.5" transform="translate(1.4,1.7)"/><path d="M174.7,168.2 Q171.0,164.3 169.9,162.7 Q166.1,162.6 159.2,162.4 Q154.0,161.5 150.2,165.2" fill="none" stroke="#e0b47c" stroke-width="3" stroke-linecap="round" stroke-linejoin="round" opacity="0.5" transform="translate(1.4,1.7)"/><path d="M193.9,117.1 Q199.2,118.4 204.2,117.3 Q206.8,116.5 209.2,109.3" fill="none" stroke="#e0b47c" stroke-width="3" stroke-linecap="round" stroke-linejoin="round" opacity="0.5" transform="translate(1.4,1.7)"/><path d="M189.8,126.7 Q186.4,124.1 180.6,128.3 Q174.2,134.5 174.2,138.3 Q168.4,144.0 169.4,148.3" fill="none" stroke="#e0b47c" stroke-width="3" stroke-linecap="round" stroke-linejoin="round" opacity="0.5" transform="translate(1.4,1.7)"/><path d="M191.1,139.7 Q193.1,135.9 191.4,132.2 Q190.8,128.2 187.9,122.8" fill="none" stroke="#e0b47c" stroke-width="3" stroke-linecap="round" stroke-linejoin="round" opacity="0.5" transform="translate(1.4,1.7)"/><path d="M189.9,153.9 Q186.1,153.8 182.5,156.3 Q178.1,160.5 173.6,162.1 Q175.3,166.5 174.1,170.7" fill="none" stroke="#e0b47c" stroke-width="3" stroke-linecap="round" stroke-linejoin="round" opacity="0.5" transform="translate(1.4,1.7)"/><path d="M192.2,171.5 Q189.7,175.4 186.2,177.5 Q181.1,175.0 178.1,171.8" fill="none" stroke="#e0b47c" stroke-width="3" stroke-linecap="round" stroke-linejoin="round" opacity="0.5" transform="translate(1.4,1.7)"/><path d="M206.2,112.4 Q205.0,115.7 210.3,119.0 Q213.4,121.1 219.8,124.2 Q223.0,123.3 227.2,116.3" fill="none" stroke="#e0b47c" stroke-width="3" stroke-linecap="round" stroke-linejoin="round" opacity="0.5" transform="translate(1.4,1.7)"/><path d="M208.4,126.6 Q213.2,126.5 218.5,130.5 Q218.5,125.3 225.8,121.4 Q228.7,119.3 227.8,113.2" fill="none" stroke="#e0b47c" stroke-width="3" stroke-linecap="round" stroke-linejoin="round" opacity="0.5" transform="translate(1.4,1.7)"/><path d="M206.1,143.2 Q211.7,147.4 213.0,150.8 Q212.8,156.0 211.8,160.4 Q207.7,165.1 204.9,166.4" fill="none" stroke="#e0b47c" stroke-width="3" stroke-linecap="round" stroke-linejoin="round" opacity="0.5" transform="translate(1.4,1.7)"/><path d="M205.4,155.4 Q203.0,160.7 207.8,165.0 Q209.9,168.8 212.0,173.0 Q215.9,177.0 217.9,177.4" fill="none" stroke="#e0b47c" stroke-width="3" stroke-linecap="round" stroke-linejoin="round" opacity="0.5" transform="translate(1.4,1.7)"/><path d="M205.0,168.0 Q199.6,168.4 194.1,171.7 Q189.4,170.2 186.7,175.9" fill="none" stroke="#e0b47c" stroke-width="3" stroke-linecap="round" stroke-linejoin="round" opacity="0.5" transform="translate(1.4,1.7)"/><path d="M116,176 C121,169 130,164 142,161 C154,158 166,159 178,164 C188,168 198,170 208,166" fill="none" stroke="#8e5c2a" stroke-width="2.8" stroke-linecap="round" stroke-linejoin="round" opacity="0.8"/><path d="M126,190 C134,184 146,182 158,184 C170,186 182,183 192,178 C198,176 204,178 210,182" fill="none" stroke="#8e5c2a" stroke-width="2.8" stroke-linecap="round" stroke-linejoin="round" opacity="0.8"/><path d="M138,196 C150,190 164,191 178,188" fill="none" stroke="#8e5c2a" stroke-width="2.8" stroke-linecap="round" stroke-linejoin="round" opacity="0.8"/><path d="M124,178 C136,174 150,176 162,177 C174,177 184,180 196,184" fill="none" stroke="#8e5c2a" stroke-width="2.8" stroke-linecap="round" stroke-linejoin="round" opacity="0.8"/><path d="M86.6,113.2 Q88.3,111.0 88.6,106.0 Q86.1,103.8 84.9,99.6" fill="none" stroke="#96642f" stroke-width="2.6" stroke-linecap="round" stroke-linejoin="round" opacity="0.72"/><path d="M88.4,125.5 Q83.0,121.1 81.3,118.5 Q77.2,122.6 74.2,122.3" fill="none" stroke="#96642f" stroke-width="2.6" stroke-linecap="round" stroke-linejoin="round" opacity="0.72"/><path d="M87.4,142.3 Q85.5,147.7 79.6,148.4 Q74.3,148.8 69.8,149.1" fill="none" stroke="#96642f" stroke-width="2.6" stroke-linecap="round" stroke-linejoin="round" opacity="0.72"/><path d="M88.3,157.2 Q86.5,157.7 81.5,161.9 Q82.5,166.0 83.2,170.2 Q88.2,175.5 86.6,179.7" fill="none" stroke="#96642f" stroke-width="2.6" stroke-linecap="round" stroke-linejoin="round" opacity="0.72"/><path d="M85.3,166.7 Q87.2,161.0 83.9,156.5 Q88.4,154.3 90.7,151.3 Q95.7,153.1 99.1,147.3" fill="none" stroke="#96642f" stroke-width="2.6" stroke-linecap="round" stroke-linejoin="round" opacity="0.72"/><path d="M102.8,117.3 Q104.1,119.9 111.2,125.8 Q116.5,128.1 120.4,130.6 Q121.7,130.7 127.2,127.2" fill="none" stroke="#96642f" stroke-width="2.6" stroke-linecap="round" stroke-linejoin="round" opacity="0.72"/><path d="M100.0,127.0 Q101.0,131.7 102.7,135.8 Q101.4,141.4 96.2,145.2 Q90.8,150.9 93.9,156.3" fill="none" stroke="#96642f" stroke-width="2.6" stroke-linecap="round" stroke-linejoin="round" opacity="0.72"/><path d="M100.4,139.9 Q98.6,144.1 94.6,145.2 Q91.5,150.6 86.6,151.3 Q81.4,146.8 75.6,147.3" fill="none" stroke="#96642f" stroke-width="2.6" stroke-linecap="round" stroke-linejoin="round" opacity="0.72"/><path d="M102.7,158.0 Q106.7,154.5 110.1,153.0 Q110.2,147.5 111.5,141.2 Q113.6,137.5 114.4,134.2" fill="none" stroke="#96642f" stroke-width="2.6" stroke-linecap="round" stroke-linejoin="round" opacity="0.72"/><path d="M106.6,168.9 Q110.6,170.9 112.2,174.3 Q114.4,178.2 119.3,177.1" fill="none" stroke="#96642f" stroke-width="2.6" stroke-linecap="round" stroke-linejoin="round" opacity="0.72"/><path d="M117.7,115.9 Q119.9,121.8 121.2,126.0 Q119.0,129.8 123.5,133.7" fill="none" stroke="#96642f" stroke-width="2.6" stroke-linecap="round" stroke-linejoin="round" opacity="0.72"/><path d="M119.5,132.3 Q125.7,128.7 130.7,130.3 Q135.0,128.2 137.3,126.2 Q141.9,129.5 145.7,128.1" fill="none" stroke="#96642f" stroke-width="2.6" stroke-linecap="round" stroke-linejoin="round" opacity="0.72"/><path d="M121.9,144.8 Q125.8,141.6 128.8,140.6 Q126.3,137.7 126.8,133.8 Q127.7,130.4 129.6,122.3" fill="none" stroke="#96642f" stroke-width="2.6" stroke-linecap="round" stroke-linejoin="round" opacity="0.72"/><path d="M121.9,158.6 Q125.2,163.3 125.5,167.3 Q125.1,166.6 117.2,173.0" fill="none" stroke="#96642f" stroke-width="2.6" stroke-linecap="round" stroke-linejoin="round" opacity="0.72"/><path d="M116.8,169.1 Q121.8,169.6 127.6,170.3 Q130.4,168.8 135.3,162.5" fill="none" stroke="#96642f" stroke-width="2.6" stroke-linecap="round" stroke-linejoin="round" opacity="0.72"/><path d="M136.8,115.2 Q133.4,117.7 128.9,115.1 Q123.6,109.1 124.4,105.1" fill="none" stroke="#96642f" stroke-width="2.6" stroke-linecap="round" stroke-linejoin="round" opacity="0.72"/><path d="M136.8,130.3 Q138.6,131.1 144.0,138.6 Q140.8,142.2 144.1,146.3" fill="none" stroke="#96642f" stroke-width="2.6" stroke-linecap="round" stroke-linejoin="round" opacity="0.72"/><path d="M136.0,138.2 Q133.4,140.4 131.8,145.8 Q131.9,151.1 138.9,153.8" fill="none" stroke="#96642f" stroke-width="2.6" stroke-linecap="round" stroke-linejoin="round" opacity="0.72"/><path d="M135.5,155.1 Q134.0,150.4 140.7,147.1 Q141.6,144.7 138.6,140.4" fill="none" stroke="#96642f" stroke-width="2.6" stroke-linecap="round" stroke-linejoin="round" opacity="0.72"/><path d="M132.8,169.8 Q129.2,164.6 126.5,162.5 Q125.8,158.9 129.1,155.7 Q124.1,150.6 122.8,148.9" fill="none" stroke="#96642f" stroke-width="2.6" stroke-linecap="round" stroke-linejoin="round" opacity="0.72"/><path d="M144.5,114.6 Q149.1,116.3 153.1,118.0 Q149.3,121.9 152.7,128.5" fill="none" stroke="#96642f" stroke-width="2.6" stroke-linecap="round" stroke-linejoin="round" opacity="0.72"/><path d="M146.1,129.5 Q146.5,126.0 147.6,122.0 Q146.7,118.0 143.9,115.7 Q147.4,112.9 148.1,109.2" fill="none" stroke="#96642f" stroke-width="2.6" stroke-linecap="round" stroke-linejoin="round" opacity="0.72"/><path d="M145.1,145.1 Q146.7,144.6 151.7,148.6 Q152.8,152.9 156.4,155.2" fill="none" stroke="#96642f" stroke-width="2.6" stroke-linecap="round" stroke-linejoin="round" opacity="0.72"/><path d="M147.2,154.4 Q143.4,155.8 140.4,156.3 Q139.6,161.1 140.9,165.0" fill="none" stroke="#96642f" stroke-width="2.6" stroke-linecap="round" stroke-linejoin="round" opacity="0.72"/><path d="M144.5,171.9 Q143.6,171.5 137.8,166.8 Q140.3,160.8 135.6,156.0" fill="none" stroke="#96642f" stroke-width="2.6" stroke-linecap="round" stroke-linejoin="round" opacity="0.72"/><path d="M166.6,115.2 Q162.5,111.5 161.3,110.0 Q160.5,107.0 155.2,105.9 Q157.1,103.4 154.1,98.6" fill="none" stroke="#96642f" stroke-width="2.6" stroke-linecap="round" stroke-linejoin="round" opacity="0.72"/><path d="M165.9,128.6 Q161.8,127.6 157.7,127.1 Q156.0,131.2 151.3,131.0 Q152.0,134.8 149.7,139.4" fill="none" stroke="#96642f" stroke-width="2.6" stroke-linecap="round" stroke-linejoin="round" opacity="0.72"/><path d="M161.3,142.0 Q164.1,147.9 156.7,153.0 Q153.9,159.6 151.9,163.9 Q149.0,168.8 149.2,173.9" fill="none" stroke="#96642f" stroke-width="2.6" stroke-linecap="round" stroke-linejoin="round" opacity="0.72"/><path d="M163.4,158.1 Q169.9,163.4 174.6,162.1 Q178.7,165.4 180.8,170.2 Q182.7,170.6 188.0,167.7" fill="none" stroke="#96642f" stroke-width="2.6" stroke-linecap="round" stroke-linejoin="round" opacity="0.72"/><path d="M161.0,165.3 Q163.2,170.4 161.1,175.7 Q165.8,179.6 166.2,183.4 Q168.7,186.0 177.4,187.2" fill="none" stroke="#96642f" stroke-width="2.6" stroke-linecap="round" stroke-linejoin="round" opacity="0.72"/><path d="M176.0,119.7 Q180.5,122.6 180.2,127.3 Q178.4,130.4 180.9,135.5 Q177.4,139.0 175.3,140.8" fill="none" stroke="#96642f" stroke-width="2.6" stroke-linecap="round" stroke-linejoin="round" opacity="0.72"/><path d="M176.4,130.0 Q175.9,134.1 182.4,138.8 Q188.8,143.9 192.9,144.3" fill="none" stroke="#96642f" stroke-width="2.6" stroke-linecap="round" stroke-linejoin="round" opacity="0.72"/><path d="M179.1,138.4 Q182.3,136.3 189.4,134.2 Q195.5,135.6 199.8,130.2 Q206.0,131.6 211.2,128.7" fill="none" stroke="#96642f" stroke-width="2.6" stroke-linecap="round" stroke-linejoin="round" opacity="0.72"/><path d="M175.8,151.2 Q173.7,156.0 171.2,158.8 Q176.2,160.6 178.1,165.6 Q178.6,169.5 183.9,170.1" fill="none" stroke="#96642f" stroke-width="2.6" stroke-linecap="round" stroke-linejoin="round" opacity="0.72"/><path d="M174.7,168.2 Q171.0,164.3 169.9,162.7 Q166.1,162.6 159.2,162.4 Q154.0,161.5 150.2,165.2" fill="none" stroke="#96642f" stroke-width="2.6" stroke-linecap="round" stroke-linejoin="round" opacity="0.72"/><path d="M193.9,117.1 Q199.2,118.4 204.2,117.3 Q206.8,116.5 209.2,109.3" fill="none" stroke="#96642f" stroke-width="2.6" stroke-linecap="round" stroke-linejoin="round" opacity="0.72"/><path d="M189.8,126.7 Q186.4,124.1 180.6,128.3 Q174.2,134.5 174.2,138.3 Q168.4,144.0 169.4,148.3" fill="none" stroke="#96642f" stroke-width="2.6" stroke-linecap="round" stroke-linejoin="round" opacity="0.72"/><path d="M191.1,139.7 Q193.1,135.9 191.4,132.2 Q190.8,128.2 187.9,122.8" fill="none" stroke="#96642f" stroke-width="2.6" stroke-linecap="round" stroke-linejoin="round" opacity="0.72"/><path d="M189.9,153.9 Q186.1,153.8 182.5,156.3 Q178.1,160.5 173.6,162.1 Q175.3,166.5 174.1,170.7" fill="none" stroke="#96642f" stroke-width="2.6" stroke-linecap="round" stroke-linejoin="round" opacity="0.72"/><path d="M192.2,171.5 Q189.7,175.4 186.2,177.5 Q181.1,175.0 178.1,171.8" fill="none" stroke="#96642f" stroke-width="2.6" stroke-linecap="round" stroke-linejoin="round" opacity="0.72"/><path d="M206.2,112.4 Q205.0,115.7 210.3,119.0 Q213.4,121.1 219.8,124.2 Q223.0,123.3 227.2,116.3" fill="none" stroke="#96642f" stroke-width="2.6" stroke-linecap="round" stroke-linejoin="round" opacity="0.72"/><path d="M208.4,126.6 Q213.2,126.5 218.5,130.5 Q218.5,125.3 225.8,121.4 Q228.7,119.3 227.8,113.2" fill="none" stroke="#96642f" stroke-width="2.6" stroke-linecap="round" stroke-linejoin="round" opacity="0.72"/><path d="M206.1,143.2 Q211.7,147.4 213.0,150.8 Q212.8,156.0 211.8,160.4 Q207.7,165.1 204.9,166.4" fill="none" stroke="#96642f" stroke-width="2.6" stroke-linecap="round" stroke-linejoin="round" opacity="0.72"/><path d="M205.4,155.4 Q203.0,160.7 207.8,165.0 Q209.9,168.8 212.0,173.0 Q215.9,177.0 217.9,177.4" fill="none" stroke="#96642f" stroke-width="2.6" stroke-linecap="round" stroke-linejoin="round" opacity="0.72"/><path d="M205.0,168.0 Q199.6,168.4 194.1,171.7 Q189.4,170.2 186.7,175.9" fill="none" stroke="#96642f" stroke-width="2.6" stroke-linecap="round" stroke-linejoin="round" opacity="0.72"/></g></g><path d="M81.5,153.8 C81.2,149.7 81.3,144.9 83.2,140.8 C85.1,136.7 88.4,133.2 93.0,129.4 C97.6,125.6 103.6,121.0 110.9,118.0 C118.2,115.0 128.8,112.5 137.0,111.4 C145.2,110.3 151.6,110.6 159.8,111.4 C168.0,112.2 178.4,113.6 186.0,116.3 C193.6,119.0 200.3,123.1 205.5,127.7 C210.7,132.3 214.1,137.7 217.0,144.0 C219.9,150.3 222.2,159.0 222.7,165.3 C223.2,171.6 222.0,178.1 220.2,181.6 C218.4,185.1 214.7,186.0 212.0,186.5 C209.3,187.0 207.7,184.8 203.9,184.8 C200.1,184.8 194.4,185.4 189.2,186.5 C184.0,187.6 178.3,189.8 172.9,191.4 C167.5,193.0 162.0,195.2 156.6,196.3 C151.2,197.4 145.2,198.5 140.3,197.9 C135.4,197.3 130.8,195.4 127.2,193.0 C123.7,190.6 120.9,185.9 119.0,183.2 C117.1,180.5 117.7,177.5 115.8,176.7 C113.9,175.9 111.1,178.6 107.6,178.3 C104.1,178.0 98.4,177.2 94.6,175.0 C90.8,172.8 87.0,168.8 84.8,165.3 C82.6,161.8 81.8,157.9 81.5,153.8 Z" fill="none" stroke="#9a6a36" stroke-width="0.9" stroke-linecap="round" stroke-linejoin="round"/>
<circle cx="155.4" cy="500.7" r="84.7" fill="#111" opacity="0.78" filter="url(#sh)"/><circle cx="151.9" cy="495.2" r="84.0" fill="#fff" stroke="#0c0c0c" stroke-width="2.5"/>
<g transform="translate(-233.3,134.6) scale(0.797)"><path d="M445.0,444.0 C449.3,437.7 461.3,450.2 470.0,452.0 C478.7,453.8 487.7,456.0 497.0,455.0 C506.3,454.0 520.8,441.8 526.0,446.0 C531.2,450.2 528.0,469.7 528.0,480.0 C528.0,490.3 529.8,502.3 526.0,508.0 C522.2,513.7 511.3,514.3 505.0,514.0 C498.7,513.7 493.8,504.7 488.0,506.0 C482.2,507.3 476.0,520.0 470.0,522.0 C464.0,524.0 456.3,523.3 452.0,518.0 C447.7,512.7 445.2,502.3 444.0,490.0 C442.8,477.7 440.7,450.3 445.0,444.0 Z" fill="#eab2b4"/><path d="M449.0,455.0 C450.5,454.2 455.2,449.8 458.0,450.0 C460.8,450.2 465.3,453.3 466.0,456.0 C466.7,458.7 464.3,464.3 462.0,466.0 C459.7,467.7 453.7,466.0 452.0,466.0" fill="none" stroke="#cf8e98" stroke-width="7.4" stroke-linecap="round" stroke-linejoin="round"/><path d="M449.0,455.0 C450.5,454.2 455.2,449.8 458.0,450.0 C460.8,450.2 465.3,453.3 466.0,456.0 C466.7,458.7 464.3,464.3 462.0,466.0 C459.7,467.7 453.7,466.0 452.0,466.0" fill="none" stroke="#efbcbe" stroke-width="5.6" stroke-linecap="round" stroke-linejoin="round"/><path d="M449.0,455.0 C450.5,454.2 455.2,449.8 458.0,450.0 C460.8,450.2 465.3,453.3 466.0,456.0 C466.7,458.7 464.3,464.3 462.0,466.0 C459.7,467.7 453.7,466.0 452.0,466.0" fill="none" stroke="#f9dcdc" stroke-width="2" stroke-linecap="round" stroke-linejoin="round" opacity="0.85"/><path d="M472.0,457.0 C474.0,457.8 479.8,461.7 484.0,462.0 C488.2,462.3 492.7,459.7 497.0,459.0 C501.3,458.3 506.2,457.3 510.0,458.0 C513.8,458.7 518.2,460.8 520.0,463.0 C521.8,465.2 522.3,469.2 521.0,471.0 C519.7,472.8 515.8,474.2 512.0,474.0 C508.2,473.8 502.7,470.0 498.0,470.0 C493.3,470.0 488.0,474.0 484.0,474.0 C480.0,474.0 475.7,470.7 474.0,470.0" fill="none" stroke="#cf8e98" stroke-width="7.4" stroke-linecap="round" stroke-linejoin="round"/><path d="M472.0,457.0 C474.0,457.8 479.8,461.7 484.0,462.0 C488.2,462.3 492.7,459.7 497.0,459.0 C501.3,458.3 506.2,457.3 510.0,458.0 C513.8,458.7 518.2,460.8 520.0,463.0 C521.8,465.2 522.3,469.2 521.0,471.0 C519.7,472.8 515.8,474.2 512.0,474.0 C508.2,473.8 502.7,470.0 498.0,470.0 C493.3,470.0 488.0,474.0 484.0,474.0 C480.0,474.0 475.7,470.7 474.0,470.0" fill="none" stroke="#efbcbe" stroke-width="5.6" stroke-linecap="round" stroke-linejoin="round"/><path d="M472.0,457.0 C474.0,457.8 479.8,461.7 484.0,462.0 C488.2,462.3 492.7,459.7 497.0,459.0 C501.3,458.3 506.2,457.3 510.0,458.0 C513.8,458.7 518.2,460.8 520.0,463.0 C521.8,465.2 522.3,469.2 521.0,471.0 C519.7,472.8 515.8,474.2 512.0,474.0 C508.2,473.8 502.7,470.0 498.0,470.0 C493.3,470.0 488.0,474.0 484.0,474.0 C480.0,474.0 475.7,470.7 474.0,470.0" fill="none" stroke="#f9dcdc" stroke-width="2" stroke-linecap="round" stroke-linejoin="round" opacity="0.85"/><path d="M450.0,479.0 C451.7,478.2 456.3,474.0 460.0,474.0 C463.7,474.0 468.0,478.3 472.0,479.0 C476.0,479.7 480.0,477.5 484.0,478.0 C488.0,478.5 492.0,481.8 496.0,482.0 C500.0,482.2 504.0,478.7 508.0,479.0 C512.0,479.3 518.0,483.2 520.0,484.0" fill="none" stroke="#cf8e98" stroke-width="7.4" stroke-linecap="round" stroke-linejoin="round"/><path d="M450.0,479.0 C451.7,478.2 456.3,474.0 460.0,474.0 C463.7,474.0 468.0,478.3 472.0,479.0 C476.0,479.7 480.0,477.5 484.0,478.0 C488.0,478.5 492.0,481.8 496.0,482.0 C500.0,482.2 504.0,478.7 508.0,479.0 C512.0,479.3 518.0,483.2 520.0,484.0" fill="none" stroke="#efbcbe" stroke-width="5.6" stroke-linecap="round" stroke-linejoin="round"/><path d="M450.0,479.0 C451.7,478.2 456.3,474.0 460.0,474.0 C463.7,474.0 468.0,478.3 472.0,479.0 C476.0,479.7 480.0,477.5 484.0,478.0 C488.0,478.5 492.0,481.8 496.0,482.0 C500.0,482.2 504.0,478.7 508.0,479.0 C512.0,479.3 518.0,483.2 520.0,484.0" fill="none" stroke="#f9dcdc" stroke-width="2" stroke-linecap="round" stroke-linejoin="round" opacity="0.85"/><path d="M448.0,493.0 C450.0,492.2 456.0,487.8 460.0,488.0 C464.0,488.2 468.0,493.7 472.0,494.0 C476.0,494.3 480.0,489.7 484.0,490.0 C488.0,490.3 492.0,495.7 496.0,496.0 C500.0,496.3 503.8,491.8 508.0,492.0 C512.2,492.2 518.8,496.2 521.0,497.0" fill="none" stroke="#cf8e98" stroke-width="7.4" stroke-linecap="round" stroke-linejoin="round"/><path d="M448.0,493.0 C450.0,492.2 456.0,487.8 460.0,488.0 C464.0,488.2 468.0,493.7 472.0,494.0 C476.0,494.3 480.0,489.7 484.0,490.0 C488.0,490.3 492.0,495.7 496.0,496.0 C500.0,496.3 503.8,491.8 508.0,492.0 C512.2,492.2 518.8,496.2 521.0,497.0" fill="none" stroke="#efbcbe" stroke-width="5.6" stroke-linecap="round" stroke-linejoin="round"/><path d="M448.0,493.0 C450.0,492.2 456.0,487.8 460.0,488.0 C464.0,488.2 468.0,493.7 472.0,494.0 C476.0,494.3 480.0,489.7 484.0,490.0 C488.0,490.3 492.0,495.7 496.0,496.0 C500.0,496.3 503.8,491.8 508.0,492.0 C512.2,492.2 518.8,496.2 521.0,497.0" fill="none" stroke="#f9dcdc" stroke-width="2" stroke-linecap="round" stroke-linejoin="round" opacity="0.85"/><path d="M450.0,507.0 C452.0,506.2 458.2,502.0 462.0,502.0 C465.8,502.0 471.5,504.7 473.0,507.0 C474.5,509.3 473.3,514.5 471.0,516.0 C468.7,517.5 461.0,516.0 459.0,516.0" fill="none" stroke="#cf8e98" stroke-width="7.4" stroke-linecap="round" stroke-linejoin="round"/><path d="M450.0,507.0 C452.0,506.2 458.2,502.0 462.0,502.0 C465.8,502.0 471.5,504.7 473.0,507.0 C474.5,509.3 473.3,514.5 471.0,516.0 C468.7,517.5 461.0,516.0 459.0,516.0" fill="none" stroke="#efbcbe" stroke-width="5.6" stroke-linecap="round" stroke-linejoin="round"/><path d="M450.0,507.0 C452.0,506.2 458.2,502.0 462.0,502.0 C465.8,502.0 471.5,504.7 473.0,507.0 C474.5,509.3 473.3,514.5 471.0,516.0 C468.7,517.5 461.0,516.0 459.0,516.0" fill="none" stroke="#f9dcdc" stroke-width="2" stroke-linecap="round" stroke-linejoin="round" opacity="0.85"/><path d="M488.0,503.0 C489.7,503.7 494.3,506.8 498.0,507.0 C501.7,507.2 506.3,503.8 510.0,504.0 C513.7,504.2 518.3,507.3 520.0,508.0" fill="none" stroke="#cf8e98" stroke-width="7.4" stroke-linecap="round" stroke-linejoin="round"/><path d="M488.0,503.0 C489.7,503.7 494.3,506.8 498.0,507.0 C501.7,507.2 506.3,503.8 510.0,504.0 C513.7,504.2 518.3,507.3 520.0,508.0" fill="none" stroke="#efbcbe" stroke-width="5.6" stroke-linecap="round" stroke-linejoin="round"/><path d="M488.0,503.0 C489.7,503.7 494.3,506.8 498.0,507.0 C501.7,507.2 506.3,503.8 510.0,504.0 C513.7,504.2 518.3,507.3 520.0,508.0" fill="none" stroke="#f9dcdc" stroke-width="2" stroke-linecap="round" stroke-linejoin="round" opacity="0.85"/><path d="M434.0,428.0 C433.9,431.7 433.5,443.0 433.5,450.0 C433.5,457.0 434.0,463.3 434.0,470.0 C434.0,476.7 433.4,484.3 433.5,490.0 C433.6,495.7 434.3,501.7 434.5,504.0" fill="none" stroke="#bc6e78" stroke-width="24.5" stroke-linecap="round" stroke-linejoin="round"/><path d="M434.0,428.0 C433.9,431.7 433.5,443.0 433.5,450.0 C433.5,457.0 434.0,463.3 434.0,470.0 C434.0,476.7 433.4,484.3 433.5,490.0 C433.6,495.7 434.3,501.7 434.5,504.0" fill="none" stroke="#e8a2a6" stroke-width="23.1" stroke-linecap="round" stroke-linejoin="round"/><ellipse cx="433.9" cy="432.2" rx="4.73" ry="12.05" fill="url(#gHau)" stroke="#bc6e78" stroke-width="0.7" transform="rotate(91.7 433.9 432.2)"/><ellipse cx="433.6" cy="440.7" rx="4.73" ry="12.05" fill="url(#gHau)" stroke="#bc6e78" stroke-width="0.7" transform="rotate(91.4 433.6 440.7)"/><ellipse cx="433.5" cy="449.1" rx="4.73" ry="12.05" fill="url(#gHau)" stroke="#bc6e78" stroke-width="0.7" transform="rotate(90.2 433.5 449.1)"/><ellipse cx="433.7" cy="457.6" rx="4.73" ry="12.05" fill="url(#gHau)" stroke="#bc6e78" stroke-width="0.7" transform="rotate(88.0 433.7 457.6)"/><ellipse cx="433.9" cy="466.0" rx="4.73" ry="12.05" fill="url(#gHau)" stroke="#bc6e78" stroke-width="0.7" transform="rotate(88.5 433.9 466.0)"/><ellipse cx="433.9" cy="474.5" rx="4.73" ry="12.05" fill="url(#gHau)" stroke="#bc6e78" stroke-width="0.7" transform="rotate(91.6 433.9 474.5)"/><ellipse cx="433.6" cy="482.9" rx="4.73" ry="12.05" fill="url(#gHau)" stroke="#bc6e78" stroke-width="0.7" transform="rotate(92.1 433.6 482.9)"/><ellipse cx="433.5" cy="491.4" rx="4.73" ry="12.05" fill="url(#gHau)" stroke="#bc6e78" stroke-width="0.7" transform="rotate(88.1 433.5 491.4)"/><ellipse cx="434.1" cy="499.8" rx="4.73" ry="12.05" fill="url(#gHau)" stroke="#bc6e78" stroke-width="0.7" transform="rotate(84.6 434.1 499.8)"/><path d="M434.0,428.0 C433.9,431.7 433.5,443.0 433.5,450.0 C433.5,457.0 434.0,463.3 434.0,470.0 C434.0,476.7 433.4,484.3 433.5,490.0 C433.6,495.7 434.3,501.7 434.5,504.0" fill="none" stroke="#bc6e78" stroke-width="1.2" stroke-linecap="round" stroke-linejoin="round" opacity="0.75"/><path d="M427.0,505.0 C425.0,507.5 425.2,512.8 426.0,516.0 C426.8,519.2 429.2,522.8 432.0,524.5 C434.8,526.2 439.6,526.6 443.0,526.0 C446.4,525.4 450.3,523.5 452.5,521.0 C454.7,518.5 456.4,514.0 456.0,511.0 C455.6,508.0 453.0,504.7 450.0,503.0 C447.0,501.3 441.8,500.7 438.0,501.0 C434.2,501.3 429.0,502.5 427.0,505.0 Z" fill="url(#gHau)" stroke="#bc6e78" stroke-width="0.9" stroke-linecap="round" stroke-linejoin="round"/><path d="M440,503 C444,508 444,516 441,525" fill="none" stroke="#bc6e78" stroke-width="0.9" stroke-linecap="round" stroke-linejoin="round" opacity="0.7"/><path d="M451.5,518 C454.5,521 452.5,526 454.5,529 C455.5,531 456,532 456.5,533" fill="none" stroke="#bc6470" stroke-width="1.9" stroke-linecap="round" stroke-linejoin="round"/><path d="M539.3,410.0 C539.5,413.0 540.5,422.0 540.5,428.0 C540.5,434.0 539.4,439.7 539.3,446.0 C539.2,452.3 539.8,459.3 539.8,466.0 C539.8,472.7 539.3,479.5 539.3,486.0 C539.3,492.5 539.9,501.8 540.0,505.0" fill="none" stroke="#bd6c76" stroke-width="28.5" stroke-linecap="round" stroke-linejoin="round"/><path d="M539.3,410.0 C539.5,413.0 540.5,422.0 540.5,428.0 C540.5,434.0 539.4,439.7 539.3,446.0 C539.2,452.3 539.8,459.3 539.8,466.0 C539.8,472.7 539.3,479.5 539.3,486.0 C539.3,492.5 539.9,501.8 540.0,505.0" fill="none" stroke="#e09098" stroke-width="27.1" stroke-linecap="round" stroke-linejoin="round"/><ellipse cx="539.7" cy="414.3" rx="4.84" ry="14.05" fill="url(#gHau2)" stroke="#bd6c76" stroke-width="0.7" transform="rotate(84.9 539.7 414.3)"/><ellipse cx="540.3" cy="422.9" rx="4.84" ry="14.05" fill="url(#gHau2)" stroke="#bd6c76" stroke-width="0.7" transform="rotate(86.7 540.3 422.9)"/><ellipse cx="540.4" cy="431.6" rx="4.84" ry="14.05" fill="url(#gHau2)" stroke="#bd6c76" stroke-width="0.7" transform="rotate(93.6 540.4 431.6)"/><ellipse cx="539.6" cy="440.2" rx="4.84" ry="14.05" fill="url(#gHau2)" stroke="#bd6c76" stroke-width="0.7" transform="rotate(94.9 539.6 440.2)"/><ellipse cx="539.3" cy="448.8" rx="4.84" ry="14.05" fill="url(#gHau2)" stroke="#bd6c76" stroke-width="0.7" transform="rotate(89.5 539.3 448.8)"/><ellipse cx="539.6" cy="457.5" rx="4.84" ry="14.05" fill="url(#gHau2)" stroke="#bd6c76" stroke-width="0.7" transform="rotate(87.6 539.6 457.5)"/><ellipse cx="539.8" cy="466.1" rx="4.84" ry="14.05" fill="url(#gHau2)" stroke="#bd6c76" stroke-width="0.7" transform="rotate(90.1 539.8 466.1)"/><ellipse cx="539.6" cy="474.8" rx="4.84" ry="14.05" fill="url(#gHau2)" stroke="#bd6c76" stroke-width="0.7" transform="rotate(92.2 539.6 474.8)"/><ellipse cx="539.3" cy="483.4" rx="4.84" ry="14.05" fill="url(#gHau2)" stroke="#bd6c76" stroke-width="0.7" transform="rotate(90.9 539.3 483.4)"/><ellipse cx="539.4" cy="492.0" rx="4.84" ry="14.05" fill="url(#gHau2)" stroke="#bd6c76" stroke-width="0.7" transform="rotate(88.0 539.4 492.0)"/><ellipse cx="539.8" cy="500.7" rx="4.84" ry="14.05" fill="url(#gHau2)" stroke="#bd6c76" stroke-width="0.7" transform="rotate(87.3 539.8 500.7)"/><path d="M539.3,410.0 C539.5,413.0 540.5,422.0 540.5,428.0 C540.5,434.0 539.4,439.7 539.3,446.0 C539.2,452.3 539.8,459.3 539.8,466.0 C539.8,472.7 539.3,479.5 539.3,486.0 C539.3,492.5 539.9,501.8 540.0,505.0" fill="none" stroke="#bd6c76" stroke-width="1.2" stroke-linecap="round" stroke-linejoin="round" opacity="0.75"/><path d="M543.0,503.0 C542.7,504.7 543.0,510.4 541.0,513.0 C539.0,515.6 535.0,517.6 531.0,518.5 C527.0,519.4 521.2,519.2 517.0,518.5 C512.8,517.8 509.0,515.9 506.0,514.0 C503.0,512.1 500.2,508.2 499.0,507.0" fill="none" stroke="#bc6e78" stroke-width="17.5" stroke-linecap="round" stroke-linejoin="round"/><path d="M543.0,503.0 C542.7,504.7 543.0,510.4 541.0,513.0 C539.0,515.6 535.0,517.6 531.0,518.5 C527.0,519.4 521.2,519.2 517.0,518.5 C512.8,517.8 509.0,515.9 506.0,514.0 C503.0,512.1 500.2,508.2 499.0,507.0" fill="none" stroke="#e8a2a6" stroke-width="16.1" stroke-linecap="round" stroke-linejoin="round"/><ellipse cx="542.7" cy="507.1" rx="4.63" ry="8.55" fill="url(#gHau)" stroke="#bc6e78" stroke-width="0.7" transform="rotate(95.3 542.7 507.1)"/><ellipse cx="539.6" cy="514.5" rx="4.63" ry="8.55" fill="url(#gHau)" stroke="#bc6e78" stroke-width="0.7" transform="rotate(140.0 539.6 514.5)"/><ellipse cx="532.2" cy="518.2" rx="4.63" ry="8.55" fill="url(#gHau)" stroke="#bc6e78" stroke-width="0.7" transform="rotate(163.8 532.2 518.2)"/><ellipse cx="524.0" cy="519.1" rx="4.63" ry="8.55" fill="url(#gHau)" stroke="#bc6e78" stroke-width="0.7" transform="rotate(-179.3 524.0 519.1)"/><ellipse cx="515.8" cy="518.3" rx="4.63" ry="8.55" fill="url(#gHau)" stroke="#bc6e78" stroke-width="0.7" transform="rotate(-167.2 515.8 518.3)"/><ellipse cx="508.1" cy="515.3" rx="4.63" ry="8.55" fill="url(#gHau)" stroke="#bc6e78" stroke-width="0.7" transform="rotate(-151.1 508.1 515.3)"/><ellipse cx="501.7" cy="510.1" rx="4.63" ry="8.55" fill="url(#gHau)" stroke="#bc6e78" stroke-width="0.7" transform="rotate(-131.8 501.7 510.1)"/><path d="M487.5,553.0 C488.4,552.0 491.6,549.5 493.0,547.0 C494.4,544.5 495.8,541.3 496.0,538.0 C496.2,534.7 493.8,531.2 494.0,527.0 C494.2,522.8 496.1,517.3 497.0,513.0 C497.9,508.7 500.7,504.2 499.5,501.0 C498.3,497.8 493.8,494.5 490.0,494.0 C486.2,493.5 478.9,495.0 477.0,498.0 C475.1,501.0 477.8,507.3 478.5,512.0 C479.2,516.7 480.9,521.7 481.0,526.0 C481.1,530.3 478.8,534.5 479.0,538.0 C479.2,541.5 480.6,544.5 482.0,547.0 C483.4,549.5 486.6,552.0 487.5,553.0 Z" fill="url(#gRect)" stroke="#bc6e78" stroke-width="0.9" stroke-linecap="round" stroke-linejoin="round"/><path d="M481,528 C485,531 490,531 494,528" fill="none" stroke="#bc6e78" stroke-width="0.8" stroke-linecap="round" stroke-linejoin="round" opacity="0.7"/><path d="M429.5,427.0 C430.4,427.9 432.6,430.8 435.0,432.5 C437.4,434.2 440.2,435.8 444.0,437.5 C447.8,439.2 453.0,441.0 458.0,442.5 C463.0,444.0 468.3,445.5 474.0,446.5 C479.7,447.5 486.2,448.6 492.0,448.5 C497.8,448.4 503.8,447.4 509.0,446.0 C514.2,444.6 518.8,442.5 523.0,440.0 C527.2,437.5 530.9,434.5 534.0,431.0 C537.1,427.5 539.4,423.2 541.5,419.0 C543.6,414.8 545.7,407.8 546.5,405.5" fill="none" stroke="#bc6e78" stroke-width="17" stroke-linecap="round" stroke-linejoin="round"/><path d="M429.5,427.0 C430.4,427.9 432.6,430.8 435.0,432.5 C437.4,434.2 440.2,435.8 444.0,437.5 C447.8,439.2 453.0,441.0 458.0,442.5 C463.0,444.0 468.3,445.5 474.0,446.5 C479.7,447.5 486.2,448.6 492.0,448.5 C497.8,448.4 503.8,447.4 509.0,446.0 C514.2,444.6 518.8,442.5 523.0,440.0 C527.2,437.5 530.9,434.5 534.0,431.0 C537.1,427.5 539.4,423.2 541.5,419.0 C543.6,414.8 545.7,407.8 546.5,405.5" fill="none" stroke="#e8a2a6" stroke-width="15.6" stroke-linecap="round" stroke-linejoin="round"/><ellipse cx="432.2" cy="429.9" rx="4.45" ry="8.30" fill="url(#gHau)" stroke="#bc6e78" stroke-width="0.7" transform="rotate(46.3 432.2 429.9)"/><ellipse cx="438.5" cy="434.7" rx="4.45" ry="8.30" fill="url(#gHau)" stroke="#bc6e78" stroke-width="0.7" transform="rotate(30.1 438.5 434.7)"/><ellipse cx="445.6" cy="438.2" rx="4.45" ry="8.30" fill="url(#gHau)" stroke="#bc6e78" stroke-width="0.7" transform="rotate(22.2 445.6 438.2)"/><ellipse cx="453.1" cy="440.9" rx="4.45" ry="8.30" fill="url(#gHau)" stroke="#bc6e78" stroke-width="0.7" transform="rotate(18.7 453.1 440.9)"/><ellipse cx="460.7" cy="443.3" rx="4.45" ry="8.30" fill="url(#gHau)" stroke="#bc6e78" stroke-width="0.7" transform="rotate(16.2 460.7 443.3)"/><ellipse cx="468.3" cy="445.3" rx="4.45" ry="8.30" fill="url(#gHau)" stroke="#bc6e78" stroke-width="0.7" transform="rotate(13.2 468.3 445.3)"/><ellipse cx="476.1" cy="446.9" rx="4.45" ry="8.30" fill="url(#gHau)" stroke="#bc6e78" stroke-width="0.7" transform="rotate(9.8 476.1 446.9)"/><ellipse cx="484.0" cy="448.0" rx="4.45" ry="8.30" fill="url(#gHau)" stroke="#bc6e78" stroke-width="0.7" transform="rotate(6.5 484.0 448.0)"/><ellipse cx="491.9" cy="448.5" rx="4.45" ry="8.30" fill="url(#gHau)" stroke="#bc6e78" stroke-width="0.7" transform="rotate(-0.5 491.9 448.5)"/><ellipse cx="499.8" cy="447.9" rx="4.45" ry="8.30" fill="url(#gHau)" stroke="#bc6e78" stroke-width="0.7" transform="rotate(-7.8 499.8 447.9)"/><ellipse cx="507.6" cy="446.4" rx="4.45" ry="8.30" fill="url(#gHau)" stroke="#bc6e78" stroke-width="0.7" transform="rotate(-14.2 507.6 446.4)"/><ellipse cx="515.2" cy="443.9" rx="4.45" ry="8.30" fill="url(#gHau)" stroke="#bc6e78" stroke-width="0.7" transform="rotate(-22.0 515.2 443.9)"/><ellipse cx="522.3" cy="440.4" rx="4.45" ry="8.30" fill="url(#gHau)" stroke="#bc6e78" stroke-width="0.7" transform="rotate(-30.1 522.3 440.4)"/><ellipse cx="528.8" cy="435.9" rx="4.45" ry="8.30" fill="url(#gHau)" stroke="#bc6e78" stroke-width="0.7" transform="rotate(-38.9 528.8 435.9)"/><ellipse cx="534.5" cy="430.4" rx="4.45" ry="8.30" fill="url(#gHau)" stroke="#bc6e78" stroke-width="0.7" transform="rotate(-50.2 534.5 430.4)"/><ellipse cx="539.0" cy="423.8" rx="4.45" ry="8.30" fill="url(#gHau)" stroke="#bc6e78" stroke-width="0.7" transform="rotate(-60.4 539.0 423.8)"/><ellipse cx="542.5" cy="416.7" rx="4.45" ry="8.30" fill="url(#gHau)" stroke="#bc6e78" stroke-width="0.7" transform="rotate(-67.5 542.5 416.7)"/><ellipse cx="545.2" cy="409.3" rx="4.45" ry="8.30" fill="url(#gHau)" stroke="#bc6e78" stroke-width="0.7" transform="rotate(-71.6 545.2 409.3)"/><path d="M486.2,350.6 C485.4,352.2 487.7,356.8 489.0,360.0 C490.3,363.2 492.2,366.2 494.0,370.0 C495.8,373.8 498.9,378.4 499.8,382.7 C500.7,387.0 499.7,391.9 499.5,396.0 C499.3,400.1 499.1,404.6 498.5,407.4 C497.9,410.2 497.2,411.3 496.0,413.0 C494.8,414.7 493.6,416.1 491.2,417.4 C488.8,418.7 485.4,420.6 481.3,421.0 C477.2,421.4 469.9,420.1 466.4,419.8 C462.8,419.6 461.6,418.9 460.0,419.5 C458.4,420.1 456.2,422.1 456.5,423.6 C456.8,425.1 457.8,426.4 461.5,428.5 C465.2,430.6 472.6,433.9 478.8,436.0 C485.0,438.1 491.9,440.6 498.5,441.0 C505.1,441.4 512.2,441.9 518.4,438.4 C524.6,434.9 531.8,426.2 535.7,419.8 C539.6,413.4 541.1,407.0 541.9,400.0 C542.7,393.0 542.6,383.6 540.7,377.8 C538.8,372.0 534.8,367.3 530.7,365.4 C526.6,363.5 519.7,365.8 515.9,366.6 C512.1,367.4 510.1,369.0 508.0,370.0 C505.9,371.0 505.2,374.1 503.5,372.8 C501.8,371.5 499.6,365.7 498.0,362.0 C496.4,358.3 495.6,352.5 493.6,350.6 C491.6,348.7 487.0,349.0 486.2,350.6 Z" fill="url(#gStom)" stroke="#7d1820" stroke-width="0.8" stroke-linecap="round" stroke-linejoin="round"/><path d="M512,376 C524,374 533,384 533,400 C533,414 522,428 504,432" fill="none" stroke="#c8484a" stroke-width="6" stroke-linecap="round" stroke-linejoin="round" opacity="0.5" filter="url(#b2)"/><path d="M489,353 C491,362 496,372 502,380" fill="none" stroke="#c8484a" stroke-width="1.6" stroke-linecap="round" stroke-linejoin="round" opacity="0.6"/></g>
<circle cx="787.0" cy="378.6" r="85.0" fill="#111" opacity="0.78" filter="url(#sh)"/><circle cx="783.5" cy="373.1" r="84.2" fill="#fff" stroke="#0c0c0c" stroke-width="2.5"/>
<path d="M754.5,322.5 C757,318.5 763,318 766,321.5 C766.5,340 766,360 766.5,380 C767,400 768,418 768.5,428 C767,433 762,435.5 758,434 C755,432 753.5,428 753.5,424 C753,395 752.5,360 754.5,322.5 Z" fill="url(#gBlue)"/><path d="M757,322 C756,350 756,390 757.5,428" fill="none" stroke="#4050f0" stroke-width="2.4" stroke-linecap="round" stroke-linejoin="round" opacity="0.55"/><path d="M762,424 C765,426 767,429 768,432" fill="none" stroke="#141a80" stroke-width="3" stroke-linecap="round" stroke-linejoin="round" opacity="0.5"/><path d="M753.5,335.5 L740,338.5 C735.5,340 735.5,347 740.5,348 L754,346.5 Z" fill="#2331d2"/><path d="M740,340 L736.8,345.5" fill="none" stroke="#141a80" stroke-width="2.2" stroke-linecap="round" stroke-linejoin="round" opacity="0.5"/><path d="M735,365.5 L751,360.5 M737,372.5 L752,367" fill="none" stroke="#e2432a" stroke-width="3.6" stroke-linecap="round" stroke-linejoin="round"/><path d="M769,326 L757.5,311 C757,308 760,306.5 763,307.5 L776,322 Z" fill="url(#gRed)"/><path d="M776.5,321 L781.5,304.5 C783,302.5 786,303 786.5,305.5 L784.5,322 Z" fill="url(#gRed)"/><path d="M787,323 L793.5,307.5 C795,305.5 798,306.5 798,309 L794,327 Z" fill="url(#gRed)"/><path d="M766,352 C765,338 766.5,328 773,324.5 C781,321 791,323 795.5,328.5 C798,332 797.5,337 795,340.5 L784,345 L782,352 Z" fill="url(#gRed)"/><path d="M772,350 C771,340 772,332 777,328" fill="none" stroke="#ff8262" stroke-width="3" stroke-linecap="round" stroke-linejoin="round" opacity="0.75" filter="url(#b05)"/><path d="M781.5,338 C790,335.5 800,333 812,331 C817.5,330.5 819,337.5 814.5,339.5 L792,349 L782,349 Z" fill="#2331d2"/><path d="M784,340 C793,337 803,334.5 813,333.5" fill="none" stroke="#4a5af0" stroke-width="1.8" stroke-linecap="round" stroke-linejoin="round" opacity="0.8"/><path d="M814.5,332 L816.5,338" fill="none" stroke="#141a80" stroke-width="2" stroke-linecap="round" stroke-linejoin="round" opacity="0.5"/><path d="M806.5,350 L817.5,346 M808,356 L818.5,352" fill="none" stroke="#e2432a" stroke-width="3.3" stroke-linecap="round" stroke-linejoin="round"/><path d="M789.5,414 L802.5,414 L803,437 C802.5,441.5 798,443.2 794,442.2 C791,441.2 789.5,438 789.5,435 Z" fill="url(#gRed)"/><clipPath id="cHeart"><path d="M745.9,364.6 C747.0,361.4 748.3,360.4 750.0,359.0 C751.7,357.6 753.2,357.0 756.3,355.9 C759.4,354.8 764.1,353.3 768.5,352.4 C772.9,351.5 778.8,351.5 782.4,350.7 C786.0,349.9 787.4,348.4 790.0,347.5 C792.6,346.6 795.2,344.9 798.0,345.4 C800.8,345.9 803.8,347.5 806.7,350.7 C809.6,353.9 812.5,359.4 815.4,364.6 C818.3,369.8 822.1,376.2 824.1,382.0 C826.1,387.8 827.4,394.8 827.6,399.3 C827.8,403.8 826.6,406.4 825.5,409.0 C824.4,411.6 823.5,413.3 820.7,415.0 C817.9,416.7 812.9,419.0 808.5,419.3 C804.1,419.6 799.8,418.0 794.6,416.7 C789.4,415.4 783.0,413.8 777.2,411.5 C771.4,409.2 764.7,405.7 759.8,402.8 C754.9,399.9 750.4,398.2 747.6,394.1 C744.9,390.1 743.6,383.4 743.3,378.5 C743.0,373.6 744.8,367.9 745.9,364.6 Z"/></clipPath><path d="M745.9,364.6 C747.0,361.4 748.3,360.4 750.0,359.0 C751.7,357.6 753.2,357.0 756.3,355.9 C759.4,354.8 764.1,353.3 768.5,352.4 C772.9,351.5 778.8,351.5 782.4,350.7 C786.0,349.9 787.4,348.4 790.0,347.5 C792.6,346.6 795.2,344.9 798.0,345.4 C800.8,345.9 803.8,347.5 806.7,350.7 C809.6,353.9 812.5,359.4 815.4,364.6 C818.3,369.8 822.1,376.2 824.1,382.0 C826.1,387.8 827.4,394.8 827.6,399.3 C827.8,403.8 826.6,406.4 825.5,409.0 C824.4,411.6 823.5,413.3 820.7,415.0 C817.9,416.7 812.9,419.0 808.5,419.3 C804.1,419.6 799.8,418.0 794.6,416.7 C789.4,415.4 783.0,413.8 777.2,411.5 C771.4,409.2 764.7,405.7 759.8,402.8 C754.9,399.9 750.4,398.2 747.6,394.1 C744.9,390.1 743.6,383.4 743.3,378.5 C743.0,373.6 744.8,367.9 745.9,364.6 Z" fill="url(#gHeart)"/><g clip-path="url(#cHeart)"><path d="M744,362 L770,350 C766,366 758,384 750,398 L742,392 Z" fill="#cc341e" opacity="0.75"/><path d="M769,364 C765,372 760,384 754,394 C757,400 761,403 766,404 C772,402 776,397 778,392 C772,388 770,382 772,376 C774,372 774,368 769,364 Z" fill="#ea921e" opacity="0.9"/><path d="M760,386 C764,388 768,390 772,396" fill="none" stroke="#d0701a" stroke-width="0.9" stroke-linecap="round" stroke-linejoin="round" opacity="0.7"/><path d="M769.5,352 C765,368 758,384 751,397" fill="none" stroke="#a82412" stroke-width="1.6" stroke-linecap="round" stroke-linejoin="round" opacity="0.85"/><path d="M764,357 C760,370 754,382 748,392" fill="none" stroke="#e8583a" stroke-width="2.2" stroke-linecap="round" stroke-linejoin="round" opacity="0.6"/><path d="M803,362 C808,378 808,396 805,410 C808,416 812,420 818,420 L830,410 L828,380 L812,356 Z" fill="#e4501e" opacity="0.55"/><path d="M803.5,363 C806.5,374 807.5,386 806,398 C805,406 807.5,412 810.5,417" fill="none" stroke="#ea921e" stroke-width="2.3" stroke-linecap="round" stroke-linejoin="round"/><path d="M806.5,388 C811,394 813.5,402 813,412" fill="none" stroke="#ea921e" stroke-width="1.3" stroke-linecap="round" stroke-linejoin="round" opacity="0.9"/><path d="M806,403 C811,401 818,404 822,410 C820,416 814,419 808,419 C806,414 805,408 806,403 Z" fill="#ea921e" opacity="0.8"/><path d="M809,406 C812,410 814,414 815,418 M813,404 C816,408 818,412 819,415" fill="none" stroke="#d8441e" stroke-width="0.9" stroke-linecap="round" stroke-linejoin="round" opacity="0.8"/><path d="M782,362 C790,366 796,376 797,392" fill="none" stroke="#f86c4c" stroke-width="9" stroke-linecap="round" stroke-linejoin="round" opacity="0.45" filter="url(#b2)"/><path d="M748,396 C768,412 792,420 812,421" fill="none" stroke="#b82814" stroke-width="4" stroke-linecap="round" stroke-linejoin="round" opacity="0.45" filter="url(#b1)"/></g>
<circle cx="785.0" cy="732.3" r="86.2" fill="#111" opacity="0.78" filter="url(#sh)"/><circle cx="781.5" cy="726.8" r="85.5" fill="#fff" stroke="#0c0c0c" stroke-width="2.5"/>
<path d="M720,708 L751,686.5 L846,686.5 L817.5,708 Z" fill="#efb098"/><path d="M720,708 L751,686.5 L846,686.5 L817.5,708 Z" fill="url(#gSkinTop)"/><path d="M720,708 L817.5,708 L817.5,774 L720,774 Z" fill="#f1b4a0"/><path d="M817.5,708 L846,686.5 L846,753 L817.5,774 Z" fill="#e9a28a"/><path d="M720,708 L817.5,708 L817.5,716 C812,719 808,714 803,717 C798,720 794,715 789,718 C784,721 780,716 775,718 C770,721 765,716 760,718 C755,721 750,716 745,718 C740,721 735,716 730,718 C726,720 723,717 720,718 Z" fill="#e8707a"/><path d="M720,708 L817.5,708 L817.5,711.5 L720,711.5 Z" fill="#f4a6a0"/><path d="M817.5,708 L846,686.5 L846,694 L817.5,716 Z" fill="#e8707a"/><path d="M817.5,708 L846,686.5 L846,689.5 L817.5,711.5 Z" fill="#f4a6a0"/><path d="M720,767 L817.5,767 L817.5,774 L720,774 Z" fill="#f2a22c"/><path d="M720,769.2 L817.5,769.2" fill="none" stroke="#f8d84a" stroke-width="1.2" stroke-linecap="round" stroke-linejoin="round"/><path d="M720,772 L817.5,772" fill="none" stroke="#e8452a" stroke-width="0.9" stroke-linecap="round" stroke-linejoin="round"/><path d="M720,766.5 L817.5,766.5" fill="none" stroke="#e8552a" stroke-width="0.8" stroke-linecap="round" stroke-linejoin="round"/><path d="M817.5,767 L846,746 L846,753 L817.5,774 Z" fill="#f2a22c"/><path d="M817.5,769.2 L846,748.2" fill="none" stroke="#f8d84a" stroke-width="1.2" stroke-linecap="round" stroke-linejoin="round"/><path d="M817.5,772 L846,751" fill="none" stroke="#e8452a" stroke-width="0.9" stroke-linecap="round" stroke-linejoin="round"/><path d="M720,721 C740,719 760,722 780,720 C795,719 808,722 817.5,720" fill="none" stroke="#e8452a" stroke-width="0.8" stroke-linecap="round" stroke-linejoin="round"/><path d="M720,723 C740,721 760,724 780,722 C795,721 808,724 817.5,722" fill="none" stroke="#3a6ad8" stroke-width="0.8" stroke-linecap="round" stroke-linejoin="round"/><path d="M793,720 C792,735 786,745 790,755 C792,760 791,764 790,767" fill="none" stroke="#3a6ad8" stroke-width="1" stroke-linecap="round" stroke-linejoin="round"/><path d="M797,720 C796,735 790,746 794,756 C796,761 795,764 794,767" fill="none" stroke="#e8452a" stroke-width="1" stroke-linecap="round" stroke-linejoin="round"/><path d="M767,742 C768,752 765,760 766,767" fill="none" stroke="#3a6ad8" stroke-width="0.8" stroke-linecap="round" stroke-linejoin="round"/><path d="M769,742 C771,752 768,760 769,767" fill="none" stroke="#e8452a" stroke-width="0.8" stroke-linecap="round" stroke-linejoin="round"/><path d="M735,752 C736,758 733,763 734,767" fill="none" stroke="#3a6ad8" stroke-width="0.8" stroke-linecap="round" stroke-linejoin="round"/><path d="M826,706 C828,720 824,735 828,752" fill="none" stroke="#e8452a" stroke-width="0.9" stroke-linecap="round" stroke-linejoin="round"/><path d="M830,703 C833,718 829,733 833,748" fill="none" stroke="#3a6ad8" stroke-width="0.9" stroke-linecap="round" stroke-linejoin="round"/><path d="M838,697 C840,712 838,728 840,744" fill="none" stroke="#3a6ad8" stroke-width="0.8" stroke-linecap="round" stroke-linejoin="round"/><path d="M741.5,712 C742.5,725 739,735 739.5,744" fill="none" stroke="#d8b84a" stroke-width="1.2" stroke-linecap="round" stroke-linejoin="round"/><ellipse cx="736.5" cy="750.5" rx="7" ry="6.5" fill="#e8d28a" stroke="#c8a448" stroke-width="0.8"/><path d="M731,748 C735,752 739,746 742,751 M732,753 C736,756 739,752 742,755 M734,745 C737,747 739,744 741,746" fill="none" stroke="#b88a2a" stroke-width="0.7" stroke-linecap="round" stroke-linejoin="round"/><path d="M766.5,727 C769,733 772.5,738 771.5,744 C770,748.5 763,748.5 761.5,744 C760.5,738 764,733 766.5,727 Z" fill="#e8c848" stroke="#b8902a" stroke-width="0.8" stroke-linecap="round" stroke-linejoin="round"/><path d="M764,727 C770,722 776,720 780,716" fill="none" stroke="#7a3a30" stroke-width="2.2" stroke-linecap="round" stroke-linejoin="round"/><ellipse cx="826" cy="744" rx="4" ry="6.5" fill="#e4c060" opacity="0.85"/><path d="M766.5,742 C765.5,722 768,700 777,681" fill="none" stroke="#1a1a1a" stroke-width="1.7" stroke-linecap="round" stroke-linejoin="round"/><path d="M749,697 C749,686 752,675 761,669" fill="none" stroke="#1a1a1a" stroke-width="1.3" stroke-linecap="round" stroke-linejoin="round"/><path d="M799,695 C799,682 803,672 811,666" fill="none" stroke="#1a1a1a" stroke-width="1.3" stroke-linecap="round" stroke-linejoin="round"/>
<text class="t" x="495.3" y="36.5">Symptome einer</text><text class="t" x="489.7" y="83.9">Glutenunverträglichkeit</text><text class="l" x="154" y="282.8">Kopfschmerzen,</text><text class="l" x="154" y="309.8">Migräne,</text><text class="l" x="154" y="336.8">Müdigkeit,</text><text class="l" x="154" y="363.8">Reizbarkeit</text><text class="l" x="154.5" y="612.8">Bauchschmerzen,</text><text class="l" x="154.5" y="640.0">Durchfall,</text><text class="l" x="154.5" y="667.3">Verstopfung,</text><text class="l" x="154.5" y="694.5">Blähungen,</text><text class="l" x="154.5" y="721.8">Fettstuhl (Steatorrhoe),</text><text class="l" x="154.5" y="749.0">Gewichtsverlust</text><text class="l" x="781.4" y="491.9">Blutarmut</text><text class="l" x="781.2" y="847.3">Hautveränderungen</text>
</svg>
</body></html>
